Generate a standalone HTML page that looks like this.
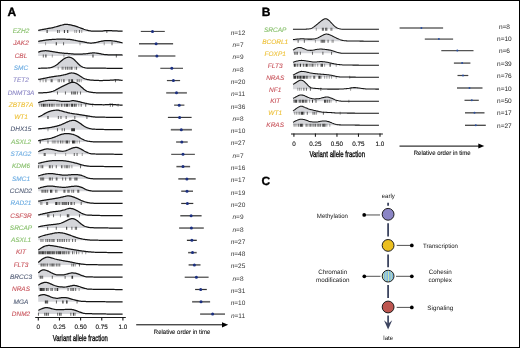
<!DOCTYPE html>
<html><head><meta charset="utf-8"><style>
html,body{margin:0;padding:0;background:#fff;width:520px;height:348px;overflow:hidden}
svg{display:block;will-change:transform}
text{font-family:"Liberation Sans",sans-serif;text-rendering:geometricPrecision}
</style></head><body>
<svg width="520" height="348" viewBox="0 0 520 348">
<rect x="0.5" y="0.5" width="519" height="347" fill="#fff" stroke="#000" stroke-width="1"/>
<path d="M38.20,31.40 L38.20,30.28 L38.97,30.18 L39.75,30.05 L40.52,29.90 L41.30,29.75 L42.07,29.60 L42.85,29.45 L43.62,29.31 L44.39,29.16 L45.17,29.02 L45.94,28.88 L46.72,28.75 L47.49,28.62 L48.27,28.49 L49.04,28.36 L49.81,28.23 L50.59,28.09 L51.36,27.95 L52.14,27.79 L52.91,27.61 L53.69,27.42 L54.46,27.21 L55.23,26.99 L56.01,26.77 L56.78,26.54 L57.56,26.32 L58.33,26.10 L59.11,25.89 L59.88,25.68 L60.66,25.46 L61.43,25.24 L62.20,25.02 L62.98,24.81 L63.75,24.63 L64.53,24.49 L65.30,24.39 L66.08,24.35 L66.85,24.36 L67.62,24.42 L68.40,24.52 L69.17,24.65 L69.95,24.80 L70.72,24.96 L71.50,25.14 L72.27,25.33 L73.04,25.52 L73.82,25.72 L74.59,25.93 L75.37,26.17 L76.14,26.42 L76.92,26.68 L77.69,26.95 L78.46,27.23 L79.24,27.50 L80.01,27.78 L80.79,28.06 L81.56,28.35 L82.34,28.64 L83.11,28.94 L83.88,29.24 L84.66,29.51 L85.43,29.76 L86.21,29.99 L86.98,30.18 L87.76,30.36 L88.53,30.52 L89.30,30.68 L90.08,30.82 L90.85,30.95 L91.63,31.05 L92.40,31.13 L93.18,31.19 L93.95,31.21 L94.72,31.22 L95.50,31.23 L96.27,31.23 L97.05,31.23 L97.82,31.23 L98.60,31.23 L99.37,31.23 L100.14,31.22 L100.92,31.20 L101.69,31.15 L102.47,31.07 L103.24,30.96 L104.02,30.85 L104.79,30.74 L105.57,30.64 L106.34,30.58 L107.11,30.56 L107.89,30.56 L108.66,30.58 L109.44,30.61 L110.21,30.64 L110.99,30.68 L111.76,30.73 L112.53,30.77 L113.31,30.81 L114.08,30.85 L114.86,30.89 L115.63,30.92 L116.41,30.96 L117.18,30.99 L117.95,31.03 L118.73,31.06 L119.50,31.09 L120.28,31.13 L121.05,31.16 L121.83,31.19 L122.60,31.21 L122.60,31.40 Z" fill="#d5d6da" stroke="none"/>
<path d="M74.81,30.00v3M76.54,30.00v3M81.73,30.00v3" stroke="#2a2a2a" stroke-width="1.05" stroke-opacity="0.42" fill="none"/>
<path d="M57.50,30.00v3M59.23,30.00v3M79.48,30.00v3M106.83,30.00v3" stroke="#2a2a2a" stroke-width="1.05" stroke-opacity="0.68" fill="none"/>
<path d="M47.12,30.00v3M64.42,30.00v3M67.71,30.00v3" stroke="#2a2a2a" stroke-width="1.05" stroke-opacity="0.95" fill="none"/>
<path d="M38.20,30.28 L38.97,30.18 L39.75,30.05 L40.52,29.90 L41.30,29.75 L42.07,29.60 L42.85,29.45 L43.62,29.31 L44.39,29.16 L45.17,29.02 L45.94,28.88 L46.72,28.75 L47.49,28.62 L48.27,28.49 L49.04,28.36 L49.81,28.23 L50.59,28.09 L51.36,27.95 L52.14,27.79 L52.91,27.61 L53.69,27.42 L54.46,27.21 L55.23,26.99 L56.01,26.77 L56.78,26.54 L57.56,26.32 L58.33,26.10 L59.11,25.89 L59.88,25.68 L60.66,25.46 L61.43,25.24 L62.20,25.02 L62.98,24.81 L63.75,24.63 L64.53,24.49 L65.30,24.39 L66.08,24.35 L66.85,24.36 L67.62,24.42 L68.40,24.52 L69.17,24.65 L69.95,24.80 L70.72,24.96 L71.50,25.14 L72.27,25.33 L73.04,25.52 L73.82,25.72 L74.59,25.93 L75.37,26.17 L76.14,26.42 L76.92,26.68 L77.69,26.95 L78.46,27.23 L79.24,27.50 L80.01,27.78 L80.79,28.06 L81.56,28.35 L82.34,28.64 L83.11,28.94 L83.88,29.24 L84.66,29.51 L85.43,29.76 L86.21,29.99 L86.98,30.18 L87.76,30.36 L88.53,30.52 L89.30,30.68 L90.08,30.82 L90.85,30.95 L91.63,31.05 L92.40,31.13 L93.18,31.19 L93.95,31.21 L94.72,31.22 L95.50,31.23 L96.27,31.23 L97.05,31.23 L97.82,31.23 L98.60,31.23 L99.37,31.23 L100.14,31.22 L100.92,31.20 L101.69,31.15 L102.47,31.07 L103.24,30.96 L104.02,30.85 L104.79,30.74 L105.57,30.64 L106.34,30.58 L107.11,30.56 L107.89,30.56 L108.66,30.58 L109.44,30.61 L110.21,30.64 L110.99,30.68 L111.76,30.73 L112.53,30.77 L113.31,30.81 L114.08,30.85 L114.86,30.89 L115.63,30.92 L116.41,30.96 L117.18,30.99 L117.95,31.03 L118.73,31.06 L119.50,31.09 L120.28,31.13 L121.05,31.16 L121.83,31.19 L122.60,31.21" fill="none" stroke="#151515" stroke-width="1.25" stroke-linejoin="round"/>
<path d="M38.20,43.69 L38.20,41.27 L38.97,41.18 L39.75,41.05 L40.52,40.91 L41.30,40.77 L42.07,40.64 L42.85,40.51 L43.62,40.39 L44.39,40.28 L45.17,40.17 L45.94,40.08 L46.72,39.98 L47.49,39.89 L48.27,39.80 L49.04,39.72 L49.81,39.65 L50.59,39.58 L51.36,39.52 L52.14,39.46 L52.91,39.42 L53.69,39.37 L54.46,39.33 L55.23,39.29 L56.01,39.25 L56.78,39.21 L57.56,39.18 L58.33,39.15 L59.11,39.13 L59.88,39.12 L60.66,39.11 L61.43,39.11 L62.20,39.12 L62.98,39.13 L63.75,39.15 L64.53,39.18 L65.30,39.21 L66.08,39.25 L66.85,39.29 L67.62,39.33 L68.40,39.38 L69.17,39.43 L69.95,39.49 L70.72,39.57 L71.50,39.68 L72.27,39.80 L73.04,39.94 L73.82,40.09 L74.59,40.25 L75.37,40.42 L76.14,40.58 L76.92,40.74 L77.69,40.89 L78.46,41.03 L79.24,41.17 L80.01,41.30 L80.79,41.43 L81.56,41.56 L82.34,41.69 L83.11,41.82 L83.88,41.96 L84.66,42.12 L85.43,42.29 L86.21,42.46 L86.98,42.63 L87.76,42.78 L88.53,42.90 L89.30,42.99 L90.08,43.04 L90.85,43.05 L91.63,43.02 L92.40,42.96 L93.18,42.88 L93.95,42.79 L94.72,42.68 L95.50,42.56 L96.27,42.42 L97.05,42.25 L97.82,42.06 L98.60,41.86 L99.37,41.67 L100.14,41.50 L100.92,41.34 L101.69,41.20 L102.47,41.07 L103.24,40.94 L104.02,40.82 L104.79,40.72 L105.57,40.63 L106.34,40.56 L107.11,40.52 L107.89,40.51 L108.66,40.53 L109.44,40.57 L110.21,40.63 L110.99,40.71 L111.76,40.80 L112.53,40.90 L113.31,41.00 L114.08,41.11 L114.86,41.22 L115.63,41.34 L116.41,41.47 L117.18,41.62 L117.95,41.77 L118.73,41.94 L119.50,42.12 L120.28,42.30 L121.05,42.49 L121.83,42.67 L122.60,42.80 L122.60,43.69 Z" fill="#d5d6da" stroke="none"/>
<path d="M45.56,42.29v3M80.00,42.29v3M104.23,42.29v3" stroke="#2a2a2a" stroke-width="1.05" stroke-opacity="0.42" fill="none"/>
<path d="M63.56,42.29v3M112.02,42.29v3" stroke="#2a2a2a" stroke-width="1.05" stroke-opacity="0.68" fill="none"/>
<path d="M56.29,42.29v3" stroke="#2a2a2a" stroke-width="1.05" stroke-opacity="0.95" fill="none"/>
<path d="M38.20,41.27 L38.97,41.18 L39.75,41.05 L40.52,40.91 L41.30,40.77 L42.07,40.64 L42.85,40.51 L43.62,40.39 L44.39,40.28 L45.17,40.17 L45.94,40.08 L46.72,39.98 L47.49,39.89 L48.27,39.80 L49.04,39.72 L49.81,39.65 L50.59,39.58 L51.36,39.52 L52.14,39.46 L52.91,39.42 L53.69,39.37 L54.46,39.33 L55.23,39.29 L56.01,39.25 L56.78,39.21 L57.56,39.18 L58.33,39.15 L59.11,39.13 L59.88,39.12 L60.66,39.11 L61.43,39.11 L62.20,39.12 L62.98,39.13 L63.75,39.15 L64.53,39.18 L65.30,39.21 L66.08,39.25 L66.85,39.29 L67.62,39.33 L68.40,39.38 L69.17,39.43 L69.95,39.49 L70.72,39.57 L71.50,39.68 L72.27,39.80 L73.04,39.94 L73.82,40.09 L74.59,40.25 L75.37,40.42 L76.14,40.58 L76.92,40.74 L77.69,40.89 L78.46,41.03 L79.24,41.17 L80.01,41.30 L80.79,41.43 L81.56,41.56 L82.34,41.69 L83.11,41.82 L83.88,41.96 L84.66,42.12 L85.43,42.29 L86.21,42.46 L86.98,42.63 L87.76,42.78 L88.53,42.90 L89.30,42.99 L90.08,43.04 L90.85,43.05 L91.63,43.02 L92.40,42.96 L93.18,42.88 L93.95,42.79 L94.72,42.68 L95.50,42.56 L96.27,42.42 L97.05,42.25 L97.82,42.06 L98.60,41.86 L99.37,41.67 L100.14,41.50 L100.92,41.34 L101.69,41.20 L102.47,41.07 L103.24,40.94 L104.02,40.82 L104.79,40.72 L105.57,40.63 L106.34,40.56 L107.11,40.52 L107.89,40.51 L108.66,40.53 L109.44,40.57 L110.21,40.63 L110.99,40.71 L111.76,40.80 L112.53,40.90 L113.31,41.00 L114.08,41.11 L114.86,41.22 L115.63,41.34 L116.41,41.47 L117.18,41.62 L117.95,41.77 L118.73,41.94 L119.50,42.12 L120.28,42.30 L121.05,42.49 L121.83,42.67 L122.60,42.80" fill="none" stroke="#151515" stroke-width="1.25" stroke-linejoin="round"/>
<path d="M38.20,55.98 L38.20,52.09 L38.97,51.90 L39.75,51.65 L40.52,51.41 L41.30,51.21 L42.07,51.05 L42.85,50.93 L43.62,50.83 L44.39,50.77 L45.17,50.74 L45.94,50.74 L46.72,50.78 L47.49,50.85 L48.27,50.94 L49.04,51.05 L49.81,51.17 L50.59,51.30 L51.36,51.42 L52.14,51.54 L52.91,51.66 L53.69,51.78 L54.46,51.91 L55.23,52.05 L56.01,52.18 L56.78,52.32 L57.56,52.45 L58.33,52.58 L59.11,52.70 L59.88,52.81 L60.66,52.91 L61.43,52.99 L62.20,53.07 L62.98,53.14 L63.75,53.21 L64.53,53.27 L65.30,53.32 L66.08,53.38 L66.85,53.44 L67.62,53.49 L68.40,53.55 L69.17,53.61 L69.95,53.68 L70.72,53.75 L71.50,53.83 L72.27,53.91 L73.04,53.98 L73.82,54.05 L74.59,54.10 L75.37,54.13 L76.14,54.15 L76.92,54.15 L77.69,54.15 L78.46,54.13 L79.24,54.12 L80.01,54.10 L80.79,54.07 L81.56,54.04 L82.34,54.01 L83.11,53.98 L83.88,53.94 L84.66,53.89 L85.43,53.83 L86.21,53.75 L86.98,53.65 L87.76,53.54 L88.53,53.43 L89.30,53.33 L90.08,53.22 L90.85,53.11 L91.63,53.02 L92.40,52.94 L93.18,52.90 L93.95,52.90 L94.72,52.94 L95.50,53.00 L96.27,53.07 L97.05,53.16 L97.82,53.26 L98.60,53.38 L99.37,53.52 L100.14,53.69 L100.92,53.86 L101.69,54.04 L102.47,54.21 L103.24,54.35 L104.02,54.46 L104.79,54.54 L105.57,54.61 L106.34,54.66 L107.11,54.71 L107.89,54.76 L108.66,54.79 L109.44,54.82 L110.21,54.84 L110.99,54.85 L111.76,54.85 L112.53,54.85 L113.31,54.85 L114.08,54.86 L114.86,54.86 L115.63,54.86 L116.41,54.86 L117.18,54.86 L117.95,54.88 L118.73,54.89 L119.50,54.91 L120.28,54.94 L121.05,54.96 L121.83,54.99 L122.60,55.01 L122.60,55.98 Z" fill="#d5d6da" stroke="none"/>
<path d="M52.31,54.58v3M63.90,54.58v3" stroke="#2a2a2a" stroke-width="1.05" stroke-opacity="0.42" fill="none"/>
<path d="M43.31,54.58v3M116.35,54.58v3" stroke="#2a2a2a" stroke-width="1.05" stroke-opacity="0.68" fill="none"/>
<path d="M45.90,54.58v3M92.98,54.58v3" stroke="#2a2a2a" stroke-width="1.05" stroke-opacity="0.95" fill="none"/>
<path d="M38.20,52.09 L38.97,51.90 L39.75,51.65 L40.52,51.41 L41.30,51.21 L42.07,51.05 L42.85,50.93 L43.62,50.83 L44.39,50.77 L45.17,50.74 L45.94,50.74 L46.72,50.78 L47.49,50.85 L48.27,50.94 L49.04,51.05 L49.81,51.17 L50.59,51.30 L51.36,51.42 L52.14,51.54 L52.91,51.66 L53.69,51.78 L54.46,51.91 L55.23,52.05 L56.01,52.18 L56.78,52.32 L57.56,52.45 L58.33,52.58 L59.11,52.70 L59.88,52.81 L60.66,52.91 L61.43,52.99 L62.20,53.07 L62.98,53.14 L63.75,53.21 L64.53,53.27 L65.30,53.32 L66.08,53.38 L66.85,53.44 L67.62,53.49 L68.40,53.55 L69.17,53.61 L69.95,53.68 L70.72,53.75 L71.50,53.83 L72.27,53.91 L73.04,53.98 L73.82,54.05 L74.59,54.10 L75.37,54.13 L76.14,54.15 L76.92,54.15 L77.69,54.15 L78.46,54.13 L79.24,54.12 L80.01,54.10 L80.79,54.07 L81.56,54.04 L82.34,54.01 L83.11,53.98 L83.88,53.94 L84.66,53.89 L85.43,53.83 L86.21,53.75 L86.98,53.65 L87.76,53.54 L88.53,53.43 L89.30,53.33 L90.08,53.22 L90.85,53.11 L91.63,53.02 L92.40,52.94 L93.18,52.90 L93.95,52.90 L94.72,52.94 L95.50,53.00 L96.27,53.07 L97.05,53.16 L97.82,53.26 L98.60,53.38 L99.37,53.52 L100.14,53.69 L100.92,53.86 L101.69,54.04 L102.47,54.21 L103.24,54.35 L104.02,54.46 L104.79,54.54 L105.57,54.61 L106.34,54.66 L107.11,54.71 L107.89,54.76 L108.66,54.79 L109.44,54.82 L110.21,54.84 L110.99,54.85 L111.76,54.85 L112.53,54.85 L113.31,54.85 L114.08,54.86 L114.86,54.86 L115.63,54.86 L116.41,54.86 L117.18,54.86 L117.95,54.88 L118.73,54.89 L119.50,54.91 L120.28,54.94 L121.05,54.96 L121.83,54.99 L122.60,55.01" fill="none" stroke="#151515" stroke-width="1.25" stroke-linejoin="round"/>
<path d="M38.20,68.27 L38.20,68.27 L38.97,68.27 L39.75,68.26 L40.52,68.25 L41.30,68.24 L42.07,68.22 L42.85,68.20 L43.62,68.17 L44.39,68.15 L45.17,68.12 L45.94,68.08 L46.72,68.04 L47.49,68.00 L48.27,67.95 L49.04,67.87 L49.81,67.76 L50.59,67.60 L51.36,67.38 L52.14,67.12 L52.91,66.82 L53.69,66.49 L54.46,66.13 L55.23,65.74 L56.01,65.29 L56.78,64.78 L57.56,64.18 L58.33,63.51 L59.11,62.82 L59.88,62.12 L60.66,61.45 L61.43,60.81 L62.20,60.18 L62.98,59.58 L63.75,59.02 L64.53,58.52 L65.30,58.11 L66.08,57.76 L66.85,57.48 L67.62,57.26 L68.40,57.15 L69.17,57.15 L69.95,57.27 L70.72,57.49 L71.50,57.80 L72.27,58.19 L73.04,58.70 L73.82,59.33 L74.59,60.06 L75.37,60.85 L76.14,61.63 L76.92,62.41 L77.69,63.20 L78.46,63.99 L79.24,64.75 L80.01,65.45 L80.79,66.05 L81.56,66.54 L82.34,66.92 L83.11,67.23 L83.88,67.49 L84.66,67.71 L85.43,67.89 L86.21,68.00 L86.98,68.07 L87.76,68.10 L88.53,68.11 L89.30,68.12 L90.08,68.13 L90.85,68.14 L91.63,68.15 L92.40,68.16 L93.18,68.16 L93.95,68.17 L94.72,68.18 L95.50,68.18 L96.27,68.19 L97.05,68.20 L97.82,68.20 L98.60,68.21 L99.37,68.21 L100.14,68.22 L100.92,68.22 L101.69,68.22 L102.47,68.23 L103.24,68.23 L104.02,68.24 L104.79,68.24 L105.57,68.24 L106.34,68.25 L107.11,68.25 L107.89,68.25 L108.66,68.25 L109.44,68.25 L110.21,68.26 L110.99,68.26 L111.76,68.26 L112.53,68.26 L113.31,68.26 L114.08,68.26 L114.86,68.27 L115.63,68.27 L116.41,68.27 L117.18,68.27 L117.95,68.27 L118.73,68.27 L119.50,68.27 L120.28,68.27 L121.05,68.27 L121.83,68.27 L122.60,68.27 L122.60,68.27 Z" fill="#d5d6da" stroke="none"/>
<path d="M58.19,66.87v3M63.73,66.87v3M74.98,66.87v3" stroke="#2a2a2a" stroke-width="1.05" stroke-opacity="0.42" fill="none"/>
<path d="M62.17,66.87v3M65.63,66.87v3M67.37,66.87v3M69.10,66.87v3M71.00,66.87v3M72.04,66.87v3M76.54,66.87v3" stroke="#2a2a2a" stroke-width="1.05" stroke-opacity="0.68" fill="none"/>
<path d="M38.20,68.27 L38.97,68.27 L39.75,68.26 L40.52,68.25 L41.30,68.24 L42.07,68.22 L42.85,68.20 L43.62,68.17 L44.39,68.15 L45.17,68.12 L45.94,68.08 L46.72,68.04 L47.49,68.00 L48.27,67.95 L49.04,67.87 L49.81,67.76 L50.59,67.60 L51.36,67.38 L52.14,67.12 L52.91,66.82 L53.69,66.49 L54.46,66.13 L55.23,65.74 L56.01,65.29 L56.78,64.78 L57.56,64.18 L58.33,63.51 L59.11,62.82 L59.88,62.12 L60.66,61.45 L61.43,60.81 L62.20,60.18 L62.98,59.58 L63.75,59.02 L64.53,58.52 L65.30,58.11 L66.08,57.76 L66.85,57.48 L67.62,57.26 L68.40,57.15 L69.17,57.15 L69.95,57.27 L70.72,57.49 L71.50,57.80 L72.27,58.19 L73.04,58.70 L73.82,59.33 L74.59,60.06 L75.37,60.85 L76.14,61.63 L76.92,62.41 L77.69,63.20 L78.46,63.99 L79.24,64.75 L80.01,65.45 L80.79,66.05 L81.56,66.54 L82.34,66.92 L83.11,67.23 L83.88,67.49 L84.66,67.71 L85.43,67.89 L86.21,68.00 L86.98,68.07 L87.76,68.10 L88.53,68.11 L89.30,68.12 L90.08,68.13 L90.85,68.14 L91.63,68.15 L92.40,68.16 L93.18,68.16 L93.95,68.17 L94.72,68.18 L95.50,68.18 L96.27,68.19 L97.05,68.20 L97.82,68.20 L98.60,68.21 L99.37,68.21 L100.14,68.22 L100.92,68.22 L101.69,68.22 L102.47,68.23 L103.24,68.23 L104.02,68.24 L104.79,68.24 L105.57,68.24 L106.34,68.25 L107.11,68.25 L107.89,68.25 L108.66,68.25 L109.44,68.25 L110.21,68.26 L110.99,68.26 L111.76,68.26 L112.53,68.26 L113.31,68.26 L114.08,68.26 L114.86,68.27 L115.63,68.27 L116.41,68.27 L117.18,68.27 L117.95,68.27 L118.73,68.27 L119.50,68.27 L120.28,68.27 L121.05,68.27 L121.83,68.27 L122.60,68.27" fill="none" stroke="#151515" stroke-width="1.25" stroke-linejoin="round"/>
<path d="M38.20,80.56 L38.20,79.41 L38.97,79.32 L39.75,79.19 L40.52,79.04 L41.30,78.90 L42.07,78.75 L42.85,78.60 L43.62,78.45 L44.39,78.30 L45.17,78.14 L45.94,77.99 L46.72,77.83 L47.49,77.67 L48.27,77.51 L49.04,77.35 L49.81,77.19 L50.59,77.04 L51.36,76.89 L52.14,76.76 L52.91,76.63 L53.69,76.51 L54.46,76.40 L55.23,76.30 L56.01,76.20 L56.78,76.10 L57.56,76.00 L58.33,75.90 L59.11,75.79 L59.88,75.68 L60.66,75.55 L61.43,75.41 L62.20,75.26 L62.98,75.09 L63.75,74.92 L64.53,74.74 L65.30,74.55 L66.08,74.35 L66.85,74.14 L67.62,73.91 L68.40,73.66 L69.17,73.41 L69.95,73.20 L70.72,73.05 L71.50,72.98 L72.27,73.00 L73.04,73.08 L73.82,73.21 L74.59,73.37 L75.37,73.57 L76.14,73.83 L76.92,74.18 L77.69,74.59 L78.46,75.06 L79.24,75.55 L80.01,76.03 L80.79,76.52 L81.56,77.01 L82.34,77.50 L83.11,77.96 L83.88,78.37 L84.66,78.72 L85.43,78.99 L86.21,79.21 L86.98,79.40 L87.76,79.57 L88.53,79.72 L89.30,79.85 L90.08,79.96 L90.85,80.05 L91.63,80.13 L92.40,80.19 L93.18,80.24 L93.95,80.29 L94.72,80.34 L95.50,80.38 L96.27,80.41 L97.05,80.45 L97.82,80.47 L98.60,80.49 L99.37,80.51 L100.14,80.52 L100.92,80.52 L101.69,80.52 L102.47,80.51 L103.24,80.49 L104.02,80.47 L104.79,80.45 L105.57,80.42 L106.34,80.40 L107.11,80.36 L107.89,80.33 L108.66,80.30 L109.44,80.26 L110.21,80.22 L110.99,80.18 L111.76,80.13 L112.53,80.08 L113.31,80.02 L114.08,79.96 L114.86,79.90 L115.63,79.87 L116.41,79.86 L117.18,79.87 L117.95,79.90 L118.73,79.96 L119.50,80.04 L120.28,80.13 L121.05,80.25 L121.83,80.36 L122.60,80.45 L122.60,80.56 Z" fill="#d5d6da" stroke="none"/>
<path d="M40.19,79.16v3M43.13,79.16v3M58.02,79.16v3M61.48,79.16v3M81.21,79.16v3" stroke="#2a2a2a" stroke-width="1.05" stroke-opacity="0.42" fill="none"/>
<path d="M45.90,79.16v3M51.10,79.16v3M52.13,79.16v3M59.23,79.16v3M77.23,79.16v3M79.13,79.16v3M115.48,79.16v3" stroke="#2a2a2a" stroke-width="1.05" stroke-opacity="0.68" fill="none"/>
<path d="M63.90,79.16v3M69.10,79.16v3M71.35,79.16v3M72.56,79.16v3" stroke="#2a2a2a" stroke-width="1.05" stroke-opacity="0.95" fill="none"/>
<path d="M38.20,79.41 L38.97,79.32 L39.75,79.19 L40.52,79.04 L41.30,78.90 L42.07,78.75 L42.85,78.60 L43.62,78.45 L44.39,78.30 L45.17,78.14 L45.94,77.99 L46.72,77.83 L47.49,77.67 L48.27,77.51 L49.04,77.35 L49.81,77.19 L50.59,77.04 L51.36,76.89 L52.14,76.76 L52.91,76.63 L53.69,76.51 L54.46,76.40 L55.23,76.30 L56.01,76.20 L56.78,76.10 L57.56,76.00 L58.33,75.90 L59.11,75.79 L59.88,75.68 L60.66,75.55 L61.43,75.41 L62.20,75.26 L62.98,75.09 L63.75,74.92 L64.53,74.74 L65.30,74.55 L66.08,74.35 L66.85,74.14 L67.62,73.91 L68.40,73.66 L69.17,73.41 L69.95,73.20 L70.72,73.05 L71.50,72.98 L72.27,73.00 L73.04,73.08 L73.82,73.21 L74.59,73.37 L75.37,73.57 L76.14,73.83 L76.92,74.18 L77.69,74.59 L78.46,75.06 L79.24,75.55 L80.01,76.03 L80.79,76.52 L81.56,77.01 L82.34,77.50 L83.11,77.96 L83.88,78.37 L84.66,78.72 L85.43,78.99 L86.21,79.21 L86.98,79.40 L87.76,79.57 L88.53,79.72 L89.30,79.85 L90.08,79.96 L90.85,80.05 L91.63,80.13 L92.40,80.19 L93.18,80.24 L93.95,80.29 L94.72,80.34 L95.50,80.38 L96.27,80.41 L97.05,80.45 L97.82,80.47 L98.60,80.49 L99.37,80.51 L100.14,80.52 L100.92,80.52 L101.69,80.52 L102.47,80.51 L103.24,80.49 L104.02,80.47 L104.79,80.45 L105.57,80.42 L106.34,80.40 L107.11,80.36 L107.89,80.33 L108.66,80.30 L109.44,80.26 L110.21,80.22 L110.99,80.18 L111.76,80.13 L112.53,80.08 L113.31,80.02 L114.08,79.96 L114.86,79.90 L115.63,79.87 L116.41,79.86 L117.18,79.87 L117.95,79.90 L118.73,79.96 L119.50,80.04 L120.28,80.13 L121.05,80.25 L121.83,80.36 L122.60,80.45" fill="none" stroke="#151515" stroke-width="1.25" stroke-linejoin="round"/>
<path d="M38.20,92.85 L38.20,92.85 L38.97,92.84 L39.75,92.84 L40.52,92.83 L41.30,92.81 L42.07,92.79 L42.85,92.77 L43.62,92.74 L44.39,92.71 L45.17,92.68 L45.94,92.63 L46.72,92.55 L47.49,92.46 L48.27,92.34 L49.04,92.21 L49.81,92.05 L50.59,91.88 L51.36,91.69 L52.14,91.48 L52.91,91.24 L53.69,90.94 L54.46,90.60 L55.23,90.21 L56.01,89.79 L56.78,89.36 L57.56,88.92 L58.33,88.49 L59.11,88.08 L59.88,87.68 L60.66,87.28 L61.43,86.89 L62.20,86.49 L62.98,86.10 L63.75,85.71 L64.53,85.33 L65.30,84.95 L66.08,84.58 L66.85,84.20 L67.62,83.83 L68.40,83.47 L69.17,83.14 L69.95,82.85 L70.72,82.60 L71.50,82.41 L72.27,82.27 L73.04,82.23 L73.82,82.30 L74.59,82.48 L75.37,82.75 L76.14,83.09 L76.92,83.52 L77.69,84.02 L78.46,84.58 L79.24,85.17 L80.01,85.81 L80.79,86.48 L81.56,87.16 L82.34,87.84 L83.11,88.51 L83.88,89.16 L84.66,89.78 L85.43,90.36 L86.21,90.84 L86.98,91.22 L87.76,91.50 L88.53,91.72 L89.30,91.89 L90.08,92.04 L90.85,92.18 L91.63,92.31 L92.40,92.43 L93.18,92.54 L93.95,92.63 L94.72,92.70 L95.50,92.74 L96.27,92.76 L97.05,92.77 L97.82,92.78 L98.60,92.79 L99.37,92.79 L100.14,92.80 L100.92,92.80 L101.69,92.80 L102.47,92.81 L103.24,92.81 L104.02,92.82 L104.79,92.82 L105.57,92.82 L106.34,92.82 L107.11,92.83 L107.89,92.83 L108.66,92.83 L109.44,92.83 L110.21,92.84 L110.99,92.84 L111.76,92.84 L112.53,92.84 L113.31,92.84 L114.08,92.84 L114.86,92.85 L115.63,92.85 L116.41,92.85 L117.18,92.85 L117.95,92.85 L118.73,92.85 L119.50,92.85 L120.28,92.85 L121.05,92.85 L121.83,92.85 L122.60,92.85 L122.60,92.85 Z" fill="#d5d6da" stroke="none"/>
<path d="M57.50,91.45v3M65.46,91.45v3M71.52,91.45v3M73.08,91.45v3M74.29,91.45v3M75.50,91.45v3M77.40,91.45v3M80.52,91.45v3" stroke="#2a2a2a" stroke-width="1.05" stroke-opacity="0.68" fill="none"/>
<path d="M38.20,92.85 L38.97,92.84 L39.75,92.84 L40.52,92.83 L41.30,92.81 L42.07,92.79 L42.85,92.77 L43.62,92.74 L44.39,92.71 L45.17,92.68 L45.94,92.63 L46.72,92.55 L47.49,92.46 L48.27,92.34 L49.04,92.21 L49.81,92.05 L50.59,91.88 L51.36,91.69 L52.14,91.48 L52.91,91.24 L53.69,90.94 L54.46,90.60 L55.23,90.21 L56.01,89.79 L56.78,89.36 L57.56,88.92 L58.33,88.49 L59.11,88.08 L59.88,87.68 L60.66,87.28 L61.43,86.89 L62.20,86.49 L62.98,86.10 L63.75,85.71 L64.53,85.33 L65.30,84.95 L66.08,84.58 L66.85,84.20 L67.62,83.83 L68.40,83.47 L69.17,83.14 L69.95,82.85 L70.72,82.60 L71.50,82.41 L72.27,82.27 L73.04,82.23 L73.82,82.30 L74.59,82.48 L75.37,82.75 L76.14,83.09 L76.92,83.52 L77.69,84.02 L78.46,84.58 L79.24,85.17 L80.01,85.81 L80.79,86.48 L81.56,87.16 L82.34,87.84 L83.11,88.51 L83.88,89.16 L84.66,89.78 L85.43,90.36 L86.21,90.84 L86.98,91.22 L87.76,91.50 L88.53,91.72 L89.30,91.89 L90.08,92.04 L90.85,92.18 L91.63,92.31 L92.40,92.43 L93.18,92.54 L93.95,92.63 L94.72,92.70 L95.50,92.74 L96.27,92.76 L97.05,92.77 L97.82,92.78 L98.60,92.79 L99.37,92.79 L100.14,92.80 L100.92,92.80 L101.69,92.80 L102.47,92.81 L103.24,92.81 L104.02,92.82 L104.79,92.82 L105.57,92.82 L106.34,92.82 L107.11,92.83 L107.89,92.83 L108.66,92.83 L109.44,92.83 L110.21,92.84 L110.99,92.84 L111.76,92.84 L112.53,92.84 L113.31,92.84 L114.08,92.84 L114.86,92.85 L115.63,92.85 L116.41,92.85 L117.18,92.85 L117.95,92.85 L118.73,92.85 L119.50,92.85 L120.28,92.85 L121.05,92.85 L121.83,92.85 L122.60,92.85" fill="none" stroke="#151515" stroke-width="1.25" stroke-linejoin="round"/>
<path d="M38.20,105.14 L38.20,102.54 L38.97,102.37 L39.75,102.15 L40.52,101.92 L41.30,101.69 L42.07,101.49 L42.85,101.31 L43.62,101.14 L44.39,101.00 L45.17,100.86 L45.94,100.73 L46.72,100.61 L47.49,100.50 L48.27,100.41 L49.04,100.34 L49.81,100.30 L50.59,100.28 L51.36,100.28 L52.14,100.29 L52.91,100.32 L53.69,100.35 L54.46,100.39 L55.23,100.44 L56.01,100.50 L56.78,100.56 L57.56,100.64 L58.33,100.75 L59.11,100.88 L59.88,101.04 L60.66,101.19 L61.43,101.32 L62.20,101.40 L62.98,101.45 L63.75,101.47 L64.53,101.47 L65.30,101.47 L66.08,101.47 L66.85,101.46 L67.62,101.45 L68.40,101.39 L69.17,101.29 L69.95,101.15 L70.72,100.99 L71.50,100.83 L72.27,100.72 L73.04,100.67 L73.82,100.68 L74.59,100.76 L75.37,100.87 L76.14,101.02 L76.92,101.18 L77.69,101.35 L78.46,101.52 L79.24,101.69 L80.01,101.88 L80.79,102.08 L81.56,102.28 L82.34,102.49 L83.11,102.70 L83.88,102.89 L84.66,103.07 L85.43,103.25 L86.21,103.42 L86.98,103.59 L87.76,103.75 L88.53,103.90 L89.30,104.05 L90.08,104.17 L90.85,104.28 L91.63,104.36 L92.40,104.42 L93.18,104.46 L93.95,104.50 L94.72,104.54 L95.50,104.57 L96.27,104.60 L97.05,104.63 L97.82,104.65 L98.60,104.68 L99.37,104.70 L100.14,104.71 L100.92,104.73 L101.69,104.74 L102.47,104.75 L103.24,104.75 L104.02,104.75 L104.79,104.74 L105.57,104.71 L106.34,104.67 L107.11,104.63 L107.89,104.57 L108.66,104.52 L109.44,104.48 L110.21,104.45 L110.99,104.43 L111.76,104.44 L112.53,104.47 L113.31,104.52 L114.08,104.58 L114.86,104.66 L115.63,104.73 L116.41,104.80 L117.18,104.86 L117.95,104.92 L118.73,104.96 L119.50,105.00 L120.28,105.03 L121.05,105.06 L121.83,105.08 L122.60,105.09 L122.60,105.14 Z" fill="#d5d6da" stroke="none"/>
<path d="M39.67,103.74v3M56.29,103.74v3M59.75,103.74v3M62.69,103.74v3M78.79,103.74v3M92.63,103.74v3M118.08,103.74v3" stroke="#2a2a2a" stroke-width="1.05" stroke-opacity="0.42" fill="none"/>
<path d="M41.40,103.74v3M47.63,103.74v3M51.10,103.74v3M52.31,103.74v3M54.04,103.74v3M58.02,103.74v3M61.48,103.74v3M64.42,103.74v3M69.10,103.74v3M81.21,103.74v3M85.71,103.74v3M110.29,103.74v3M112.54,103.74v3" stroke="#2a2a2a" stroke-width="1.05" stroke-opacity="0.68" fill="none"/>
<path d="M43.13,103.74v3M44.17,103.74v3M45.90,103.74v3M49.37,103.74v3M66.15,103.74v3M67.37,103.74v3M71.35,103.74v3M72.56,103.74v3M74.29,103.74v3M76.02,103.74v3" stroke="#2a2a2a" stroke-width="1.05" stroke-opacity="0.95" fill="none"/>
<path d="M38.20,102.54 L38.97,102.37 L39.75,102.15 L40.52,101.92 L41.30,101.69 L42.07,101.49 L42.85,101.31 L43.62,101.14 L44.39,101.00 L45.17,100.86 L45.94,100.73 L46.72,100.61 L47.49,100.50 L48.27,100.41 L49.04,100.34 L49.81,100.30 L50.59,100.28 L51.36,100.28 L52.14,100.29 L52.91,100.32 L53.69,100.35 L54.46,100.39 L55.23,100.44 L56.01,100.50 L56.78,100.56 L57.56,100.64 L58.33,100.75 L59.11,100.88 L59.88,101.04 L60.66,101.19 L61.43,101.32 L62.20,101.40 L62.98,101.45 L63.75,101.47 L64.53,101.47 L65.30,101.47 L66.08,101.47 L66.85,101.46 L67.62,101.45 L68.40,101.39 L69.17,101.29 L69.95,101.15 L70.72,100.99 L71.50,100.83 L72.27,100.72 L73.04,100.67 L73.82,100.68 L74.59,100.76 L75.37,100.87 L76.14,101.02 L76.92,101.18 L77.69,101.35 L78.46,101.52 L79.24,101.69 L80.01,101.88 L80.79,102.08 L81.56,102.28 L82.34,102.49 L83.11,102.70 L83.88,102.89 L84.66,103.07 L85.43,103.25 L86.21,103.42 L86.98,103.59 L87.76,103.75 L88.53,103.90 L89.30,104.05 L90.08,104.17 L90.85,104.28 L91.63,104.36 L92.40,104.42 L93.18,104.46 L93.95,104.50 L94.72,104.54 L95.50,104.57 L96.27,104.60 L97.05,104.63 L97.82,104.65 L98.60,104.68 L99.37,104.70 L100.14,104.71 L100.92,104.73 L101.69,104.74 L102.47,104.75 L103.24,104.75 L104.02,104.75 L104.79,104.74 L105.57,104.71 L106.34,104.67 L107.11,104.63 L107.89,104.57 L108.66,104.52 L109.44,104.48 L110.21,104.45 L110.99,104.43 L111.76,104.44 L112.53,104.47 L113.31,104.52 L114.08,104.58 L114.86,104.66 L115.63,104.73 L116.41,104.80 L117.18,104.86 L117.95,104.92 L118.73,104.96 L119.50,105.00 L120.28,105.03 L121.05,105.06 L121.83,105.08 L122.60,105.09" fill="none" stroke="#151515" stroke-width="1.25" stroke-linejoin="round"/>
<path d="M38.20,117.43 L38.20,116.86 L38.97,116.64 L39.75,116.33 L40.52,115.98 L41.30,115.60 L42.07,115.20 L42.85,114.77 L43.62,114.32 L44.39,113.86 L45.17,113.40 L45.94,112.97 L46.72,112.58 L47.49,112.22 L48.27,111.89 L49.04,111.59 L49.81,111.31 L50.59,111.06 L51.36,110.86 L52.14,110.69 L52.91,110.55 L53.69,110.43 L54.46,110.33 L55.23,110.25 L56.01,110.19 L56.78,110.15 L57.56,110.16 L58.33,110.23 L59.11,110.35 L59.88,110.53 L60.66,110.74 L61.43,110.96 L62.20,111.18 L62.98,111.39 L63.75,111.59 L64.53,111.79 L65.30,112.00 L66.08,112.20 L66.85,112.40 L67.62,112.59 L68.40,112.78 L69.17,112.95 L69.95,113.11 L70.72,113.25 L71.50,113.39 L72.27,113.52 L73.04,113.64 L73.82,113.76 L74.59,113.88 L75.37,114.00 L76.14,114.11 L76.92,114.23 L77.69,114.35 L78.46,114.47 L79.24,114.59 L80.01,114.72 L80.79,114.84 L81.56,114.97 L82.34,115.10 L83.11,115.22 L83.88,115.35 L84.66,115.47 L85.43,115.59 L86.21,115.71 L86.98,115.83 L87.76,115.96 L88.53,116.09 L89.30,116.22 L90.08,116.35 L90.85,116.49 L91.63,116.61 L92.40,116.73 L93.18,116.83 L93.95,116.91 L94.72,116.97 L95.50,117.02 L96.27,117.05 L97.05,117.07 L97.82,117.09 L98.60,117.11 L99.37,117.13 L100.14,117.14 L100.92,117.16 L101.69,117.18 L102.47,117.19 L103.24,117.21 L104.02,117.22 L104.79,117.23 L105.57,117.25 L106.34,117.26 L107.11,117.27 L107.89,117.28 L108.66,117.29 L109.44,117.30 L110.21,117.31 L110.99,117.32 L111.76,117.33 L112.53,117.33 L113.31,117.34 L114.08,117.35 L114.86,117.35 L115.63,117.36 L116.41,117.36 L117.18,117.37 L117.95,117.37 L118.73,117.37 L119.50,117.37 L120.28,117.38 L121.05,117.38 L121.83,117.38 L122.60,117.38 L122.60,117.43 Z" fill="#d5d6da" stroke="none"/>
<path d="M58.37,116.03v3M60.96,116.03v3M66.15,116.03v3M74.81,116.03v3M86.92,116.03v3" stroke="#2a2a2a" stroke-width="1.05" stroke-opacity="0.68" fill="none"/>
<path d="M47.98,116.03v3" stroke="#2a2a2a" stroke-width="1.05" stroke-opacity="0.95" fill="none"/>
<path d="M38.20,116.86 L38.97,116.64 L39.75,116.33 L40.52,115.98 L41.30,115.60 L42.07,115.20 L42.85,114.77 L43.62,114.32 L44.39,113.86 L45.17,113.40 L45.94,112.97 L46.72,112.58 L47.49,112.22 L48.27,111.89 L49.04,111.59 L49.81,111.31 L50.59,111.06 L51.36,110.86 L52.14,110.69 L52.91,110.55 L53.69,110.43 L54.46,110.33 L55.23,110.25 L56.01,110.19 L56.78,110.15 L57.56,110.16 L58.33,110.23 L59.11,110.35 L59.88,110.53 L60.66,110.74 L61.43,110.96 L62.20,111.18 L62.98,111.39 L63.75,111.59 L64.53,111.79 L65.30,112.00 L66.08,112.20 L66.85,112.40 L67.62,112.59 L68.40,112.78 L69.17,112.95 L69.95,113.11 L70.72,113.25 L71.50,113.39 L72.27,113.52 L73.04,113.64 L73.82,113.76 L74.59,113.88 L75.37,114.00 L76.14,114.11 L76.92,114.23 L77.69,114.35 L78.46,114.47 L79.24,114.59 L80.01,114.72 L80.79,114.84 L81.56,114.97 L82.34,115.10 L83.11,115.22 L83.88,115.35 L84.66,115.47 L85.43,115.59 L86.21,115.71 L86.98,115.83 L87.76,115.96 L88.53,116.09 L89.30,116.22 L90.08,116.35 L90.85,116.49 L91.63,116.61 L92.40,116.73 L93.18,116.83 L93.95,116.91 L94.72,116.97 L95.50,117.02 L96.27,117.05 L97.05,117.07 L97.82,117.09 L98.60,117.11 L99.37,117.13 L100.14,117.14 L100.92,117.16 L101.69,117.18 L102.47,117.19 L103.24,117.21 L104.02,117.22 L104.79,117.23 L105.57,117.25 L106.34,117.26 L107.11,117.27 L107.89,117.28 L108.66,117.29 L109.44,117.30 L110.21,117.31 L110.99,117.32 L111.76,117.33 L112.53,117.33 L113.31,117.34 L114.08,117.35 L114.86,117.35 L115.63,117.36 L116.41,117.36 L117.18,117.37 L117.95,117.37 L118.73,117.37 L119.50,117.37 L120.28,117.38 L121.05,117.38 L121.83,117.38 L122.60,117.38" fill="none" stroke="#151515" stroke-width="1.25" stroke-linejoin="round"/>
<path d="M38.20,129.72 L38.20,128.81 L38.97,128.77 L39.75,128.71 L40.52,128.65 L41.30,128.58 L42.07,128.50 L42.85,128.42 L43.62,128.34 L44.39,128.26 L45.17,128.17 L45.94,128.07 L46.72,127.98 L47.49,127.87 L48.27,127.77 L49.04,127.65 L49.81,127.53 L50.59,127.41 L51.36,127.27 L52.14,127.13 L52.91,126.98 L53.69,126.82 L54.46,126.65 L55.23,126.47 L56.01,126.28 L56.78,126.08 L57.56,125.86 L58.33,125.64 L59.11,125.40 L59.88,125.14 L60.66,124.86 L61.43,124.56 L62.20,124.24 L62.98,123.91 L63.75,123.58 L64.53,123.24 L65.30,122.89 L66.08,122.53 L66.85,122.17 L67.62,121.82 L68.40,121.50 L69.17,121.22 L69.95,120.97 L70.72,120.76 L71.50,120.56 L72.27,120.41 L73.04,120.31 L73.82,120.29 L74.59,120.39 L75.37,120.61 L76.14,120.94 L76.92,121.33 L77.69,121.76 L78.46,122.23 L79.24,122.75 L80.01,123.29 L80.79,123.84 L81.56,124.38 L82.34,124.91 L83.11,125.44 L83.88,125.95 L84.66,126.44 L85.43,126.89 L86.21,127.28 L86.98,127.60 L87.76,127.88 L88.53,128.13 L89.30,128.36 L90.08,128.56 L90.85,128.74 L91.63,128.90 L92.40,129.02 L93.18,129.11 L93.95,129.17 L94.72,129.21 L95.50,129.25 L96.27,129.28 L97.05,129.30 L97.82,129.33 L98.60,129.35 L99.37,129.38 L100.14,129.40 L100.92,129.42 L101.69,129.45 L102.47,129.47 L103.24,129.49 L104.02,129.50 L104.79,129.52 L105.57,129.54 L106.34,129.55 L107.11,129.57 L107.89,129.58 L108.66,129.60 L109.44,129.61 L110.21,129.62 L110.99,129.63 L111.76,129.64 L112.53,129.65 L113.31,129.66 L114.08,129.66 L114.86,129.67 L115.63,129.68 L116.41,129.68 L117.18,129.69 L117.95,129.69 L118.73,129.69 L119.50,129.70 L120.28,129.70 L121.05,129.70 L121.83,129.70 L122.60,129.70 L122.60,129.72 Z" fill="#d5d6da" stroke="none"/>
<path d="M47.98,128.32v3" stroke="#2a2a2a" stroke-width="1.05" stroke-opacity="0.42" fill="none"/>
<path d="M57.50,128.32v3M62.17,128.32v3M64.42,128.32v3" stroke="#2a2a2a" stroke-width="1.05" stroke-opacity="0.68" fill="none"/>
<path d="M71.69,128.32v3M72.56,128.32v3M73.60,128.32v3M74.46,128.32v3" stroke="#2a2a2a" stroke-width="1.05" stroke-opacity="0.95" fill="none"/>
<path d="M38.20,128.81 L38.97,128.77 L39.75,128.71 L40.52,128.65 L41.30,128.58 L42.07,128.50 L42.85,128.42 L43.62,128.34 L44.39,128.26 L45.17,128.17 L45.94,128.07 L46.72,127.98 L47.49,127.87 L48.27,127.77 L49.04,127.65 L49.81,127.53 L50.59,127.41 L51.36,127.27 L52.14,127.13 L52.91,126.98 L53.69,126.82 L54.46,126.65 L55.23,126.47 L56.01,126.28 L56.78,126.08 L57.56,125.86 L58.33,125.64 L59.11,125.40 L59.88,125.14 L60.66,124.86 L61.43,124.56 L62.20,124.24 L62.98,123.91 L63.75,123.58 L64.53,123.24 L65.30,122.89 L66.08,122.53 L66.85,122.17 L67.62,121.82 L68.40,121.50 L69.17,121.22 L69.95,120.97 L70.72,120.76 L71.50,120.56 L72.27,120.41 L73.04,120.31 L73.82,120.29 L74.59,120.39 L75.37,120.61 L76.14,120.94 L76.92,121.33 L77.69,121.76 L78.46,122.23 L79.24,122.75 L80.01,123.29 L80.79,123.84 L81.56,124.38 L82.34,124.91 L83.11,125.44 L83.88,125.95 L84.66,126.44 L85.43,126.89 L86.21,127.28 L86.98,127.60 L87.76,127.88 L88.53,128.13 L89.30,128.36 L90.08,128.56 L90.85,128.74 L91.63,128.90 L92.40,129.02 L93.18,129.11 L93.95,129.17 L94.72,129.21 L95.50,129.25 L96.27,129.28 L97.05,129.30 L97.82,129.33 L98.60,129.35 L99.37,129.38 L100.14,129.40 L100.92,129.42 L101.69,129.45 L102.47,129.47 L103.24,129.49 L104.02,129.50 L104.79,129.52 L105.57,129.54 L106.34,129.55 L107.11,129.57 L107.89,129.58 L108.66,129.60 L109.44,129.61 L110.21,129.62 L110.99,129.63 L111.76,129.64 L112.53,129.65 L113.31,129.66 L114.08,129.66 L114.86,129.67 L115.63,129.68 L116.41,129.68 L117.18,129.69 L117.95,129.69 L118.73,129.69 L119.50,129.70 L120.28,129.70 L121.05,129.70 L121.83,129.70 L122.60,129.70" fill="none" stroke="#151515" stroke-width="1.25" stroke-linejoin="round"/>
<path d="M38.20,142.01 L38.20,140.53 L38.97,140.43 L39.75,140.30 L40.52,140.16 L41.30,140.01 L42.07,139.86 L42.85,139.72 L43.62,139.58 L44.39,139.45 L45.17,139.32 L45.94,139.19 L46.72,139.07 L47.49,138.94 L48.27,138.81 L49.04,138.67 L49.81,138.51 L50.59,138.33 L51.36,138.13 L52.14,137.90 L52.91,137.65 L53.69,137.39 L54.46,137.11 L55.23,136.82 L56.01,136.52 L56.78,136.21 L57.56,135.88 L58.33,135.55 L59.11,135.23 L59.88,134.93 L60.66,134.67 L61.43,134.43 L62.20,134.22 L62.98,134.02 L63.75,133.84 L64.53,133.70 L65.30,133.60 L66.08,133.56 L66.85,133.55 L67.62,133.59 L68.40,133.65 L69.17,133.73 L69.95,133.83 L70.72,133.95 L71.50,134.08 L72.27,134.25 L73.04,134.46 L73.82,134.70 L74.59,134.98 L75.37,135.29 L76.14,135.62 L76.92,135.99 L77.69,136.40 L78.46,136.87 L79.24,137.36 L80.01,137.85 L80.79,138.32 L81.56,138.76 L82.34,139.16 L83.11,139.53 L83.88,139.88 L84.66,140.21 L85.43,140.50 L86.21,140.74 L86.98,140.94 L87.76,141.10 L88.53,141.24 L89.30,141.37 L90.08,141.49 L90.85,141.59 L91.63,141.67 L92.40,141.74 L93.18,141.78 L93.95,141.81 L94.72,141.83 L95.50,141.84 L96.27,141.85 L97.05,141.86 L97.82,141.87 L98.60,141.88 L99.37,141.89 L100.14,141.89 L100.92,141.90 L101.69,141.91 L102.47,141.92 L103.24,141.92 L104.02,141.93 L104.79,141.93 L105.57,141.94 L106.34,141.95 L107.11,141.95 L107.89,141.95 L108.66,141.96 L109.44,141.96 L110.21,141.97 L110.99,141.97 L111.76,141.97 L112.53,141.98 L113.31,141.98 L114.08,141.98 L114.86,141.98 L115.63,141.98 L116.41,141.99 L117.18,141.99 L117.95,141.99 L118.73,141.99 L119.50,141.99 L120.28,141.99 L121.05,141.99 L121.83,141.99 L122.60,141.99 L122.60,142.01 Z" fill="#d5d6da" stroke="none"/>
<path d="M52.31,140.61v3M55.77,140.61v3M63.90,140.61v3M77.06,140.61v3M79.48,140.61v3" stroke="#2a2a2a" stroke-width="1.05" stroke-opacity="0.42" fill="none"/>
<path d="M47.98,140.61v3M54.04,140.61v3M58.02,140.61v3M60.44,140.61v3M62.17,140.61v3M69.10,140.61v3" stroke="#2a2a2a" stroke-width="1.05" stroke-opacity="0.68" fill="none"/>
<path d="M40.19,140.61v3M66.15,140.61v3M67.37,140.61v3M72.56,140.61v3M73.60,140.61v3M74.81,140.61v3" stroke="#2a2a2a" stroke-width="1.05" stroke-opacity="0.95" fill="none"/>
<path d="M38.20,140.53 L38.97,140.43 L39.75,140.30 L40.52,140.16 L41.30,140.01 L42.07,139.86 L42.85,139.72 L43.62,139.58 L44.39,139.45 L45.17,139.32 L45.94,139.19 L46.72,139.07 L47.49,138.94 L48.27,138.81 L49.04,138.67 L49.81,138.51 L50.59,138.33 L51.36,138.13 L52.14,137.90 L52.91,137.65 L53.69,137.39 L54.46,137.11 L55.23,136.82 L56.01,136.52 L56.78,136.21 L57.56,135.88 L58.33,135.55 L59.11,135.23 L59.88,134.93 L60.66,134.67 L61.43,134.43 L62.20,134.22 L62.98,134.02 L63.75,133.84 L64.53,133.70 L65.30,133.60 L66.08,133.56 L66.85,133.55 L67.62,133.59 L68.40,133.65 L69.17,133.73 L69.95,133.83 L70.72,133.95 L71.50,134.08 L72.27,134.25 L73.04,134.46 L73.82,134.70 L74.59,134.98 L75.37,135.29 L76.14,135.62 L76.92,135.99 L77.69,136.40 L78.46,136.87 L79.24,137.36 L80.01,137.85 L80.79,138.32 L81.56,138.76 L82.34,139.16 L83.11,139.53 L83.88,139.88 L84.66,140.21 L85.43,140.50 L86.21,140.74 L86.98,140.94 L87.76,141.10 L88.53,141.24 L89.30,141.37 L90.08,141.49 L90.85,141.59 L91.63,141.67 L92.40,141.74 L93.18,141.78 L93.95,141.81 L94.72,141.83 L95.50,141.84 L96.27,141.85 L97.05,141.86 L97.82,141.87 L98.60,141.88 L99.37,141.89 L100.14,141.89 L100.92,141.90 L101.69,141.91 L102.47,141.92 L103.24,141.92 L104.02,141.93 L104.79,141.93 L105.57,141.94 L106.34,141.95 L107.11,141.95 L107.89,141.95 L108.66,141.96 L109.44,141.96 L110.21,141.97 L110.99,141.97 L111.76,141.97 L112.53,141.98 L113.31,141.98 L114.08,141.98 L114.86,141.98 L115.63,141.98 L116.41,141.99 L117.18,141.99 L117.95,141.99 L118.73,141.99 L119.50,141.99 L120.28,141.99 L121.05,141.99 L121.83,141.99 L122.60,141.99" fill="none" stroke="#151515" stroke-width="1.25" stroke-linejoin="round"/>
<path d="M38.20,154.30 L38.20,151.48 L38.97,151.25 L39.75,150.95 L40.52,150.64 L41.30,150.34 L42.07,150.08 L42.85,149.83 L43.62,149.59 L44.39,149.37 L45.17,149.19 L45.94,149.05 L46.72,148.97 L47.49,148.94 L48.27,148.96 L49.04,149.02 L49.81,149.09 L50.59,149.19 L51.36,149.29 L52.14,149.41 L52.91,149.55 L53.69,149.71 L54.46,149.90 L55.23,150.09 L56.01,150.29 L56.78,150.47 L57.56,150.63 L58.33,150.78 L59.11,150.91 L59.88,151.04 L60.66,151.15 L61.43,151.23 L62.20,151.27 L62.98,151.25 L63.75,151.17 L64.53,151.01 L65.30,150.80 L66.08,150.56 L66.85,150.29 L67.62,150.02 L68.40,149.73 L69.17,149.41 L69.95,149.08 L70.72,148.74 L71.50,148.42 L72.27,148.14 L73.04,147.91 L73.82,147.72 L74.59,147.58 L75.37,147.47 L76.14,147.43 L76.92,147.48 L77.69,147.64 L78.46,147.90 L79.24,148.22 L80.01,148.58 L80.79,148.97 L81.56,149.40 L82.34,149.86 L83.11,150.33 L83.88,150.78 L84.66,151.20 L85.43,151.59 L86.21,151.96 L86.98,152.31 L87.76,152.66 L88.53,152.98 L89.30,153.28 L90.08,153.52 L90.85,153.71 L91.63,153.83 L92.40,153.90 L93.18,153.94 L93.95,153.97 L94.72,153.99 L95.50,154.00 L96.27,154.02 L97.05,154.04 L97.82,154.05 L98.60,154.07 L99.37,154.08 L100.14,154.10 L100.92,154.11 L101.69,154.12 L102.47,154.13 L103.24,154.15 L104.02,154.16 L104.79,154.17 L105.57,154.18 L106.34,154.19 L107.11,154.19 L107.89,154.20 L108.66,154.21 L109.44,154.22 L110.21,154.22 L110.99,154.23 L111.76,154.23 L112.53,154.24 L113.31,154.24 L114.08,154.25 L114.86,154.25 L115.63,154.25 L116.41,154.26 L117.18,154.26 L117.95,154.26 L118.73,154.26 L119.50,154.26 L120.28,154.26 L121.05,154.26 L121.83,154.27 L122.60,154.27 L122.60,154.30 Z" fill="#d5d6da" stroke="none"/>
<path d="M55.25,152.90v3M65.63,152.90v3M82.25,152.90v3" stroke="#2a2a2a" stroke-width="1.05" stroke-opacity="0.42" fill="none"/>
<path d="M44.17,152.90v3M45.21,152.90v3M74.29,152.90v3M77.06,152.90v3" stroke="#2a2a2a" stroke-width="1.05" stroke-opacity="0.68" fill="none"/>
<path d="M38.20,151.48 L38.97,151.25 L39.75,150.95 L40.52,150.64 L41.30,150.34 L42.07,150.08 L42.85,149.83 L43.62,149.59 L44.39,149.37 L45.17,149.19 L45.94,149.05 L46.72,148.97 L47.49,148.94 L48.27,148.96 L49.04,149.02 L49.81,149.09 L50.59,149.19 L51.36,149.29 L52.14,149.41 L52.91,149.55 L53.69,149.71 L54.46,149.90 L55.23,150.09 L56.01,150.29 L56.78,150.47 L57.56,150.63 L58.33,150.78 L59.11,150.91 L59.88,151.04 L60.66,151.15 L61.43,151.23 L62.20,151.27 L62.98,151.25 L63.75,151.17 L64.53,151.01 L65.30,150.80 L66.08,150.56 L66.85,150.29 L67.62,150.02 L68.40,149.73 L69.17,149.41 L69.95,149.08 L70.72,148.74 L71.50,148.42 L72.27,148.14 L73.04,147.91 L73.82,147.72 L74.59,147.58 L75.37,147.47 L76.14,147.43 L76.92,147.48 L77.69,147.64 L78.46,147.90 L79.24,148.22 L80.01,148.58 L80.79,148.97 L81.56,149.40 L82.34,149.86 L83.11,150.33 L83.88,150.78 L84.66,151.20 L85.43,151.59 L86.21,151.96 L86.98,152.31 L87.76,152.66 L88.53,152.98 L89.30,153.28 L90.08,153.52 L90.85,153.71 L91.63,153.83 L92.40,153.90 L93.18,153.94 L93.95,153.97 L94.72,153.99 L95.50,154.00 L96.27,154.02 L97.05,154.04 L97.82,154.05 L98.60,154.07 L99.37,154.08 L100.14,154.10 L100.92,154.11 L101.69,154.12 L102.47,154.13 L103.24,154.15 L104.02,154.16 L104.79,154.17 L105.57,154.18 L106.34,154.19 L107.11,154.19 L107.89,154.20 L108.66,154.21 L109.44,154.22 L110.21,154.22 L110.99,154.23 L111.76,154.23 L112.53,154.24 L113.31,154.24 L114.08,154.25 L114.86,154.25 L115.63,154.25 L116.41,154.26 L117.18,154.26 L117.95,154.26 L118.73,154.26 L119.50,154.26 L120.28,154.26 L121.05,154.26 L121.83,154.27 L122.60,154.27" fill="none" stroke="#151515" stroke-width="1.25" stroke-linejoin="round"/>
<path d="M38.20,166.59 L38.20,163.33 L38.97,163.19 L39.75,163.00 L40.52,162.80 L41.30,162.61 L42.07,162.42 L42.85,162.24 L43.62,162.07 L44.39,161.90 L45.17,161.74 L45.94,161.58 L46.72,161.42 L47.49,161.28 L48.27,161.15 L49.04,161.03 L49.81,160.93 L50.59,160.85 L51.36,160.79 L52.14,160.73 L52.91,160.68 L53.69,160.63 L54.46,160.59 L55.23,160.55 L56.01,160.53 L56.78,160.51 L57.56,160.51 L58.33,160.51 L59.11,160.53 L59.88,160.56 L60.66,160.59 L61.43,160.64 L62.20,160.68 L62.98,160.74 L63.75,160.80 L64.53,160.87 L65.30,160.95 L66.08,161.05 L66.85,161.17 L67.62,161.30 L68.40,161.45 L69.17,161.60 L69.95,161.76 L70.72,161.93 L71.50,162.09 L72.27,162.26 L73.04,162.44 L73.82,162.63 L74.59,162.82 L75.37,163.02 L76.14,163.22 L76.92,163.43 L77.69,163.64 L78.46,163.85 L79.24,164.07 L80.01,164.30 L80.79,164.54 L81.56,164.78 L82.34,165.01 L83.11,165.22 L83.88,165.41 L84.66,165.57 L85.43,165.71 L86.21,165.83 L86.98,165.94 L87.76,166.04 L88.53,166.13 L89.30,166.21 L90.08,166.27 L90.85,166.32 L91.63,166.36 L92.40,166.38 L93.18,166.39 L93.95,166.41 L94.72,166.41 L95.50,166.42 L96.27,166.43 L97.05,166.44 L97.82,166.45 L98.60,166.46 L99.37,166.46 L100.14,166.47 L100.92,166.48 L101.69,166.48 L102.47,166.49 L103.24,166.49 L104.02,166.50 L104.79,166.50 L105.57,166.51 L106.34,166.51 L107.11,166.52 L107.89,166.52 L108.66,166.53 L109.44,166.53 L110.21,166.53 L110.99,166.54 L111.76,166.54 L112.53,166.54 L113.31,166.54 L114.08,166.54 L114.86,166.55 L115.63,166.55 L116.41,166.55 L117.18,166.55 L117.95,166.55 L118.73,166.55 L119.50,166.55 L120.28,166.55 L121.05,166.55 L121.83,166.56 L122.60,166.56 L122.60,166.59 Z" fill="#d5d6da" stroke="none"/>
<path d="M40.19,165.19v3M62.69,165.19v3M69.62,165.19v3M71.87,165.19v3" stroke="#2a2a2a" stroke-width="1.05" stroke-opacity="0.42" fill="none"/>
<path d="M38.46,165.19v3M41.92,165.19v3M42.79,165.19v3M49.37,165.19v3M50.23,165.19v3M52.31,165.19v3M56.29,165.19v3M61.48,165.19v3M64.94,165.19v3M66.67,165.19v3M67.88,165.19v3M80.52,165.19v3" stroke="#2a2a2a" stroke-width="1.05" stroke-opacity="0.68" fill="none"/>
<path d="M38.20,163.33 L38.97,163.19 L39.75,163.00 L40.52,162.80 L41.30,162.61 L42.07,162.42 L42.85,162.24 L43.62,162.07 L44.39,161.90 L45.17,161.74 L45.94,161.58 L46.72,161.42 L47.49,161.28 L48.27,161.15 L49.04,161.03 L49.81,160.93 L50.59,160.85 L51.36,160.79 L52.14,160.73 L52.91,160.68 L53.69,160.63 L54.46,160.59 L55.23,160.55 L56.01,160.53 L56.78,160.51 L57.56,160.51 L58.33,160.51 L59.11,160.53 L59.88,160.56 L60.66,160.59 L61.43,160.64 L62.20,160.68 L62.98,160.74 L63.75,160.80 L64.53,160.87 L65.30,160.95 L66.08,161.05 L66.85,161.17 L67.62,161.30 L68.40,161.45 L69.17,161.60 L69.95,161.76 L70.72,161.93 L71.50,162.09 L72.27,162.26 L73.04,162.44 L73.82,162.63 L74.59,162.82 L75.37,163.02 L76.14,163.22 L76.92,163.43 L77.69,163.64 L78.46,163.85 L79.24,164.07 L80.01,164.30 L80.79,164.54 L81.56,164.78 L82.34,165.01 L83.11,165.22 L83.88,165.41 L84.66,165.57 L85.43,165.71 L86.21,165.83 L86.98,165.94 L87.76,166.04 L88.53,166.13 L89.30,166.21 L90.08,166.27 L90.85,166.32 L91.63,166.36 L92.40,166.38 L93.18,166.39 L93.95,166.41 L94.72,166.41 L95.50,166.42 L96.27,166.43 L97.05,166.44 L97.82,166.45 L98.60,166.46 L99.37,166.46 L100.14,166.47 L100.92,166.48 L101.69,166.48 L102.47,166.49 L103.24,166.49 L104.02,166.50 L104.79,166.50 L105.57,166.51 L106.34,166.51 L107.11,166.52 L107.89,166.52 L108.66,166.53 L109.44,166.53 L110.21,166.53 L110.99,166.54 L111.76,166.54 L112.53,166.54 L113.31,166.54 L114.08,166.54 L114.86,166.55 L115.63,166.55 L116.41,166.55 L117.18,166.55 L117.95,166.55 L118.73,166.55 L119.50,166.55 L120.28,166.55 L121.05,166.55 L121.83,166.56 L122.60,166.56" fill="none" stroke="#151515" stroke-width="1.25" stroke-linejoin="round"/>
<path d="M38.20,178.88 L38.20,175.96 L38.97,175.76 L39.75,175.51 L40.52,175.25 L41.30,175.00 L42.07,174.77 L42.85,174.57 L43.62,174.40 L44.39,174.25 L45.17,174.11 L45.94,173.98 L46.72,173.86 L47.49,173.75 L48.27,173.66 L49.04,173.60 L49.81,173.56 L50.59,173.54 L51.36,173.56 L52.14,173.62 L52.91,173.70 L53.69,173.80 L54.46,173.91 L55.23,174.03 L56.01,174.16 L56.78,174.27 L57.56,174.39 L58.33,174.50 L59.11,174.62 L59.88,174.74 L60.66,174.87 L61.43,174.98 L62.20,175.08 L62.98,175.15 L63.75,175.20 L64.53,175.22 L65.30,175.20 L66.08,175.15 L66.85,175.09 L67.62,175.01 L68.40,174.93 L69.17,174.86 L69.95,174.80 L70.72,174.76 L71.50,174.74 L72.27,174.73 L73.04,174.73 L73.82,174.73 L74.59,174.73 L75.37,174.73 L76.14,174.73 L76.92,174.73 L77.69,174.74 L78.46,174.78 L79.24,174.87 L80.01,175.02 L80.79,175.22 L81.56,175.46 L82.34,175.72 L83.11,176.00 L83.88,176.29 L84.66,176.61 L85.43,176.95 L86.21,177.30 L86.98,177.62 L87.76,177.90 L88.53,178.11 L89.30,178.27 L90.08,178.40 L90.85,178.51 L91.63,178.61 L92.40,178.69 L93.18,178.76 L93.95,178.82 L94.72,178.85 L95.50,178.87 L96.27,178.88 L97.05,178.88 L97.82,178.88 L98.60,178.88 L99.37,178.88 L100.14,178.88 L100.92,178.88 L101.69,178.88 L102.47,178.88 L103.24,178.88 L104.02,178.88 L104.79,178.88 L105.57,178.88 L106.34,178.88 L107.11,178.88 L107.89,178.88 L108.66,178.88 L109.44,178.88 L110.21,178.88 L110.99,178.88 L111.76,178.88 L112.53,178.88 L113.31,178.88 L114.08,178.88 L114.86,178.88 L115.63,178.88 L116.41,178.88 L117.18,178.88 L117.95,178.88 L118.73,178.88 L119.50,178.88 L120.28,178.88 L121.05,178.88 L121.83,178.88 L122.60,178.88 L122.60,178.88 Z" fill="#d5d6da" stroke="none"/>
<path d="M40.71,177.48v3M41.92,177.48v3M42.44,177.48v3M43.65,177.48v3M49.37,177.48v3M50.58,177.48v3M52.31,177.48v3M56.29,177.48v3M56.98,177.48v3M62.69,177.48v3M65.63,177.48v3M69.62,177.48v3M70.83,177.48v3M74.81,177.48v3M76.02,177.48v3M77.06,177.48v3" stroke="#2a2a2a" stroke-width="1.05" stroke-opacity="0.68" fill="none"/>
<path d="M38.20,175.96 L38.97,175.76 L39.75,175.51 L40.52,175.25 L41.30,175.00 L42.07,174.77 L42.85,174.57 L43.62,174.40 L44.39,174.25 L45.17,174.11 L45.94,173.98 L46.72,173.86 L47.49,173.75 L48.27,173.66 L49.04,173.60 L49.81,173.56 L50.59,173.54 L51.36,173.56 L52.14,173.62 L52.91,173.70 L53.69,173.80 L54.46,173.91 L55.23,174.03 L56.01,174.16 L56.78,174.27 L57.56,174.39 L58.33,174.50 L59.11,174.62 L59.88,174.74 L60.66,174.87 L61.43,174.98 L62.20,175.08 L62.98,175.15 L63.75,175.20 L64.53,175.22 L65.30,175.20 L66.08,175.15 L66.85,175.09 L67.62,175.01 L68.40,174.93 L69.17,174.86 L69.95,174.80 L70.72,174.76 L71.50,174.74 L72.27,174.73 L73.04,174.73 L73.82,174.73 L74.59,174.73 L75.37,174.73 L76.14,174.73 L76.92,174.73 L77.69,174.74 L78.46,174.78 L79.24,174.87 L80.01,175.02 L80.79,175.22 L81.56,175.46 L82.34,175.72 L83.11,176.00 L83.88,176.29 L84.66,176.61 L85.43,176.95 L86.21,177.30 L86.98,177.62 L87.76,177.90 L88.53,178.11 L89.30,178.27 L90.08,178.40 L90.85,178.51 L91.63,178.61 L92.40,178.69 L93.18,178.76 L93.95,178.82 L94.72,178.85 L95.50,178.87 L96.27,178.88 L97.05,178.88 L97.82,178.88 L98.60,178.88 L99.37,178.88 L100.14,178.88 L100.92,178.88 L101.69,178.88 L102.47,178.88 L103.24,178.88 L104.02,178.88 L104.79,178.88 L105.57,178.88 L106.34,178.88 L107.11,178.88 L107.89,178.88 L108.66,178.88 L109.44,178.88 L110.21,178.88 L110.99,178.88 L111.76,178.88 L112.53,178.88 L113.31,178.88 L114.08,178.88 L114.86,178.88 L115.63,178.88 L116.41,178.88 L117.18,178.88 L117.95,178.88 L118.73,178.88 L119.50,178.88 L120.28,178.88 L121.05,178.88 L121.83,178.88 L122.60,178.88" fill="none" stroke="#151515" stroke-width="1.25" stroke-linejoin="round"/>
<path d="M38.20,191.17 L38.20,188.42 L38.97,188.23 L39.75,187.98 L40.52,187.71 L41.30,187.46 L42.07,187.24 L42.85,187.04 L43.62,186.87 L44.39,186.71 L45.17,186.57 L45.94,186.44 L46.72,186.32 L47.49,186.22 L48.27,186.13 L49.04,186.06 L49.81,186.02 L50.59,186.01 L51.36,186.03 L52.14,186.09 L52.91,186.18 L53.69,186.28 L54.46,186.40 L55.23,186.52 L56.01,186.64 L56.78,186.75 L57.56,186.84 L58.33,186.92 L59.11,187.00 L59.88,187.08 L60.66,187.15 L61.43,187.22 L62.20,187.27 L62.98,187.31 L63.75,187.33 L64.53,187.33 L65.30,187.30 L66.08,187.24 L66.85,187.15 L67.62,187.04 L68.40,186.92 L69.17,186.79 L69.95,186.68 L70.72,186.58 L71.50,186.49 L72.27,186.42 L73.04,186.35 L73.82,186.29 L74.59,186.23 L75.37,186.20 L76.14,186.19 L76.92,186.21 L77.69,186.29 L78.46,186.43 L79.24,186.61 L80.01,186.83 L80.79,187.07 L81.56,187.34 L82.34,187.66 L83.11,188.03 L83.88,188.44 L84.66,188.87 L85.43,189.28 L86.21,189.64 L86.98,189.93 L87.76,190.16 L88.53,190.36 L89.30,190.55 L90.08,190.71 L90.85,190.86 L91.63,190.98 L92.40,191.07 L93.18,191.13 L93.95,191.16 L94.72,191.17 L95.50,191.17 L96.27,191.17 L97.05,191.17 L97.82,191.17 L98.60,191.17 L99.37,191.17 L100.14,191.17 L100.92,191.17 L101.69,191.17 L102.47,191.17 L103.24,191.17 L104.02,191.17 L104.79,191.17 L105.57,191.17 L106.34,191.17 L107.11,191.17 L107.89,191.17 L108.66,191.17 L109.44,191.17 L110.21,191.17 L110.99,191.17 L111.76,191.17 L112.53,191.17 L113.31,191.17 L114.08,191.17 L114.86,191.17 L115.63,191.17 L116.41,191.17 L117.18,191.17 L117.95,191.17 L118.73,191.17 L119.50,191.17 L120.28,191.17 L121.05,191.17 L121.83,191.17 L122.60,191.17 L122.60,191.17 Z" fill="#d5d6da" stroke="none"/>
<path d="M56.98,189.77v3" stroke="#2a2a2a" stroke-width="1.05" stroke-opacity="0.42" fill="none"/>
<path d="M41.92,189.77v3M43.13,189.77v3M44.87,189.77v3M45.90,189.77v3M47.63,189.77v3M55.77,189.77v3M63.90,189.77v3M64.94,189.77v3M67.88,189.77v3M69.10,189.77v3M71.87,189.77v3M73.60,189.77v3M77.75,189.77v3M78.79,189.77v3" stroke="#2a2a2a" stroke-width="1.05" stroke-opacity="0.68" fill="none"/>
<path d="M50.58,189.77v3M51.79,189.77v3" stroke="#2a2a2a" stroke-width="1.05" stroke-opacity="0.95" fill="none"/>
<path d="M38.20,188.42 L38.97,188.23 L39.75,187.98 L40.52,187.71 L41.30,187.46 L42.07,187.24 L42.85,187.04 L43.62,186.87 L44.39,186.71 L45.17,186.57 L45.94,186.44 L46.72,186.32 L47.49,186.22 L48.27,186.13 L49.04,186.06 L49.81,186.02 L50.59,186.01 L51.36,186.03 L52.14,186.09 L52.91,186.18 L53.69,186.28 L54.46,186.40 L55.23,186.52 L56.01,186.64 L56.78,186.75 L57.56,186.84 L58.33,186.92 L59.11,187.00 L59.88,187.08 L60.66,187.15 L61.43,187.22 L62.20,187.27 L62.98,187.31 L63.75,187.33 L64.53,187.33 L65.30,187.30 L66.08,187.24 L66.85,187.15 L67.62,187.04 L68.40,186.92 L69.17,186.79 L69.95,186.68 L70.72,186.58 L71.50,186.49 L72.27,186.42 L73.04,186.35 L73.82,186.29 L74.59,186.23 L75.37,186.20 L76.14,186.19 L76.92,186.21 L77.69,186.29 L78.46,186.43 L79.24,186.61 L80.01,186.83 L80.79,187.07 L81.56,187.34 L82.34,187.66 L83.11,188.03 L83.88,188.44 L84.66,188.87 L85.43,189.28 L86.21,189.64 L86.98,189.93 L87.76,190.16 L88.53,190.36 L89.30,190.55 L90.08,190.71 L90.85,190.86 L91.63,190.98 L92.40,191.07 L93.18,191.13 L93.95,191.16 L94.72,191.17 L95.50,191.17 L96.27,191.17 L97.05,191.17 L97.82,191.17 L98.60,191.17 L99.37,191.17 L100.14,191.17 L100.92,191.17 L101.69,191.17 L102.47,191.17 L103.24,191.17 L104.02,191.17 L104.79,191.17 L105.57,191.17 L106.34,191.17 L107.11,191.17 L107.89,191.17 L108.66,191.17 L109.44,191.17 L110.21,191.17 L110.99,191.17 L111.76,191.17 L112.53,191.17 L113.31,191.17 L114.08,191.17 L114.86,191.17 L115.63,191.17 L116.41,191.17 L117.18,191.17 L117.95,191.17 L118.73,191.17 L119.50,191.17 L120.28,191.17 L121.05,191.17 L121.83,191.17 L122.60,191.17" fill="none" stroke="#151515" stroke-width="1.25" stroke-linejoin="round"/>
<path d="M38.20,203.46 L38.20,201.12 L38.97,201.03 L39.75,200.92 L40.52,200.79 L41.30,200.65 L42.07,200.52 L42.85,200.39 L43.62,200.27 L44.39,200.14 L45.17,200.02 L45.94,199.90 L46.72,199.78 L47.49,199.66 L48.27,199.55 L49.04,199.44 L49.81,199.32 L50.59,199.21 L51.36,199.09 L52.14,198.97 L52.91,198.84 L53.69,198.72 L54.46,198.59 L55.23,198.46 L56.01,198.33 L56.78,198.19 L57.56,198.05 L58.33,197.90 L59.11,197.75 L59.88,197.58 L60.66,197.41 L61.43,197.23 L62.20,197.04 L62.98,196.86 L63.75,196.67 L64.53,196.49 L65.30,196.30 L66.08,196.13 L66.85,195.99 L67.62,195.91 L68.40,195.90 L69.17,195.95 L69.95,196.06 L70.72,196.20 L71.50,196.37 L72.27,196.57 L73.04,196.80 L73.82,197.08 L74.59,197.39 L75.37,197.73 L76.14,198.07 L76.92,198.43 L77.69,198.79 L78.46,199.16 L79.24,199.53 L80.01,199.90 L80.79,200.26 L81.56,200.59 L82.34,200.90 L83.11,201.21 L83.88,201.49 L84.66,201.76 L85.43,202.01 L86.21,202.22 L86.98,202.39 L87.76,202.55 L88.53,202.69 L89.30,202.81 L90.08,202.93 L90.85,203.03 L91.63,203.12 L92.40,203.19 L93.18,203.23 L93.95,203.26 L94.72,203.28 L95.50,203.29 L96.27,203.30 L97.05,203.31 L97.82,203.32 L98.60,203.33 L99.37,203.34 L100.14,203.34 L100.92,203.35 L101.69,203.36 L102.47,203.37 L103.24,203.37 L104.02,203.38 L104.79,203.38 L105.57,203.39 L106.34,203.40 L107.11,203.40 L107.89,203.40 L108.66,203.41 L109.44,203.41 L110.21,203.42 L110.99,203.42 L111.76,203.42 L112.53,203.43 L113.31,203.43 L114.08,203.43 L114.86,203.43 L115.63,203.43 L116.41,203.44 L117.18,203.44 L117.95,203.44 L118.73,203.44 L119.50,203.44 L120.28,203.44 L121.05,203.44 L121.83,203.44 L122.60,203.44 L122.60,203.46 Z" fill="#d5d6da" stroke="none"/>
<path d="M40.71,202.06v3M41.92,202.06v3" stroke="#2a2a2a" stroke-width="1.05" stroke-opacity="0.42" fill="none"/>
<path d="M46.60,202.06v3M47.63,202.06v3M58.02,202.06v3M59.75,202.06v3M62.17,202.06v3M63.21,202.06v3M64.42,202.06v3M65.63,202.06v3M66.67,202.06v3M70.83,202.06v3M71.87,202.06v3M74.29,202.06v3M81.21,202.06v3" stroke="#2a2a2a" stroke-width="1.05" stroke-opacity="0.68" fill="none"/>
<path d="M55.77,202.06v3M56.63,202.06v3M68.40,202.06v3" stroke="#2a2a2a" stroke-width="1.05" stroke-opacity="0.95" fill="none"/>
<path d="M38.20,201.12 L38.97,201.03 L39.75,200.92 L40.52,200.79 L41.30,200.65 L42.07,200.52 L42.85,200.39 L43.62,200.27 L44.39,200.14 L45.17,200.02 L45.94,199.90 L46.72,199.78 L47.49,199.66 L48.27,199.55 L49.04,199.44 L49.81,199.32 L50.59,199.21 L51.36,199.09 L52.14,198.97 L52.91,198.84 L53.69,198.72 L54.46,198.59 L55.23,198.46 L56.01,198.33 L56.78,198.19 L57.56,198.05 L58.33,197.90 L59.11,197.75 L59.88,197.58 L60.66,197.41 L61.43,197.23 L62.20,197.04 L62.98,196.86 L63.75,196.67 L64.53,196.49 L65.30,196.30 L66.08,196.13 L66.85,195.99 L67.62,195.91 L68.40,195.90 L69.17,195.95 L69.95,196.06 L70.72,196.20 L71.50,196.37 L72.27,196.57 L73.04,196.80 L73.82,197.08 L74.59,197.39 L75.37,197.73 L76.14,198.07 L76.92,198.43 L77.69,198.79 L78.46,199.16 L79.24,199.53 L80.01,199.90 L80.79,200.26 L81.56,200.59 L82.34,200.90 L83.11,201.21 L83.88,201.49 L84.66,201.76 L85.43,202.01 L86.21,202.22 L86.98,202.39 L87.76,202.55 L88.53,202.69 L89.30,202.81 L90.08,202.93 L90.85,203.03 L91.63,203.12 L92.40,203.19 L93.18,203.23 L93.95,203.26 L94.72,203.28 L95.50,203.29 L96.27,203.30 L97.05,203.31 L97.82,203.32 L98.60,203.33 L99.37,203.34 L100.14,203.34 L100.92,203.35 L101.69,203.36 L102.47,203.37 L103.24,203.37 L104.02,203.38 L104.79,203.38 L105.57,203.39 L106.34,203.40 L107.11,203.40 L107.89,203.40 L108.66,203.41 L109.44,203.41 L110.21,203.42 L110.99,203.42 L111.76,203.42 L112.53,203.43 L113.31,203.43 L114.08,203.43 L114.86,203.43 L115.63,203.43 L116.41,203.44 L117.18,203.44 L117.95,203.44 L118.73,203.44 L119.50,203.44 L120.28,203.44 L121.05,203.44 L121.83,203.44 L122.60,203.44" fill="none" stroke="#151515" stroke-width="1.25" stroke-linejoin="round"/>
<path d="M38.20,215.75 L38.20,214.94 L38.97,214.81 L39.75,214.64 L40.52,214.45 L41.30,214.26 L42.07,214.07 L42.85,213.89 L43.62,213.71 L44.39,213.53 L45.17,213.36 L45.94,213.19 L46.72,213.02 L47.49,212.85 L48.27,212.69 L49.04,212.53 L49.81,212.37 L50.59,212.23 L51.36,212.09 L52.14,211.96 L52.91,211.85 L53.69,211.74 L54.46,211.65 L55.23,211.56 L56.01,211.47 L56.78,211.39 L57.56,211.29 L58.33,211.18 L59.11,211.06 L59.88,210.93 L60.66,210.77 L61.43,210.60 L62.20,210.42 L62.98,210.22 L63.75,210.01 L64.53,209.79 L65.30,209.54 L66.08,209.26 L66.85,208.98 L67.62,208.73 L68.40,208.52 L69.17,208.40 L69.95,208.37 L70.72,208.42 L71.50,208.53 L72.27,208.69 L73.04,208.90 L73.82,209.17 L74.59,209.48 L75.37,209.82 L76.14,210.19 L76.92,210.59 L77.69,211.01 L78.46,211.46 L79.24,211.93 L80.01,212.38 L80.79,212.81 L81.56,213.20 L82.34,213.56 L83.11,213.90 L83.88,214.21 L84.66,214.50 L85.43,214.73 L86.21,214.90 L86.98,215.00 L87.76,215.07 L88.53,215.11 L89.30,215.15 L90.08,215.18 L90.85,215.21 L91.63,215.24 L92.40,215.27 L93.18,215.30 L93.95,215.32 L94.72,215.35 L95.50,215.37 L96.27,215.40 L97.05,215.42 L97.82,215.44 L98.60,215.46 L99.37,215.48 L100.14,215.50 L100.92,215.52 L101.69,215.54 L102.47,215.55 L103.24,215.57 L104.02,215.58 L104.79,215.60 L105.57,215.61 L106.34,215.62 L107.11,215.63 L107.89,215.64 L108.66,215.65 L109.44,215.66 L110.21,215.67 L110.99,215.68 L111.76,215.69 L112.53,215.69 L113.31,215.70 L114.08,215.71 L114.86,215.71 L115.63,215.71 L116.41,215.72 L117.18,215.72 L117.95,215.72 L118.73,215.73 L119.50,215.73 L120.28,215.73 L121.05,215.73 L121.83,215.73 L122.60,215.73 L122.60,215.75 Z" fill="#d5d6da" stroke="none"/>
<path d="M60.44,214.35v3" stroke="#2a2a2a" stroke-width="1.05" stroke-opacity="0.42" fill="none"/>
<path d="M47.63,214.35v3M48.85,214.35v3M53.52,214.35v3M79.48,214.35v3" stroke="#2a2a2a" stroke-width="1.05" stroke-opacity="0.68" fill="none"/>
<path d="M67.37,214.35v3M68.75,214.35v3" stroke="#2a2a2a" stroke-width="1.05" stroke-opacity="0.95" fill="none"/>
<path d="M38.20,214.94 L38.97,214.81 L39.75,214.64 L40.52,214.45 L41.30,214.26 L42.07,214.07 L42.85,213.89 L43.62,213.71 L44.39,213.53 L45.17,213.36 L45.94,213.19 L46.72,213.02 L47.49,212.85 L48.27,212.69 L49.04,212.53 L49.81,212.37 L50.59,212.23 L51.36,212.09 L52.14,211.96 L52.91,211.85 L53.69,211.74 L54.46,211.65 L55.23,211.56 L56.01,211.47 L56.78,211.39 L57.56,211.29 L58.33,211.18 L59.11,211.06 L59.88,210.93 L60.66,210.77 L61.43,210.60 L62.20,210.42 L62.98,210.22 L63.75,210.01 L64.53,209.79 L65.30,209.54 L66.08,209.26 L66.85,208.98 L67.62,208.73 L68.40,208.52 L69.17,208.40 L69.95,208.37 L70.72,208.42 L71.50,208.53 L72.27,208.69 L73.04,208.90 L73.82,209.17 L74.59,209.48 L75.37,209.82 L76.14,210.19 L76.92,210.59 L77.69,211.01 L78.46,211.46 L79.24,211.93 L80.01,212.38 L80.79,212.81 L81.56,213.20 L82.34,213.56 L83.11,213.90 L83.88,214.21 L84.66,214.50 L85.43,214.73 L86.21,214.90 L86.98,215.00 L87.76,215.07 L88.53,215.11 L89.30,215.15 L90.08,215.18 L90.85,215.21 L91.63,215.24 L92.40,215.27 L93.18,215.30 L93.95,215.32 L94.72,215.35 L95.50,215.37 L96.27,215.40 L97.05,215.42 L97.82,215.44 L98.60,215.46 L99.37,215.48 L100.14,215.50 L100.92,215.52 L101.69,215.54 L102.47,215.55 L103.24,215.57 L104.02,215.58 L104.79,215.60 L105.57,215.61 L106.34,215.62 L107.11,215.63 L107.89,215.64 L108.66,215.65 L109.44,215.66 L110.21,215.67 L110.99,215.68 L111.76,215.69 L112.53,215.69 L113.31,215.70 L114.08,215.71 L114.86,215.71 L115.63,215.71 L116.41,215.72 L117.18,215.72 L117.95,215.72 L118.73,215.73 L119.50,215.73 L120.28,215.73 L121.05,215.73 L121.83,215.73 L122.60,215.73" fill="none" stroke="#151515" stroke-width="1.25" stroke-linejoin="round"/>
<path d="M38.20,228.04 L38.20,226.76 L38.97,226.65 L39.75,226.50 L40.52,226.34 L41.30,226.19 L42.07,226.04 L42.85,225.89 L43.62,225.75 L44.39,225.62 L45.17,225.50 L45.94,225.39 L46.72,225.28 L47.49,225.17 L48.27,225.08 L49.04,224.98 L49.81,224.89 L50.59,224.80 L51.36,224.71 L52.14,224.62 L52.91,224.53 L53.69,224.44 L54.46,224.36 L55.23,224.28 L56.01,224.19 L56.78,224.10 L57.56,223.99 L58.33,223.87 L59.11,223.72 L59.88,223.52 L60.66,223.28 L61.43,222.99 L62.20,222.66 L62.98,222.32 L63.75,221.96 L64.53,221.60 L65.30,221.22 L66.08,220.84 L66.85,220.45 L67.62,220.09 L68.40,219.74 L69.17,219.42 L69.95,219.13 L70.72,218.88 L71.50,218.71 L72.27,218.66 L73.04,218.72 L73.82,218.90 L74.59,219.16 L75.37,219.50 L76.14,219.93 L76.92,220.45 L77.69,221.06 L78.46,221.72 L79.24,222.38 L80.01,223.02 L80.79,223.64 L81.56,224.24 L82.34,224.83 L83.11,225.37 L83.88,225.84 L84.66,226.22 L85.43,226.52 L86.21,226.76 L86.98,226.96 L87.76,227.13 L88.53,227.29 L89.30,227.42 L90.08,227.53 L90.85,227.61 L91.63,227.67 L92.40,227.71 L93.18,227.74 L93.95,227.76 L94.72,227.77 L95.50,227.79 L96.27,227.81 L97.05,227.83 L97.82,227.84 L98.60,227.86 L99.37,227.87 L100.14,227.88 L100.92,227.90 L101.69,227.91 L102.47,227.92 L103.24,227.93 L104.02,227.94 L104.79,227.95 L105.57,227.96 L106.34,227.97 L107.11,227.98 L107.89,227.99 L108.66,228.00 L109.44,228.00 L110.21,228.01 L110.99,228.02 L111.76,228.02 L112.53,228.03 L113.31,228.03 L114.08,228.04 L114.86,228.04 L115.63,228.04 L116.41,228.05 L117.18,228.05 L117.95,228.05 L118.73,228.05 L119.50,228.05 L120.28,228.06 L121.05,228.06 L121.83,228.06 L122.60,228.06 L122.60,228.04 Z" fill="#d5d6da" stroke="none"/>
<path d="M47.63,226.64v3M56.29,226.64v3M71.87,226.64v3M75.33,226.64v3M76.54,226.64v3" stroke="#2a2a2a" stroke-width="1.05" stroke-opacity="0.68" fill="none"/>
<path d="M66.67,226.64v3" stroke="#2a2a2a" stroke-width="1.05" stroke-opacity="0.95" fill="none"/>
<path d="M38.20,226.76 L38.97,226.65 L39.75,226.50 L40.52,226.34 L41.30,226.19 L42.07,226.04 L42.85,225.89 L43.62,225.75 L44.39,225.62 L45.17,225.50 L45.94,225.39 L46.72,225.28 L47.49,225.17 L48.27,225.08 L49.04,224.98 L49.81,224.89 L50.59,224.80 L51.36,224.71 L52.14,224.62 L52.91,224.53 L53.69,224.44 L54.46,224.36 L55.23,224.28 L56.01,224.19 L56.78,224.10 L57.56,223.99 L58.33,223.87 L59.11,223.72 L59.88,223.52 L60.66,223.28 L61.43,222.99 L62.20,222.66 L62.98,222.32 L63.75,221.96 L64.53,221.60 L65.30,221.22 L66.08,220.84 L66.85,220.45 L67.62,220.09 L68.40,219.74 L69.17,219.42 L69.95,219.13 L70.72,218.88 L71.50,218.71 L72.27,218.66 L73.04,218.72 L73.82,218.90 L74.59,219.16 L75.37,219.50 L76.14,219.93 L76.92,220.45 L77.69,221.06 L78.46,221.72 L79.24,222.38 L80.01,223.02 L80.79,223.64 L81.56,224.24 L82.34,224.83 L83.11,225.37 L83.88,225.84 L84.66,226.22 L85.43,226.52 L86.21,226.76 L86.98,226.96 L87.76,227.13 L88.53,227.29 L89.30,227.42 L90.08,227.53 L90.85,227.61 L91.63,227.67 L92.40,227.71 L93.18,227.74 L93.95,227.76 L94.72,227.77 L95.50,227.79 L96.27,227.81 L97.05,227.83 L97.82,227.84 L98.60,227.86 L99.37,227.87 L100.14,227.88 L100.92,227.90 L101.69,227.91 L102.47,227.92 L103.24,227.93 L104.02,227.94 L104.79,227.95 L105.57,227.96 L106.34,227.97 L107.11,227.98 L107.89,227.99 L108.66,228.00 L109.44,228.00 L110.21,228.01 L110.99,228.02 L111.76,228.02 L112.53,228.03 L113.31,228.03 L114.08,228.04 L114.86,228.04 L115.63,228.04 L116.41,228.05 L117.18,228.05 L117.95,228.05 L118.73,228.05 L119.50,228.05 L120.28,228.06 L121.05,228.06 L121.83,228.06 L122.60,228.06" fill="none" stroke="#151515" stroke-width="1.25" stroke-linejoin="round"/>
<path d="M38.20,240.33 L38.20,237.25 L38.97,237.05 L39.75,236.80 L40.52,236.52 L41.30,236.25 L42.07,235.99 L42.85,235.75 L43.62,235.52 L44.39,235.31 L45.17,235.11 L45.94,234.93 L46.72,234.75 L47.49,234.58 L48.27,234.41 L49.04,234.25 L49.81,234.09 L50.59,233.93 L51.36,233.77 L52.14,233.60 L52.91,233.42 L53.69,233.26 L54.46,233.10 L55.23,232.96 L56.01,232.86 L56.78,232.79 L57.56,232.75 L58.33,232.74 L59.11,232.73 L59.88,232.74 L60.66,232.76 L61.43,232.81 L62.20,232.92 L62.98,233.07 L63.75,233.25 L64.53,233.46 L65.30,233.67 L66.08,233.89 L66.85,234.13 L67.62,234.39 L68.40,234.65 L69.17,234.92 L69.95,235.19 L70.72,235.46 L71.50,235.73 L72.27,236.01 L73.04,236.29 L73.82,236.58 L74.59,236.87 L75.37,237.16 L76.14,237.43 L76.92,237.68 L77.69,237.92 L78.46,238.13 L79.24,238.33 L80.01,238.51 L80.79,238.69 L81.56,238.85 L82.34,239.00 L83.11,239.15 L83.88,239.28 L84.66,239.40 L85.43,239.51 L86.21,239.62 L86.98,239.72 L87.76,239.82 L88.53,239.91 L89.30,239.99 L90.08,240.06 L90.85,240.11 L91.63,240.15 L92.40,240.17 L93.18,240.19 L93.95,240.20 L94.72,240.21 L95.50,240.22 L96.27,240.22 L97.05,240.23 L97.82,240.24 L98.60,240.25 L99.37,240.25 L100.14,240.26 L100.92,240.27 L101.69,240.27 L102.47,240.28 L103.24,240.29 L104.02,240.29 L104.79,240.30 L105.57,240.30 L106.34,240.31 L107.11,240.31 L107.89,240.31 L108.66,240.32 L109.44,240.32 L110.21,240.32 L110.99,240.33 L111.76,240.33 L112.53,240.33 L113.31,240.33 L114.08,240.34 L114.86,240.34 L115.63,240.34 L116.41,240.34 L117.18,240.34 L117.95,240.34 L118.73,240.35 L119.50,240.35 L120.28,240.35 L121.05,240.35 L121.83,240.35 L122.60,240.35 L122.60,240.33 Z" fill="#d5d6da" stroke="none"/>
<path d="M40.71,238.93v3M41.92,238.93v3M43.13,238.93v3" stroke="#2a2a2a" stroke-width="1.05" stroke-opacity="0.42" fill="none"/>
<path d="M45.90,238.93v3M47.63,238.93v3M49.37,238.93v3M51.10,238.93v3M52.83,238.93v3M54.04,238.93v3M57.50,238.93v3M59.23,238.93v3M60.96,238.93v3M62.69,238.93v3M64.42,238.93v3M66.67,238.93v3M69.10,238.93v3M72.56,238.93v3M75.33,238.93v3" stroke="#2a2a2a" stroke-width="1.05" stroke-opacity="0.68" fill="none"/>
<path d="M38.20,237.25 L38.97,237.05 L39.75,236.80 L40.52,236.52 L41.30,236.25 L42.07,235.99 L42.85,235.75 L43.62,235.52 L44.39,235.31 L45.17,235.11 L45.94,234.93 L46.72,234.75 L47.49,234.58 L48.27,234.41 L49.04,234.25 L49.81,234.09 L50.59,233.93 L51.36,233.77 L52.14,233.60 L52.91,233.42 L53.69,233.26 L54.46,233.10 L55.23,232.96 L56.01,232.86 L56.78,232.79 L57.56,232.75 L58.33,232.74 L59.11,232.73 L59.88,232.74 L60.66,232.76 L61.43,232.81 L62.20,232.92 L62.98,233.07 L63.75,233.25 L64.53,233.46 L65.30,233.67 L66.08,233.89 L66.85,234.13 L67.62,234.39 L68.40,234.65 L69.17,234.92 L69.95,235.19 L70.72,235.46 L71.50,235.73 L72.27,236.01 L73.04,236.29 L73.82,236.58 L74.59,236.87 L75.37,237.16 L76.14,237.43 L76.92,237.68 L77.69,237.92 L78.46,238.13 L79.24,238.33 L80.01,238.51 L80.79,238.69 L81.56,238.85 L82.34,239.00 L83.11,239.15 L83.88,239.28 L84.66,239.40 L85.43,239.51 L86.21,239.62 L86.98,239.72 L87.76,239.82 L88.53,239.91 L89.30,239.99 L90.08,240.06 L90.85,240.11 L91.63,240.15 L92.40,240.17 L93.18,240.19 L93.95,240.20 L94.72,240.21 L95.50,240.22 L96.27,240.22 L97.05,240.23 L97.82,240.24 L98.60,240.25 L99.37,240.25 L100.14,240.26 L100.92,240.27 L101.69,240.27 L102.47,240.28 L103.24,240.29 L104.02,240.29 L104.79,240.30 L105.57,240.30 L106.34,240.31 L107.11,240.31 L107.89,240.31 L108.66,240.32 L109.44,240.32 L110.21,240.32 L110.99,240.33 L111.76,240.33 L112.53,240.33 L113.31,240.33 L114.08,240.34 L114.86,240.34 L115.63,240.34 L116.41,240.34 L117.18,240.34 L117.95,240.34 L118.73,240.35 L119.50,240.35 L120.28,240.35 L121.05,240.35 L121.83,240.35 L122.60,240.35" fill="none" stroke="#151515" stroke-width="1.25" stroke-linejoin="round"/>
<path d="M38.20,252.62 L38.20,249.91 L38.97,249.53 L39.75,249.04 L40.52,248.52 L41.30,248.02 L42.07,247.54 L42.85,247.09 L43.62,246.67 L44.39,246.31 L45.17,246.02 L45.94,245.80 L46.72,245.63 L47.49,245.51 L48.27,245.44 L49.04,245.42 L49.81,245.44 L50.59,245.51 L51.36,245.60 L52.14,245.69 L52.91,245.80 L53.69,245.91 L54.46,246.04 L55.23,246.17 L56.01,246.31 L56.78,246.45 L57.56,246.60 L58.33,246.76 L59.11,246.91 L59.88,247.06 L60.66,247.21 L61.43,247.36 L62.20,247.52 L62.98,247.67 L63.75,247.83 L64.53,247.99 L65.30,248.15 L66.08,248.31 L66.85,248.47 L67.62,248.62 L68.40,248.77 L69.17,248.92 L69.95,249.06 L70.72,249.19 L71.50,249.33 L72.27,249.45 L73.04,249.58 L73.82,249.70 L74.59,249.83 L75.37,249.95 L76.14,250.07 L76.92,250.18 L77.69,250.30 L78.46,250.42 L79.24,250.53 L80.01,250.65 L80.79,250.77 L81.56,250.89 L82.34,251.00 L83.11,251.12 L83.88,251.22 L84.66,251.33 L85.43,251.43 L86.21,251.52 L86.98,251.60 L87.76,251.68 L88.53,251.76 L89.30,251.84 L90.08,251.91 L90.85,251.98 L91.63,252.05 L92.40,252.11 L93.18,252.16 L93.95,252.21 L94.72,252.25 L95.50,252.28 L96.27,252.31 L97.05,252.33 L97.82,252.35 L98.60,252.37 L99.37,252.39 L100.14,252.40 L100.92,252.41 L101.69,252.43 L102.47,252.44 L103.24,252.45 L104.02,252.46 L104.79,252.47 L105.57,252.48 L106.34,252.49 L107.11,252.50 L107.89,252.51 L108.66,252.52 L109.44,252.53 L110.21,252.54 L110.99,252.55 L111.76,252.56 L112.53,252.57 L113.31,252.57 L114.08,252.58 L114.86,252.59 L115.63,252.60 L116.41,252.60 L117.18,252.61 L117.95,252.62 L118.73,252.62 L119.50,252.62 L120.28,252.63 L121.05,252.63 L121.83,252.63 L122.60,252.64 L122.60,252.62 Z" fill="#d5d6da" stroke="none"/>
<path d="M69.62,251.22v3M74.29,251.22v3M78.79,251.22v3M82.25,251.22v3M85.71,251.22v3" stroke="#2a2a2a" stroke-width="1.05" stroke-opacity="0.42" fill="none"/>
<path d="M41.40,251.22v3M44.87,251.22v3M51.10,251.22v3M53.52,251.22v3M54.56,251.22v3M64.94,251.22v3M66.67,251.22v3M68.40,251.22v3M72.56,251.22v3M76.54,251.22v3" stroke="#2a2a2a" stroke-width="1.05" stroke-opacity="0.68" fill="none"/>
<path d="M38.98,251.22v3M40.19,251.22v3M42.44,251.22v3M43.65,251.22v3M45.90,251.22v3M47.63,251.22v3M48.85,251.22v3M50.06,251.22v3M52.31,251.22v3M56.29,251.22v3M58.02,251.22v3M59.23,251.22v3M60.44,251.22v3M62.17,251.22v3M63.90,251.22v3" stroke="#2a2a2a" stroke-width="1.05" stroke-opacity="0.95" fill="none"/>
<path d="M38.20,249.91 L38.97,249.53 L39.75,249.04 L40.52,248.52 L41.30,248.02 L42.07,247.54 L42.85,247.09 L43.62,246.67 L44.39,246.31 L45.17,246.02 L45.94,245.80 L46.72,245.63 L47.49,245.51 L48.27,245.44 L49.04,245.42 L49.81,245.44 L50.59,245.51 L51.36,245.60 L52.14,245.69 L52.91,245.80 L53.69,245.91 L54.46,246.04 L55.23,246.17 L56.01,246.31 L56.78,246.45 L57.56,246.60 L58.33,246.76 L59.11,246.91 L59.88,247.06 L60.66,247.21 L61.43,247.36 L62.20,247.52 L62.98,247.67 L63.75,247.83 L64.53,247.99 L65.30,248.15 L66.08,248.31 L66.85,248.47 L67.62,248.62 L68.40,248.77 L69.17,248.92 L69.95,249.06 L70.72,249.19 L71.50,249.33 L72.27,249.45 L73.04,249.58 L73.82,249.70 L74.59,249.83 L75.37,249.95 L76.14,250.07 L76.92,250.18 L77.69,250.30 L78.46,250.42 L79.24,250.53 L80.01,250.65 L80.79,250.77 L81.56,250.89 L82.34,251.00 L83.11,251.12 L83.88,251.22 L84.66,251.33 L85.43,251.43 L86.21,251.52 L86.98,251.60 L87.76,251.68 L88.53,251.76 L89.30,251.84 L90.08,251.91 L90.85,251.98 L91.63,252.05 L92.40,252.11 L93.18,252.16 L93.95,252.21 L94.72,252.25 L95.50,252.28 L96.27,252.31 L97.05,252.33 L97.82,252.35 L98.60,252.37 L99.37,252.39 L100.14,252.40 L100.92,252.41 L101.69,252.43 L102.47,252.44 L103.24,252.45 L104.02,252.46 L104.79,252.47 L105.57,252.48 L106.34,252.49 L107.11,252.50 L107.89,252.51 L108.66,252.52 L109.44,252.53 L110.21,252.54 L110.99,252.55 L111.76,252.56 L112.53,252.57 L113.31,252.57 L114.08,252.58 L114.86,252.59 L115.63,252.60 L116.41,252.60 L117.18,252.61 L117.95,252.62 L118.73,252.62 L119.50,252.62 L120.28,252.63 L121.05,252.63 L121.83,252.63 L122.60,252.64" fill="none" stroke="#151515" stroke-width="1.25" stroke-linejoin="round"/>
<path d="M38.20,264.91 L38.20,262.40 L38.97,261.87 L39.75,261.19 L40.52,260.50 L41.30,259.88 L42.07,259.32 L42.85,258.83 L43.62,258.38 L44.39,257.97 L45.17,257.64 L45.94,257.39 L46.72,257.24 L47.49,257.20 L48.27,257.24 L49.04,257.34 L49.81,257.48 L50.59,257.64 L51.36,257.82 L52.14,258.02 L52.91,258.26 L53.69,258.52 L54.46,258.78 L55.23,259.02 L56.01,259.24 L56.78,259.43 L57.56,259.60 L58.33,259.76 L59.11,259.92 L59.88,260.07 L60.66,260.21 L61.43,260.35 L62.20,260.49 L62.98,260.63 L63.75,260.77 L64.53,260.91 L65.30,261.04 L66.08,261.18 L66.85,261.31 L67.62,261.44 L68.40,261.58 L69.17,261.72 L69.95,261.86 L70.72,262.02 L71.50,262.17 L72.27,262.34 L73.04,262.50 L73.82,262.67 L74.59,262.83 L75.37,262.99 L76.14,263.15 L76.92,263.29 L77.69,263.43 L78.46,263.55 L79.24,263.67 L80.01,263.79 L80.79,263.91 L81.56,264.03 L82.34,264.14 L83.11,264.24 L83.88,264.33 L84.66,264.41 L85.43,264.48 L86.21,264.52 L86.98,264.56 L87.76,264.58 L88.53,264.60 L89.30,264.61 L90.08,264.63 L90.85,264.64 L91.63,264.66 L92.40,264.67 L93.18,264.68 L93.95,264.70 L94.72,264.71 L95.50,264.72 L96.27,264.73 L97.05,264.74 L97.82,264.75 L98.60,264.77 L99.37,264.78 L100.14,264.78 L100.92,264.79 L101.69,264.80 L102.47,264.81 L103.24,264.82 L104.02,264.83 L104.79,264.83 L105.57,264.84 L106.34,264.85 L107.11,264.85 L107.89,264.86 L108.66,264.86 L109.44,264.87 L110.21,264.87 L110.99,264.88 L111.76,264.88 L112.53,264.89 L113.31,264.89 L114.08,264.89 L114.86,264.90 L115.63,264.90 L116.41,264.90 L117.18,264.90 L117.95,264.91 L118.73,264.91 L119.50,264.91 L120.28,264.91 L121.05,264.91 L121.83,264.91 L122.60,264.91 L122.60,264.91 Z" fill="#d5d6da" stroke="none"/>
<path d="M40.71,263.51v3M75.33,263.51v3" stroke="#2a2a2a" stroke-width="1.05" stroke-opacity="0.42" fill="none"/>
<path d="M43.65,263.51v3M44.17,263.51v3M45.90,263.51v3M47.63,263.51v3M50.06,263.51v3M51.79,263.51v3M52.83,263.51v3M54.04,263.51v3M56.29,263.51v3M58.02,263.51v3M59.75,263.51v3M71.87,263.51v3M73.60,263.51v3M79.48,263.51v3" stroke="#2a2a2a" stroke-width="1.05" stroke-opacity="0.68" fill="none"/>
<path d="M41.92,263.51v3" stroke="#2a2a2a" stroke-width="1.05" stroke-opacity="0.95" fill="none"/>
<path d="M38.20,262.40 L38.97,261.87 L39.75,261.19 L40.52,260.50 L41.30,259.88 L42.07,259.32 L42.85,258.83 L43.62,258.38 L44.39,257.97 L45.17,257.64 L45.94,257.39 L46.72,257.24 L47.49,257.20 L48.27,257.24 L49.04,257.34 L49.81,257.48 L50.59,257.64 L51.36,257.82 L52.14,258.02 L52.91,258.26 L53.69,258.52 L54.46,258.78 L55.23,259.02 L56.01,259.24 L56.78,259.43 L57.56,259.60 L58.33,259.76 L59.11,259.92 L59.88,260.07 L60.66,260.21 L61.43,260.35 L62.20,260.49 L62.98,260.63 L63.75,260.77 L64.53,260.91 L65.30,261.04 L66.08,261.18 L66.85,261.31 L67.62,261.44 L68.40,261.58 L69.17,261.72 L69.95,261.86 L70.72,262.02 L71.50,262.17 L72.27,262.34 L73.04,262.50 L73.82,262.67 L74.59,262.83 L75.37,262.99 L76.14,263.15 L76.92,263.29 L77.69,263.43 L78.46,263.55 L79.24,263.67 L80.01,263.79 L80.79,263.91 L81.56,264.03 L82.34,264.14 L83.11,264.24 L83.88,264.33 L84.66,264.41 L85.43,264.48 L86.21,264.52 L86.98,264.56 L87.76,264.58 L88.53,264.60 L89.30,264.61 L90.08,264.63 L90.85,264.64 L91.63,264.66 L92.40,264.67 L93.18,264.68 L93.95,264.70 L94.72,264.71 L95.50,264.72 L96.27,264.73 L97.05,264.74 L97.82,264.75 L98.60,264.77 L99.37,264.78 L100.14,264.78 L100.92,264.79 L101.69,264.80 L102.47,264.81 L103.24,264.82 L104.02,264.83 L104.79,264.83 L105.57,264.84 L106.34,264.85 L107.11,264.85 L107.89,264.86 L108.66,264.86 L109.44,264.87 L110.21,264.87 L110.99,264.88 L111.76,264.88 L112.53,264.89 L113.31,264.89 L114.08,264.89 L114.86,264.90 L115.63,264.90 L116.41,264.90 L117.18,264.90 L117.95,264.91 L118.73,264.91 L119.50,264.91 L120.28,264.91 L121.05,264.91 L121.83,264.91 L122.60,264.91" fill="none" stroke="#151515" stroke-width="1.25" stroke-linejoin="round"/>
<path d="M38.20,277.20 L38.20,272.73 L38.97,272.15 L39.75,271.50 L40.52,270.92 L41.30,270.49 L42.07,270.17 L42.85,269.97 L43.62,269.89 L44.39,269.93 L45.17,270.06 L45.94,270.27 L46.72,270.53 L47.49,270.82 L48.27,271.16 L49.04,271.54 L49.81,271.95 L50.59,272.37 L51.36,272.77 L52.14,273.14 L52.91,273.49 L53.69,273.83 L54.46,274.15 L55.23,274.44 L56.01,274.67 L56.78,274.83 L57.56,274.92 L58.33,274.96 L59.11,274.97 L59.88,274.97 L60.66,274.97 L61.43,274.96 L62.20,274.95 L62.98,274.91 L63.75,274.82 L64.53,274.67 L65.30,274.48 L66.08,274.26 L66.85,274.04 L67.62,273.83 L68.40,273.63 L69.17,273.44 L69.95,273.25 L70.72,273.10 L71.50,272.99 L72.27,272.94 L73.04,272.95 L73.82,273.01 L74.59,273.10 L75.37,273.22 L76.14,273.37 L76.92,273.55 L77.69,273.79 L78.46,274.08 L79.24,274.42 L80.01,274.76 L80.79,275.10 L81.56,275.40 L82.34,275.69 L83.11,275.95 L83.88,276.21 L84.66,276.44 L85.43,276.62 L86.21,276.76 L86.98,276.84 L87.76,276.88 L88.53,276.91 L89.30,276.93 L90.08,276.94 L90.85,276.96 L91.63,276.97 L92.40,276.99 L93.18,277.00 L93.95,277.02 L94.72,277.03 L95.50,277.04 L96.27,277.05 L97.05,277.07 L97.82,277.08 L98.60,277.09 L99.37,277.10 L100.14,277.11 L100.92,277.11 L101.69,277.12 L102.47,277.13 L103.24,277.14 L104.02,277.15 L104.79,277.15 L105.57,277.16 L106.34,277.17 L107.11,277.17 L107.89,277.18 L108.66,277.18 L109.44,277.19 L110.21,277.19 L110.99,277.19 L111.76,277.20 L112.53,277.20 L113.31,277.20 L114.08,277.21 L114.86,277.21 L115.63,277.21 L116.41,277.21 L117.18,277.21 L117.95,277.21 L118.73,277.21 L119.50,277.22 L120.28,277.22 L121.05,277.22 L121.83,277.22 L122.60,277.22 L122.60,277.20 Z" fill="#d5d6da" stroke="none"/>
<path d="M40.19,275.80v3M41.23,275.80v3M42.62,275.80v3M52.31,275.80v3M65.12,275.80v3" stroke="#2a2a2a" stroke-width="1.05" stroke-opacity="0.68" fill="none"/>
<path d="M72.04,275.80v3M72.56,275.80v3" stroke="#2a2a2a" stroke-width="1.05" stroke-opacity="0.95" fill="none"/>
<path d="M38.20,272.73 L38.97,272.15 L39.75,271.50 L40.52,270.92 L41.30,270.49 L42.07,270.17 L42.85,269.97 L43.62,269.89 L44.39,269.93 L45.17,270.06 L45.94,270.27 L46.72,270.53 L47.49,270.82 L48.27,271.16 L49.04,271.54 L49.81,271.95 L50.59,272.37 L51.36,272.77 L52.14,273.14 L52.91,273.49 L53.69,273.83 L54.46,274.15 L55.23,274.44 L56.01,274.67 L56.78,274.83 L57.56,274.92 L58.33,274.96 L59.11,274.97 L59.88,274.97 L60.66,274.97 L61.43,274.96 L62.20,274.95 L62.98,274.91 L63.75,274.82 L64.53,274.67 L65.30,274.48 L66.08,274.26 L66.85,274.04 L67.62,273.83 L68.40,273.63 L69.17,273.44 L69.95,273.25 L70.72,273.10 L71.50,272.99 L72.27,272.94 L73.04,272.95 L73.82,273.01 L74.59,273.10 L75.37,273.22 L76.14,273.37 L76.92,273.55 L77.69,273.79 L78.46,274.08 L79.24,274.42 L80.01,274.76 L80.79,275.10 L81.56,275.40 L82.34,275.69 L83.11,275.95 L83.88,276.21 L84.66,276.44 L85.43,276.62 L86.21,276.76 L86.98,276.84 L87.76,276.88 L88.53,276.91 L89.30,276.93 L90.08,276.94 L90.85,276.96 L91.63,276.97 L92.40,276.99 L93.18,277.00 L93.95,277.02 L94.72,277.03 L95.50,277.04 L96.27,277.05 L97.05,277.07 L97.82,277.08 L98.60,277.09 L99.37,277.10 L100.14,277.11 L100.92,277.11 L101.69,277.12 L102.47,277.13 L103.24,277.14 L104.02,277.15 L104.79,277.15 L105.57,277.16 L106.34,277.17 L107.11,277.17 L107.89,277.18 L108.66,277.18 L109.44,277.19 L110.21,277.19 L110.99,277.19 L111.76,277.20 L112.53,277.20 L113.31,277.20 L114.08,277.21 L114.86,277.21 L115.63,277.21 L116.41,277.21 L117.18,277.21 L117.95,277.21 L118.73,277.21 L119.50,277.22 L120.28,277.22 L121.05,277.22 L121.83,277.22 L122.60,277.22" fill="none" stroke="#151515" stroke-width="1.25" stroke-linejoin="round"/>
<path d="M38.20,289.49 L38.20,285.06 L38.97,284.70 L39.75,284.26 L40.52,283.81 L41.30,283.42 L42.07,283.09 L42.85,282.81 L43.62,282.58 L44.39,282.42 L45.17,282.34 L45.94,282.37 L46.72,282.49 L47.49,282.68 L48.27,282.92 L49.04,283.20 L49.81,283.50 L50.59,283.83 L51.36,284.18 L52.14,284.54 L52.91,284.88 L53.69,285.20 L54.46,285.48 L55.23,285.74 L56.01,285.99 L56.78,286.21 L57.56,286.41 L58.33,286.57 L59.11,286.70 L59.88,286.79 L60.66,286.87 L61.43,286.94 L62.20,286.99 L62.98,287.03 L63.75,287.06 L64.53,287.05 L65.30,287.00 L66.08,286.91 L66.85,286.78 L67.62,286.63 L68.40,286.47 L69.17,286.31 L69.95,286.14 L70.72,285.96 L71.50,285.77 L72.27,285.61 L73.04,285.48 L73.82,285.43 L74.59,285.45 L75.37,285.54 L76.14,285.69 L76.92,285.87 L77.69,286.07 L78.46,286.29 L79.24,286.52 L80.01,286.77 L80.79,287.04 L81.56,287.32 L82.34,287.58 L83.11,287.83 L83.88,288.07 L84.66,288.30 L85.43,288.52 L86.21,288.73 L86.98,288.91 L87.76,289.04 L88.53,289.12 L89.30,289.17 L90.08,289.19 L90.85,289.21 L91.63,289.23 L92.40,289.25 L93.18,289.26 L93.95,289.28 L94.72,289.29 L95.50,289.31 L96.27,289.32 L97.05,289.33 L97.82,289.35 L98.60,289.36 L99.37,289.37 L100.14,289.38 L100.92,289.39 L101.69,289.40 L102.47,289.41 L103.24,289.42 L104.02,289.43 L104.79,289.43 L105.57,289.44 L106.34,289.45 L107.11,289.45 L107.89,289.46 L108.66,289.46 L109.44,289.47 L110.21,289.47 L110.99,289.48 L111.76,289.48 L112.53,289.49 L113.31,289.49 L114.08,289.49 L114.86,289.50 L115.63,289.50 L116.41,289.50 L117.18,289.50 L117.95,289.50 L118.73,289.50 L119.50,289.51 L120.28,289.51 L121.05,289.51 L121.83,289.51 L122.60,289.51 L122.60,289.49 Z" fill="#d5d6da" stroke="none"/>
<path d="M79.13,288.09v3" stroke="#2a2a2a" stroke-width="1.05" stroke-opacity="0.42" fill="none"/>
<path d="M44.69,288.09v3M48.15,288.09v3M50.92,288.09v3M52.31,288.09v3M55.08,288.09v3M68.06,288.09v3M70.83,288.09v3M72.21,288.09v3M73.60,288.09v3M75.67,288.09v3" stroke="#2a2a2a" stroke-width="1.05" stroke-opacity="0.68" fill="none"/>
<path d="M40.19,288.09v3M41.23,288.09v3M42.10,288.09v3M43.31,288.09v3M46.77,288.09v3M57.15,288.09v3M57.67,288.09v3" stroke="#2a2a2a" stroke-width="1.05" stroke-opacity="0.95" fill="none"/>
<path d="M38.20,285.06 L38.97,284.70 L39.75,284.26 L40.52,283.81 L41.30,283.42 L42.07,283.09 L42.85,282.81 L43.62,282.58 L44.39,282.42 L45.17,282.34 L45.94,282.37 L46.72,282.49 L47.49,282.68 L48.27,282.92 L49.04,283.20 L49.81,283.50 L50.59,283.83 L51.36,284.18 L52.14,284.54 L52.91,284.88 L53.69,285.20 L54.46,285.48 L55.23,285.74 L56.01,285.99 L56.78,286.21 L57.56,286.41 L58.33,286.57 L59.11,286.70 L59.88,286.79 L60.66,286.87 L61.43,286.94 L62.20,286.99 L62.98,287.03 L63.75,287.06 L64.53,287.05 L65.30,287.00 L66.08,286.91 L66.85,286.78 L67.62,286.63 L68.40,286.47 L69.17,286.31 L69.95,286.14 L70.72,285.96 L71.50,285.77 L72.27,285.61 L73.04,285.48 L73.82,285.43 L74.59,285.45 L75.37,285.54 L76.14,285.69 L76.92,285.87 L77.69,286.07 L78.46,286.29 L79.24,286.52 L80.01,286.77 L80.79,287.04 L81.56,287.32 L82.34,287.58 L83.11,287.83 L83.88,288.07 L84.66,288.30 L85.43,288.52 L86.21,288.73 L86.98,288.91 L87.76,289.04 L88.53,289.12 L89.30,289.17 L90.08,289.19 L90.85,289.21 L91.63,289.23 L92.40,289.25 L93.18,289.26 L93.95,289.28 L94.72,289.29 L95.50,289.31 L96.27,289.32 L97.05,289.33 L97.82,289.35 L98.60,289.36 L99.37,289.37 L100.14,289.38 L100.92,289.39 L101.69,289.40 L102.47,289.41 L103.24,289.42 L104.02,289.43 L104.79,289.43 L105.57,289.44 L106.34,289.45 L107.11,289.45 L107.89,289.46 L108.66,289.46 L109.44,289.47 L110.21,289.47 L110.99,289.48 L111.76,289.48 L112.53,289.49 L113.31,289.49 L114.08,289.49 L114.86,289.50 L115.63,289.50 L116.41,289.50 L117.18,289.50 L117.95,289.50 L118.73,289.50 L119.50,289.51 L120.28,289.51 L121.05,289.51 L121.83,289.51 L122.60,289.51" fill="none" stroke="#151515" stroke-width="1.25" stroke-linejoin="round"/>
<path d="M38.20,301.78 L38.20,296.03 L38.97,295.76 L39.75,295.45 L40.52,295.17 L41.30,294.94 L42.07,294.76 L42.85,294.65 L43.62,294.62 L44.39,294.68 L45.17,294.82 L45.94,295.03 L46.72,295.28 L47.49,295.55 L48.27,295.85 L49.04,296.18 L49.81,296.51 L50.59,296.84 L51.36,297.14 L52.14,297.39 L52.91,297.60 L53.69,297.78 L54.46,297.95 L55.23,298.09 L56.01,298.20 L56.78,298.26 L57.56,298.27 L58.33,298.22 L59.11,298.10 L59.88,297.95 L60.66,297.79 L61.43,297.65 L62.20,297.55 L62.98,297.51 L63.75,297.53 L64.53,297.57 L65.30,297.65 L66.08,297.74 L66.85,297.85 L67.62,297.98 L68.40,298.14 L69.17,298.34 L69.95,298.57 L70.72,298.82 L71.50,299.06 L72.27,299.29 L73.04,299.52 L73.82,299.74 L74.59,299.94 L75.37,300.14 L76.14,300.32 L76.92,300.48 L77.69,300.64 L78.46,300.79 L79.24,300.94 L80.01,301.07 L80.79,301.19 L81.56,301.29 L82.34,301.37 L83.11,301.42 L83.88,301.45 L84.66,301.47 L85.43,301.49 L86.21,301.51 L86.98,301.52 L87.76,301.53 L88.53,301.55 L89.30,301.56 L90.08,301.57 L90.85,301.59 L91.63,301.60 L92.40,301.61 L93.18,301.62 L93.95,301.63 L94.72,301.64 L95.50,301.65 L96.27,301.66 L97.05,301.67 L97.82,301.68 L98.60,301.69 L99.37,301.69 L100.14,301.70 L100.92,301.71 L101.69,301.72 L102.47,301.72 L103.24,301.73 L104.02,301.73 L104.79,301.74 L105.57,301.75 L106.34,301.75 L107.11,301.76 L107.89,301.76 L108.66,301.76 L109.44,301.77 L110.21,301.77 L110.99,301.77 L111.76,301.78 L112.53,301.78 L113.31,301.78 L114.08,301.79 L114.86,301.79 L115.63,301.79 L116.41,301.79 L117.18,301.79 L117.95,301.79 L118.73,301.79 L119.50,301.80 L120.28,301.80 L121.05,301.80 L121.83,301.80 L122.60,301.80 L122.60,301.78 Z" fill="#d5d6da" stroke="none"/>
<path d="M47.63,300.38v3M56.46,300.38v3M62.52,300.38v3M63.21,300.38v3M66.50,300.38v3M77.06,300.38v3" stroke="#2a2a2a" stroke-width="1.05" stroke-opacity="0.68" fill="none"/>
<path d="M45.38,300.38v3M46.77,300.38v3M67.02,300.38v3" stroke="#2a2a2a" stroke-width="1.05" stroke-opacity="0.95" fill="none"/>
<path d="M38.20,296.03 L38.97,295.76 L39.75,295.45 L40.52,295.17 L41.30,294.94 L42.07,294.76 L42.85,294.65 L43.62,294.62 L44.39,294.68 L45.17,294.82 L45.94,295.03 L46.72,295.28 L47.49,295.55 L48.27,295.85 L49.04,296.18 L49.81,296.51 L50.59,296.84 L51.36,297.14 L52.14,297.39 L52.91,297.60 L53.69,297.78 L54.46,297.95 L55.23,298.09 L56.01,298.20 L56.78,298.26 L57.56,298.27 L58.33,298.22 L59.11,298.10 L59.88,297.95 L60.66,297.79 L61.43,297.65 L62.20,297.55 L62.98,297.51 L63.75,297.53 L64.53,297.57 L65.30,297.65 L66.08,297.74 L66.85,297.85 L67.62,297.98 L68.40,298.14 L69.17,298.34 L69.95,298.57 L70.72,298.82 L71.50,299.06 L72.27,299.29 L73.04,299.52 L73.82,299.74 L74.59,299.94 L75.37,300.14 L76.14,300.32 L76.92,300.48 L77.69,300.64 L78.46,300.79 L79.24,300.94 L80.01,301.07 L80.79,301.19 L81.56,301.29 L82.34,301.37 L83.11,301.42 L83.88,301.45 L84.66,301.47 L85.43,301.49 L86.21,301.51 L86.98,301.52 L87.76,301.53 L88.53,301.55 L89.30,301.56 L90.08,301.57 L90.85,301.59 L91.63,301.60 L92.40,301.61 L93.18,301.62 L93.95,301.63 L94.72,301.64 L95.50,301.65 L96.27,301.66 L97.05,301.67 L97.82,301.68 L98.60,301.69 L99.37,301.69 L100.14,301.70 L100.92,301.71 L101.69,301.72 L102.47,301.72 L103.24,301.73 L104.02,301.73 L104.79,301.74 L105.57,301.75 L106.34,301.75 L107.11,301.76 L107.89,301.76 L108.66,301.76 L109.44,301.77 L110.21,301.77 L110.99,301.77 L111.76,301.78 L112.53,301.78 L113.31,301.78 L114.08,301.79 L114.86,301.79 L115.63,301.79 L116.41,301.79 L117.18,301.79 L117.95,301.79 L118.73,301.79 L119.50,301.80 L120.28,301.80 L121.05,301.80 L121.83,301.80 L122.60,301.80" fill="none" stroke="#151515" stroke-width="1.25" stroke-linejoin="round"/>
<path d="M38.20,314.07 L38.20,310.23 L38.97,309.97 L39.75,309.64 L40.52,309.29 L41.30,308.96 L42.07,308.66 L42.85,308.37 L43.62,308.10 L44.39,307.86 L45.17,307.69 L45.94,307.59 L46.72,307.59 L47.49,307.66 L48.27,307.80 L49.04,307.98 L49.81,308.17 L50.59,308.37 L51.36,308.57 L52.14,308.79 L52.91,309.01 L53.69,309.21 L54.46,309.38 L55.23,309.49 L56.01,309.54 L56.78,309.56 L57.56,309.57 L58.33,309.57 L59.11,309.57 L59.88,309.57 L60.66,309.57 L61.43,309.57 L62.20,309.57 L62.98,309.56 L63.75,309.53 L64.53,309.50 L65.30,309.45 L66.08,309.40 L66.85,309.35 L67.62,309.30 L68.40,309.27 L69.17,309.25 L69.95,309.27 L70.72,309.32 L71.50,309.41 L72.27,309.54 L73.04,309.69 L73.82,309.87 L74.59,310.06 L75.37,310.29 L76.14,310.56 L76.92,310.87 L77.69,311.21 L78.46,311.54 L79.24,311.86 L80.01,312.15 L80.79,312.43 L81.56,312.69 L82.34,312.94 L83.11,313.16 L83.88,313.33 L84.66,313.46 L85.43,313.53 L86.21,313.58 L86.98,313.61 L87.76,313.63 L88.53,313.66 L89.30,313.68 L90.08,313.70 L90.85,313.72 L91.63,313.74 L92.40,313.76 L93.18,313.78 L93.95,313.80 L94.72,313.81 L95.50,313.83 L96.27,313.85 L97.05,313.86 L97.82,313.88 L98.60,313.89 L99.37,313.90 L100.14,313.92 L100.92,313.93 L101.69,313.94 L102.47,313.95 L103.24,313.96 L104.02,313.97 L104.79,313.98 L105.57,313.99 L106.34,314.00 L107.11,314.00 L107.89,314.01 L108.66,314.02 L109.44,314.02 L110.21,314.03 L110.99,314.04 L111.76,314.04 L112.53,314.04 L113.31,314.05 L114.08,314.05 L114.86,314.06 L115.63,314.06 L116.41,314.06 L117.18,314.06 L117.95,314.06 L118.73,314.07 L119.50,314.07 L120.28,314.07 L121.05,314.07 L121.83,314.07 L122.60,314.07 L122.60,314.07 Z" fill="#d5d6da" stroke="none"/>
<path d="M38.46,312.67v3M44.69,312.67v3M57.67,312.67v3M61.13,312.67v3M70.83,312.67v3M74.98,312.67v3" stroke="#2a2a2a" stroke-width="1.05" stroke-opacity="0.68" fill="none"/>
<path d="M46.25,312.67v3M48.15,312.67v3M59.75,312.67v3M73.42,312.67v3" stroke="#2a2a2a" stroke-width="1.05" stroke-opacity="0.95" fill="none"/>
<path d="M38.20,310.23 L38.97,309.97 L39.75,309.64 L40.52,309.29 L41.30,308.96 L42.07,308.66 L42.85,308.37 L43.62,308.10 L44.39,307.86 L45.17,307.69 L45.94,307.59 L46.72,307.59 L47.49,307.66 L48.27,307.80 L49.04,307.98 L49.81,308.17 L50.59,308.37 L51.36,308.57 L52.14,308.79 L52.91,309.01 L53.69,309.21 L54.46,309.38 L55.23,309.49 L56.01,309.54 L56.78,309.56 L57.56,309.57 L58.33,309.57 L59.11,309.57 L59.88,309.57 L60.66,309.57 L61.43,309.57 L62.20,309.57 L62.98,309.56 L63.75,309.53 L64.53,309.50 L65.30,309.45 L66.08,309.40 L66.85,309.35 L67.62,309.30 L68.40,309.27 L69.17,309.25 L69.95,309.27 L70.72,309.32 L71.50,309.41 L72.27,309.54 L73.04,309.69 L73.82,309.87 L74.59,310.06 L75.37,310.29 L76.14,310.56 L76.92,310.87 L77.69,311.21 L78.46,311.54 L79.24,311.86 L80.01,312.15 L80.79,312.43 L81.56,312.69 L82.34,312.94 L83.11,313.16 L83.88,313.33 L84.66,313.46 L85.43,313.53 L86.21,313.58 L86.98,313.61 L87.76,313.63 L88.53,313.66 L89.30,313.68 L90.08,313.70 L90.85,313.72 L91.63,313.74 L92.40,313.76 L93.18,313.78 L93.95,313.80 L94.72,313.81 L95.50,313.83 L96.27,313.85 L97.05,313.86 L97.82,313.88 L98.60,313.89 L99.37,313.90 L100.14,313.92 L100.92,313.93 L101.69,313.94 L102.47,313.95 L103.24,313.96 L104.02,313.97 L104.79,313.98 L105.57,313.99 L106.34,314.00 L107.11,314.00 L107.89,314.01 L108.66,314.02 L109.44,314.02 L110.21,314.03 L110.99,314.04 L111.76,314.04 L112.53,314.04 L113.31,314.05 L114.08,314.05 L114.86,314.06 L115.63,314.06 L116.41,314.06 L117.18,314.06 L117.95,314.06 L118.73,314.07 L119.50,314.07 L120.28,314.07 L121.05,314.07 L121.83,314.07 L122.60,314.07" fill="none" stroke="#151515" stroke-width="1.25" stroke-linejoin="round"/>
<path d="M292.95,29.20 L292.95,29.20 L293.74,29.20 L294.53,29.20 L295.32,29.20 L296.11,29.20 L296.89,29.20 L297.68,29.20 L298.47,29.20 L299.26,29.20 L300.05,29.20 L300.84,29.20 L301.63,29.20 L302.42,29.20 L303.21,29.20 L304.00,29.19 L304.78,29.18 L305.57,29.16 L306.36,29.12 L307.15,29.07 L307.94,29.00 L308.73,28.93 L309.52,28.83 L310.31,28.69 L311.10,28.48 L311.89,28.14 L312.67,27.69 L313.46,27.15 L314.25,26.58 L315.04,25.99 L315.83,25.38 L316.62,24.74 L317.41,24.09 L318.20,23.43 L318.99,22.78 L319.78,22.11 L320.56,21.45 L321.35,20.81 L322.14,20.22 L322.93,19.69 L323.72,19.23 L324.51,18.88 L325.30,18.71 L326.09,18.77 L326.88,19.05 L327.67,19.49 L328.45,20.05 L329.24,20.72 L330.03,21.49 L330.82,22.32 L331.61,23.16 L332.40,23.99 L333.19,24.79 L333.98,25.57 L334.77,26.31 L335.56,26.97 L336.34,27.51 L337.13,27.93 L337.92,28.26 L338.71,28.55 L339.50,28.79 L340.29,28.97 L341.08,29.09 L341.87,29.16 L342.66,29.19 L343.45,29.20 L344.23,29.20 L345.02,29.20 L345.81,29.20 L346.60,29.20 L347.39,29.20 L348.18,29.20 L348.97,29.20 L349.76,29.20 L350.55,29.20 L351.34,29.20 L352.12,29.20 L352.91,29.20 L353.70,29.20 L354.49,29.20 L355.28,29.20 L356.07,29.20 L356.86,29.20 L357.65,29.20 L358.44,29.20 L359.23,29.20 L360.01,29.20 L360.80,29.20 L361.59,29.20 L362.38,29.20 L363.17,29.20 L363.96,29.20 L364.75,29.20 L365.54,29.20 L366.33,29.20 L367.12,29.20 L367.90,29.20 L368.69,29.20 L369.48,29.20 L370.27,29.20 L371.06,29.20 L371.85,29.20 L372.64,29.20 L373.43,29.20 L374.22,29.20 L375.01,29.20 L375.79,29.20 L376.58,29.20 L377.37,29.20 L378.16,29.20 L378.95,29.20 L378.95,29.20 Z" fill="#d5d6da" stroke="none"/>
<path d="M316.31,27.80v3M332.06,27.80v3" stroke="#2a2a2a" stroke-width="1.05" stroke-opacity="0.42" fill="none"/>
<path d="M322.37,27.80v3M323.40,27.80v3M326.87,27.80v3M331.02,27.80v3" stroke="#2a2a2a" stroke-width="1.05" stroke-opacity="0.68" fill="none"/>
<path d="M325.83,27.80v3" stroke="#2a2a2a" stroke-width="1.05" stroke-opacity="0.95" fill="none"/>
<path d="M292.95,29.20 L293.74,29.20 L294.53,29.20 L295.32,29.20 L296.11,29.20 L296.89,29.20 L297.68,29.20 L298.47,29.20 L299.26,29.20 L300.05,29.20 L300.84,29.20 L301.63,29.20 L302.42,29.20 L303.21,29.20 L304.00,29.19 L304.78,29.18 L305.57,29.16 L306.36,29.12 L307.15,29.07 L307.94,29.00 L308.73,28.93 L309.52,28.83 L310.31,28.69 L311.10,28.48 L311.89,28.14 L312.67,27.69 L313.46,27.15 L314.25,26.58 L315.04,25.99 L315.83,25.38 L316.62,24.74 L317.41,24.09 L318.20,23.43 L318.99,22.78 L319.78,22.11 L320.56,21.45 L321.35,20.81 L322.14,20.22 L322.93,19.69 L323.72,19.23 L324.51,18.88 L325.30,18.71 L326.09,18.77 L326.88,19.05 L327.67,19.49 L328.45,20.05 L329.24,20.72 L330.03,21.49 L330.82,22.32 L331.61,23.16 L332.40,23.99 L333.19,24.79 L333.98,25.57 L334.77,26.31 L335.56,26.97 L336.34,27.51 L337.13,27.93 L337.92,28.26 L338.71,28.55 L339.50,28.79 L340.29,28.97 L341.08,29.09 L341.87,29.16 L342.66,29.19 L343.45,29.20 L344.23,29.20 L345.02,29.20 L345.81,29.20 L346.60,29.20 L347.39,29.20 L348.18,29.20 L348.97,29.20 L349.76,29.20 L350.55,29.20 L351.34,29.20 L352.12,29.20 L352.91,29.20 L353.70,29.20 L354.49,29.20 L355.28,29.20 L356.07,29.20 L356.86,29.20 L357.65,29.20 L358.44,29.20 L359.23,29.20 L360.01,29.20 L360.80,29.20 L361.59,29.20 L362.38,29.20 L363.17,29.20 L363.96,29.20 L364.75,29.20 L365.54,29.20 L366.33,29.20 L367.12,29.20 L367.90,29.20 L368.69,29.20 L369.48,29.20 L370.27,29.20 L371.06,29.20 L371.85,29.20 L372.64,29.20 L373.43,29.20 L374.22,29.20 L375.01,29.20 L375.79,29.20 L376.58,29.20 L377.37,29.20 L378.16,29.20 L378.95,29.20" fill="none" stroke="#151515" stroke-width="1.05" stroke-linejoin="round"/>
<path d="M292.95,41.20 L292.95,39.58 L293.74,39.51 L294.53,39.41 L295.32,39.31 L296.11,39.21 L296.89,39.13 L297.68,39.06 L298.47,38.98 L299.26,38.92 L300.05,38.86 L300.84,38.82 L301.63,38.80 L302.42,38.81 L303.21,38.84 L304.00,38.89 L304.78,38.96 L305.57,39.02 L306.36,39.07 L307.15,39.10 L307.94,39.12 L308.73,39.12 L309.52,39.12 L310.31,39.12 L311.10,39.12 L311.89,39.11 L312.67,39.08 L313.46,39.01 L314.25,38.89 L315.04,38.71 L315.83,38.50 L316.62,38.25 L317.41,37.98 L318.20,37.66 L318.99,37.30 L319.78,36.88 L320.56,36.45 L321.35,36.02 L322.14,35.61 L322.93,35.20 L323.72,34.81 L324.51,34.47 L325.30,34.21 L326.09,34.07 L326.88,34.06 L327.67,34.18 L328.45,34.37 L329.24,34.62 L330.03,34.91 L330.82,35.24 L331.61,35.61 L332.40,36.02 L333.19,36.44 L333.98,36.86 L334.77,37.26 L335.56,37.65 L336.34,38.03 L337.13,38.40 L337.92,38.75 L338.71,39.08 L339.50,39.38 L340.29,39.66 L341.08,39.91 L341.87,40.15 L342.66,40.37 L343.45,40.56 L344.23,40.70 L345.02,40.79 L345.81,40.85 L346.60,40.88 L347.39,40.90 L348.18,40.92 L348.97,40.94 L349.76,40.95 L350.55,40.97 L351.34,40.98 L352.12,41.00 L352.91,41.01 L353.70,41.03 L354.49,41.04 L355.28,41.05 L356.07,41.06 L356.86,41.07 L357.65,41.08 L358.44,41.09 L359.23,41.10 L360.01,41.11 L360.80,41.12 L361.59,41.13 L362.38,41.14 L363.17,41.14 L363.96,41.15 L364.75,41.15 L365.54,41.16 L366.33,41.16 L367.12,41.17 L367.90,41.17 L368.69,41.18 L369.48,41.18 L370.27,41.18 L371.06,41.19 L371.85,41.19 L372.64,41.19 L373.43,41.19 L374.22,41.20 L375.01,41.20 L375.79,41.20 L376.58,41.20 L377.37,41.20 L378.16,41.20 L378.95,41.20 L378.95,41.20 Z" fill="#d5d6da" stroke="none"/>
<path d="M315.44,39.80v3M332.06,39.80v3M333.27,39.80v3" stroke="#2a2a2a" stroke-width="1.05" stroke-opacity="0.42" fill="none"/>
<path d="M298.13,39.80v3M304.37,39.80v3M321.15,39.80v3M322.37,39.80v3M323.40,39.80v3M324.62,39.80v3M328.08,39.80v3" stroke="#2a2a2a" stroke-width="1.05" stroke-opacity="0.68" fill="none"/>
<path d="M292.95,39.58 L293.74,39.51 L294.53,39.41 L295.32,39.31 L296.11,39.21 L296.89,39.13 L297.68,39.06 L298.47,38.98 L299.26,38.92 L300.05,38.86 L300.84,38.82 L301.63,38.80 L302.42,38.81 L303.21,38.84 L304.00,38.89 L304.78,38.96 L305.57,39.02 L306.36,39.07 L307.15,39.10 L307.94,39.12 L308.73,39.12 L309.52,39.12 L310.31,39.12 L311.10,39.12 L311.89,39.11 L312.67,39.08 L313.46,39.01 L314.25,38.89 L315.04,38.71 L315.83,38.50 L316.62,38.25 L317.41,37.98 L318.20,37.66 L318.99,37.30 L319.78,36.88 L320.56,36.45 L321.35,36.02 L322.14,35.61 L322.93,35.20 L323.72,34.81 L324.51,34.47 L325.30,34.21 L326.09,34.07 L326.88,34.06 L327.67,34.18 L328.45,34.37 L329.24,34.62 L330.03,34.91 L330.82,35.24 L331.61,35.61 L332.40,36.02 L333.19,36.44 L333.98,36.86 L334.77,37.26 L335.56,37.65 L336.34,38.03 L337.13,38.40 L337.92,38.75 L338.71,39.08 L339.50,39.38 L340.29,39.66 L341.08,39.91 L341.87,40.15 L342.66,40.37 L343.45,40.56 L344.23,40.70 L345.02,40.79 L345.81,40.85 L346.60,40.88 L347.39,40.90 L348.18,40.92 L348.97,40.94 L349.76,40.95 L350.55,40.97 L351.34,40.98 L352.12,41.00 L352.91,41.01 L353.70,41.03 L354.49,41.04 L355.28,41.05 L356.07,41.06 L356.86,41.07 L357.65,41.08 L358.44,41.09 L359.23,41.10 L360.01,41.11 L360.80,41.12 L361.59,41.13 L362.38,41.14 L363.17,41.14 L363.96,41.15 L364.75,41.15 L365.54,41.16 L366.33,41.16 L367.12,41.17 L367.90,41.17 L368.69,41.18 L369.48,41.18 L370.27,41.18 L371.06,41.19 L371.85,41.19 L372.64,41.19 L373.43,41.19 L374.22,41.20 L375.01,41.20 L375.79,41.20 L376.58,41.20 L377.37,41.20 L378.16,41.20 L378.95,41.20" fill="none" stroke="#151515" stroke-width="1.05" stroke-linejoin="round"/>
<path d="M292.95,53.20 L292.95,50.12 L293.74,49.73 L294.53,49.26 L295.32,48.79 L296.11,48.38 L296.89,48.03 L297.68,47.75 L298.47,47.54 L299.26,47.44 L300.05,47.47 L300.84,47.62 L301.63,47.86 L302.42,48.15 L303.21,48.46 L304.00,48.79 L304.78,49.14 L305.57,49.48 L306.36,49.77 L307.15,49.99 L307.94,50.15 L308.73,50.27 L309.52,50.34 L310.31,50.38 L311.10,50.37 L311.89,50.31 L312.67,50.20 L313.46,50.06 L314.25,49.90 L315.04,49.74 L315.83,49.60 L316.62,49.47 L317.41,49.35 L318.20,49.24 L318.99,49.15 L319.78,49.09 L320.56,49.08 L321.35,49.09 L322.14,49.13 L322.93,49.19 L323.72,49.27 L324.51,49.35 L325.30,49.44 L326.09,49.54 L326.88,49.64 L327.67,49.74 L328.45,49.86 L329.24,49.99 L330.03,50.13 L330.82,50.29 L331.61,50.48 L332.40,50.70 L333.19,50.95 L333.98,51.22 L334.77,51.51 L335.56,51.78 L336.34,52.03 L337.13,52.26 L337.92,52.47 L338.71,52.67 L339.50,52.86 L340.29,53.00 L341.08,53.11 L341.87,53.17 L342.66,53.19 L343.45,53.20 L344.23,53.20 L345.02,53.20 L345.81,53.20 L346.60,53.20 L347.39,53.20 L348.18,53.20 L348.97,53.20 L349.76,53.20 L350.55,53.20 L351.34,53.20 L352.12,53.20 L352.91,53.20 L353.70,53.20 L354.49,53.20 L355.28,53.20 L356.07,53.20 L356.86,53.20 L357.65,53.20 L358.44,53.20 L359.23,53.20 L360.01,53.20 L360.80,53.20 L361.59,53.20 L362.38,53.20 L363.17,53.20 L363.96,53.20 L364.75,53.20 L365.54,53.20 L366.33,53.20 L367.12,53.20 L367.90,53.20 L368.69,53.20 L369.48,53.20 L370.27,53.20 L371.06,53.20 L371.85,53.20 L372.64,53.20 L373.43,53.20 L374.22,53.20 L375.01,53.20 L375.79,53.20 L376.58,53.20 L377.37,53.20 L378.16,53.20 L378.95,53.20 L378.95,53.20 Z" fill="#d5d6da" stroke="none"/>
<path d="M294.67,51.80v3M296.06,51.80v3M297.44,51.80v3M300.38,51.80v3M312.50,51.80v3M322.88,51.80v3M331.54,51.80v3" stroke="#2a2a2a" stroke-width="1.05" stroke-opacity="0.68" fill="none"/>
<path d="M292.95,50.12 L293.74,49.73 L294.53,49.26 L295.32,48.79 L296.11,48.38 L296.89,48.03 L297.68,47.75 L298.47,47.54 L299.26,47.44 L300.05,47.47 L300.84,47.62 L301.63,47.86 L302.42,48.15 L303.21,48.46 L304.00,48.79 L304.78,49.14 L305.57,49.48 L306.36,49.77 L307.15,49.99 L307.94,50.15 L308.73,50.27 L309.52,50.34 L310.31,50.38 L311.10,50.37 L311.89,50.31 L312.67,50.20 L313.46,50.06 L314.25,49.90 L315.04,49.74 L315.83,49.60 L316.62,49.47 L317.41,49.35 L318.20,49.24 L318.99,49.15 L319.78,49.09 L320.56,49.08 L321.35,49.09 L322.14,49.13 L322.93,49.19 L323.72,49.27 L324.51,49.35 L325.30,49.44 L326.09,49.54 L326.88,49.64 L327.67,49.74 L328.45,49.86 L329.24,49.99 L330.03,50.13 L330.82,50.29 L331.61,50.48 L332.40,50.70 L333.19,50.95 L333.98,51.22 L334.77,51.51 L335.56,51.78 L336.34,52.03 L337.13,52.26 L337.92,52.47 L338.71,52.67 L339.50,52.86 L340.29,53.00 L341.08,53.11 L341.87,53.17 L342.66,53.19 L343.45,53.20 L344.23,53.20 L345.02,53.20 L345.81,53.20 L346.60,53.20 L347.39,53.20 L348.18,53.20 L348.97,53.20 L349.76,53.20 L350.55,53.20 L351.34,53.20 L352.12,53.20 L352.91,53.20 L353.70,53.20 L354.49,53.20 L355.28,53.20 L356.07,53.20 L356.86,53.20 L357.65,53.20 L358.44,53.20 L359.23,53.20 L360.01,53.20 L360.80,53.20 L361.59,53.20 L362.38,53.20 L363.17,53.20 L363.96,53.20 L364.75,53.20 L365.54,53.20 L366.33,53.20 L367.12,53.20 L367.90,53.20 L368.69,53.20 L369.48,53.20 L370.27,53.20 L371.06,53.20 L371.85,53.20 L372.64,53.20 L373.43,53.20 L374.22,53.20 L375.01,53.20 L375.79,53.20 L376.58,53.20 L377.37,53.20 L378.16,53.20 L378.95,53.20" fill="none" stroke="#151515" stroke-width="1.05" stroke-linejoin="round"/>
<path d="M292.95,65.20 L292.95,62.27 L293.74,62.06 L294.53,61.79 L295.32,61.53 L296.11,61.28 L296.89,61.07 L297.68,60.89 L298.47,60.72 L299.26,60.58 L300.05,60.47 L300.84,60.41 L301.63,60.39 L302.42,60.42 L303.21,60.49 L304.00,60.58 L304.78,60.68 L305.57,60.79 L306.36,60.91 L307.15,61.03 L307.94,61.15 L308.73,61.29 L309.52,61.43 L310.31,61.58 L311.10,61.73 L311.89,61.85 L312.67,61.96 L313.46,62.02 L314.25,62.05 L315.04,62.04 L315.83,62.00 L316.62,61.93 L317.41,61.85 L318.20,61.77 L318.99,61.70 L319.78,61.64 L320.56,61.60 L321.35,61.59 L322.14,61.62 L322.93,61.67 L323.72,61.74 L324.51,61.84 L325.30,61.94 L326.09,62.06 L326.88,62.20 L327.67,62.35 L328.45,62.54 L329.24,62.73 L330.03,62.93 L330.82,63.12 L331.61,63.30 L332.40,63.47 L333.19,63.63 L333.98,63.78 L334.77,63.94 L335.56,64.08 L336.34,64.21 L337.13,64.33 L337.92,64.43 L338.71,64.53 L339.50,64.61 L340.29,64.69 L341.08,64.77 L341.87,64.84 L342.66,64.90 L343.45,64.95 L344.23,64.99 L345.02,65.01 L345.81,65.03 L346.60,65.04 L347.39,65.05 L348.18,65.06 L348.97,65.07 L349.76,65.07 L350.55,65.08 L351.34,65.09 L352.12,65.10 L352.91,65.10 L353.70,65.11 L354.49,65.12 L355.28,65.12 L356.07,65.13 L356.86,65.13 L357.65,65.14 L358.44,65.14 L359.23,65.15 L360.01,65.15 L360.80,65.16 L361.59,65.16 L362.38,65.16 L363.17,65.17 L363.96,65.17 L364.75,65.17 L365.54,65.18 L366.33,65.18 L367.12,65.18 L367.90,65.19 L368.69,65.19 L369.48,65.19 L370.27,65.19 L371.06,65.19 L371.85,65.19 L372.64,65.20 L373.43,65.20 L374.22,65.20 L375.01,65.20 L375.79,65.20 L376.58,65.20 L377.37,65.20 L378.16,65.20 L378.95,65.20 L378.95,65.20 Z" fill="#d5d6da" stroke="none"/>
<path d="M296.92,63.80v3M299.87,63.80v3M304.02,63.80v3M309.04,63.80v3M310.25,63.80v3M315.10,63.80v3M317.69,63.80v3M324.62,63.80v3M329.81,63.80v3M336.21,63.80v3" stroke="#2a2a2a" stroke-width="1.05" stroke-opacity="0.42" fill="none"/>
<path d="M297.79,63.80v3M303.33,63.80v3M311.98,63.80v3M313.02,63.80v3M330.33,63.80v3" stroke="#2a2a2a" stroke-width="1.05" stroke-opacity="0.68" fill="none"/>
<path d="M294.33,63.80v3M295.19,63.80v3M300.56,63.80v3M306.10,63.80v3M307.13,63.80v3M321.15,63.80v3M322.37,63.80v3" stroke="#2a2a2a" stroke-width="1.05" stroke-opacity="0.95" fill="none"/>
<path d="M292.95,62.27 L293.74,62.06 L294.53,61.79 L295.32,61.53 L296.11,61.28 L296.89,61.07 L297.68,60.89 L298.47,60.72 L299.26,60.58 L300.05,60.47 L300.84,60.41 L301.63,60.39 L302.42,60.42 L303.21,60.49 L304.00,60.58 L304.78,60.68 L305.57,60.79 L306.36,60.91 L307.15,61.03 L307.94,61.15 L308.73,61.29 L309.52,61.43 L310.31,61.58 L311.10,61.73 L311.89,61.85 L312.67,61.96 L313.46,62.02 L314.25,62.05 L315.04,62.04 L315.83,62.00 L316.62,61.93 L317.41,61.85 L318.20,61.77 L318.99,61.70 L319.78,61.64 L320.56,61.60 L321.35,61.59 L322.14,61.62 L322.93,61.67 L323.72,61.74 L324.51,61.84 L325.30,61.94 L326.09,62.06 L326.88,62.20 L327.67,62.35 L328.45,62.54 L329.24,62.73 L330.03,62.93 L330.82,63.12 L331.61,63.30 L332.40,63.47 L333.19,63.63 L333.98,63.78 L334.77,63.94 L335.56,64.08 L336.34,64.21 L337.13,64.33 L337.92,64.43 L338.71,64.53 L339.50,64.61 L340.29,64.69 L341.08,64.77 L341.87,64.84 L342.66,64.90 L343.45,64.95 L344.23,64.99 L345.02,65.01 L345.81,65.03 L346.60,65.04 L347.39,65.05 L348.18,65.06 L348.97,65.07 L349.76,65.07 L350.55,65.08 L351.34,65.09 L352.12,65.10 L352.91,65.10 L353.70,65.11 L354.49,65.12 L355.28,65.12 L356.07,65.13 L356.86,65.13 L357.65,65.14 L358.44,65.14 L359.23,65.15 L360.01,65.15 L360.80,65.16 L361.59,65.16 L362.38,65.16 L363.17,65.17 L363.96,65.17 L364.75,65.17 L365.54,65.18 L366.33,65.18 L367.12,65.18 L367.90,65.19 L368.69,65.19 L369.48,65.19 L370.27,65.19 L371.06,65.19 L371.85,65.19 L372.64,65.20 L373.43,65.20 L374.22,65.20 L375.01,65.20 L375.79,65.20 L376.58,65.20 L377.37,65.20 L378.16,65.20 L378.95,65.20" fill="none" stroke="#151515" stroke-width="1.05" stroke-linejoin="round"/>
<path d="M292.95,77.20 L292.95,75.05 L293.74,74.73 L294.53,74.33 L295.32,73.89 L296.11,73.47 L296.89,73.06 L297.68,72.66 L298.47,72.26 L299.26,71.91 L300.05,71.63 L300.84,71.45 L301.63,71.39 L302.42,71.41 L303.21,71.48 L304.00,71.59 L304.78,71.71 L305.57,71.85 L306.36,72.01 L307.15,72.18 L307.94,72.38 L308.73,72.58 L309.52,72.77 L310.31,72.94 L311.10,73.08 L311.89,73.21 L312.67,73.33 L313.46,73.44 L314.25,73.54 L315.04,73.63 L315.83,73.72 L316.62,73.80 L317.41,73.88 L318.20,73.95 L318.99,74.02 L319.78,74.08 L320.56,74.13 L321.35,74.18 L322.14,74.24 L322.93,74.30 L323.72,74.36 L324.51,74.43 L325.30,74.50 L326.09,74.58 L326.88,74.67 L327.67,74.76 L328.45,74.85 L329.24,74.96 L330.03,75.07 L330.82,75.19 L331.61,75.33 L332.40,75.49 L333.19,75.68 L333.98,75.88 L334.77,76.08 L335.56,76.26 L336.34,76.42 L337.13,76.55 L337.92,76.67 L338.71,76.77 L339.50,76.86 L340.29,76.93 L341.08,76.98 L341.87,77.01 L342.66,77.03 L343.45,77.04 L344.23,77.05 L345.02,77.06 L345.81,77.07 L346.60,77.08 L347.39,77.08 L348.18,77.09 L348.97,77.10 L349.76,77.10 L350.55,77.11 L351.34,77.12 L352.12,77.12 L352.91,77.13 L353.70,77.13 L354.49,77.14 L355.28,77.14 L356.07,77.15 L356.86,77.15 L357.65,77.15 L358.44,77.16 L359.23,77.16 L360.01,77.17 L360.80,77.17 L361.59,77.17 L362.38,77.17 L363.17,77.18 L363.96,77.18 L364.75,77.18 L365.54,77.18 L366.33,77.19 L367.12,77.19 L367.90,77.19 L368.69,77.19 L369.48,77.19 L370.27,77.19 L371.06,77.19 L371.85,77.20 L372.64,77.20 L373.43,77.20 L374.22,77.20 L375.01,77.20 L375.79,77.20 L376.58,77.20 L377.37,77.20 L378.16,77.20 L378.95,77.20 L378.95,77.20 Z" fill="#d5d6da" stroke="none"/>
<path d="M309.04,75.80v3M310.77,75.80v3M321.15,75.80v3M324.62,75.80v3M326.87,75.80v3M329.29,75.80v3M331.54,75.80v3M336.21,75.80v3M349.71,75.80v3" stroke="#2a2a2a" stroke-width="1.05" stroke-opacity="0.42" fill="none"/>
<path d="M298.65,75.80v3M302.12,75.80v3M307.31,75.80v3M313.71,75.80v3M314.75,75.80v3" stroke="#2a2a2a" stroke-width="1.05" stroke-opacity="0.68" fill="none"/>
<path d="M293.98,75.80v3M294.85,75.80v3M295.71,75.80v3M297.44,75.80v3M299.87,75.80v3M300.90,75.80v3M303.33,75.80v3M304.37,75.80v3M306.10,75.80v3M318.90,75.80v3M319.94,75.80v3" stroke="#2a2a2a" stroke-width="1.05" stroke-opacity="0.95" fill="none"/>
<path d="M292.95,75.05 L293.74,74.73 L294.53,74.33 L295.32,73.89 L296.11,73.47 L296.89,73.06 L297.68,72.66 L298.47,72.26 L299.26,71.91 L300.05,71.63 L300.84,71.45 L301.63,71.39 L302.42,71.41 L303.21,71.48 L304.00,71.59 L304.78,71.71 L305.57,71.85 L306.36,72.01 L307.15,72.18 L307.94,72.38 L308.73,72.58 L309.52,72.77 L310.31,72.94 L311.10,73.08 L311.89,73.21 L312.67,73.33 L313.46,73.44 L314.25,73.54 L315.04,73.63 L315.83,73.72 L316.62,73.80 L317.41,73.88 L318.20,73.95 L318.99,74.02 L319.78,74.08 L320.56,74.13 L321.35,74.18 L322.14,74.24 L322.93,74.30 L323.72,74.36 L324.51,74.43 L325.30,74.50 L326.09,74.58 L326.88,74.67 L327.67,74.76 L328.45,74.85 L329.24,74.96 L330.03,75.07 L330.82,75.19 L331.61,75.33 L332.40,75.49 L333.19,75.68 L333.98,75.88 L334.77,76.08 L335.56,76.26 L336.34,76.42 L337.13,76.55 L337.92,76.67 L338.71,76.77 L339.50,76.86 L340.29,76.93 L341.08,76.98 L341.87,77.01 L342.66,77.03 L343.45,77.04 L344.23,77.05 L345.02,77.06 L345.81,77.07 L346.60,77.08 L347.39,77.08 L348.18,77.09 L348.97,77.10 L349.76,77.10 L350.55,77.11 L351.34,77.12 L352.12,77.12 L352.91,77.13 L353.70,77.13 L354.49,77.14 L355.28,77.14 L356.07,77.15 L356.86,77.15 L357.65,77.15 L358.44,77.16 L359.23,77.16 L360.01,77.17 L360.80,77.17 L361.59,77.17 L362.38,77.17 L363.17,77.18 L363.96,77.18 L364.75,77.18 L365.54,77.18 L366.33,77.19 L367.12,77.19 L367.90,77.19 L368.69,77.19 L369.48,77.19 L370.27,77.19 L371.06,77.19 L371.85,77.20 L372.64,77.20 L373.43,77.20 L374.22,77.20 L375.01,77.20 L375.79,77.20 L376.58,77.20 L377.37,77.20 L378.16,77.20 L378.95,77.20" fill="none" stroke="#151515" stroke-width="1.05" stroke-linejoin="round"/>
<path d="M292.95,89.20 L292.95,84.35 L293.74,84.00 L294.53,83.54 L295.32,83.02 L296.11,82.49 L296.89,81.95 L297.68,81.43 L298.47,80.97 L299.26,80.58 L300.05,80.29 L300.84,80.14 L301.63,80.18 L302.42,80.41 L303.21,80.82 L304.00,81.36 L304.78,82.02 L305.57,82.79 L306.36,83.61 L307.15,84.45 L307.94,85.28 L308.73,86.08 L309.52,86.79 L310.31,87.34 L311.10,87.70 L311.89,87.93 L312.67,88.08 L313.46,88.20 L314.25,88.30 L315.04,88.38 L315.83,88.45 L316.62,88.51 L317.41,88.57 L318.20,88.63 L318.99,88.69 L319.78,88.75 L320.56,88.80 L321.35,88.85 L322.14,88.90 L322.93,88.95 L323.72,88.99 L324.51,89.03 L325.30,89.06 L326.09,89.08 L326.88,89.10 L327.67,89.11 L328.45,89.11 L329.24,89.11 L330.03,89.11 L330.82,89.11 L331.61,89.11 L332.40,89.11 L333.19,89.11 L333.98,89.11 L334.77,89.11 L335.56,89.11 L336.34,89.11 L337.13,89.11 L337.92,89.11 L338.71,89.11 L339.50,89.09 L340.29,89.07 L341.08,89.04 L341.87,89.00 L342.66,88.95 L343.45,88.90 L344.23,88.84 L345.02,88.77 L345.81,88.71 L346.60,88.63 L347.39,88.55 L348.18,88.44 L348.97,88.31 L349.76,88.16 L350.55,88.01 L351.34,87.87 L352.12,87.74 L352.91,87.65 L353.70,87.60 L354.49,87.60 L355.28,87.63 L356.07,87.70 L356.86,87.78 L357.65,87.88 L358.44,87.98 L359.23,88.08 L360.01,88.18 L360.80,88.29 L361.59,88.41 L362.38,88.53 L363.17,88.64 L363.96,88.75 L364.75,88.83 L365.54,88.89 L366.33,88.93 L367.12,88.96 L367.90,88.98 L368.69,89.00 L369.48,89.02 L370.27,89.03 L371.06,89.05 L371.85,89.06 L372.64,89.07 L373.43,89.08 L374.22,89.09 L375.01,89.10 L375.79,89.10 L376.58,89.11 L377.37,89.11 L378.16,89.11 L378.95,89.11 L378.95,89.20 Z" fill="#d5d6da" stroke="none"/>
<path d="M297.79,87.80v3M299.52,87.80v3M301.25,87.80v3M350.58,87.80v3" stroke="#2a2a2a" stroke-width="1.05" stroke-opacity="0.42" fill="none"/>
<path d="M303.85,87.80v3M306.44,87.80v3M310.42,87.80v3M320.81,87.80v3" stroke="#2a2a2a" stroke-width="1.05" stroke-opacity="0.68" fill="none"/>
<path d="M292.95,84.35 L293.74,84.00 L294.53,83.54 L295.32,83.02 L296.11,82.49 L296.89,81.95 L297.68,81.43 L298.47,80.97 L299.26,80.58 L300.05,80.29 L300.84,80.14 L301.63,80.18 L302.42,80.41 L303.21,80.82 L304.00,81.36 L304.78,82.02 L305.57,82.79 L306.36,83.61 L307.15,84.45 L307.94,85.28 L308.73,86.08 L309.52,86.79 L310.31,87.34 L311.10,87.70 L311.89,87.93 L312.67,88.08 L313.46,88.20 L314.25,88.30 L315.04,88.38 L315.83,88.45 L316.62,88.51 L317.41,88.57 L318.20,88.63 L318.99,88.69 L319.78,88.75 L320.56,88.80 L321.35,88.85 L322.14,88.90 L322.93,88.95 L323.72,88.99 L324.51,89.03 L325.30,89.06 L326.09,89.08 L326.88,89.10 L327.67,89.11 L328.45,89.11 L329.24,89.11 L330.03,89.11 L330.82,89.11 L331.61,89.11 L332.40,89.11 L333.19,89.11 L333.98,89.11 L334.77,89.11 L335.56,89.11 L336.34,89.11 L337.13,89.11 L337.92,89.11 L338.71,89.11 L339.50,89.09 L340.29,89.07 L341.08,89.04 L341.87,89.00 L342.66,88.95 L343.45,88.90 L344.23,88.84 L345.02,88.77 L345.81,88.71 L346.60,88.63 L347.39,88.55 L348.18,88.44 L348.97,88.31 L349.76,88.16 L350.55,88.01 L351.34,87.87 L352.12,87.74 L352.91,87.65 L353.70,87.60 L354.49,87.60 L355.28,87.63 L356.07,87.70 L356.86,87.78 L357.65,87.88 L358.44,87.98 L359.23,88.08 L360.01,88.18 L360.80,88.29 L361.59,88.41 L362.38,88.53 L363.17,88.64 L363.96,88.75 L364.75,88.83 L365.54,88.89 L366.33,88.93 L367.12,88.96 L367.90,88.98 L368.69,89.00 L369.48,89.02 L370.27,89.03 L371.06,89.05 L371.85,89.06 L372.64,89.07 L373.43,89.08 L374.22,89.09 L375.01,89.10 L375.79,89.10 L376.58,89.11 L377.37,89.11 L378.16,89.11 L378.95,89.11" fill="none" stroke="#151515" stroke-width="1.05" stroke-linejoin="round"/>
<path d="M292.95,101.20 L292.95,98.36 L293.74,98.05 L294.53,97.65 L295.32,97.21 L296.11,96.78 L296.89,96.35 L297.68,95.92 L298.47,95.52 L299.26,95.18 L300.05,94.98 L300.84,94.92 L301.63,94.98 L302.42,95.13 L303.21,95.33 L304.00,95.57 L304.78,95.86 L305.57,96.19 L306.36,96.56 L307.15,96.93 L307.94,97.28 L308.73,97.60 L309.52,97.88 L310.31,98.13 L311.10,98.37 L311.89,98.57 L312.67,98.74 L313.46,98.85 L314.25,98.91 L315.04,98.92 L315.83,98.89 L316.62,98.85 L317.41,98.79 L318.20,98.72 L318.99,98.63 L319.78,98.50 L320.56,98.32 L321.35,98.10 L322.14,97.86 L322.93,97.63 L323.72,97.43 L324.51,97.25 L325.30,97.11 L326.09,97.00 L326.88,96.96 L327.67,97.00 L328.45,97.14 L329.24,97.37 L330.03,97.66 L330.82,97.97 L331.61,98.29 L332.40,98.61 L333.19,98.95 L333.98,99.29 L334.77,99.63 L335.56,99.93 L336.34,100.19 L337.13,100.41 L337.92,100.61 L338.71,100.78 L339.50,100.93 L340.29,101.05 L341.08,101.13 L341.87,101.18 L342.66,101.19 L343.45,101.20 L344.23,101.20 L345.02,101.20 L345.81,101.20 L346.60,101.20 L347.39,101.20 L348.18,101.20 L348.97,101.20 L349.76,101.20 L350.55,101.20 L351.34,101.20 L352.12,101.20 L352.91,101.20 L353.70,101.20 L354.49,101.20 L355.28,101.20 L356.07,101.20 L356.86,101.20 L357.65,101.20 L358.44,101.20 L359.23,101.20 L360.01,101.20 L360.80,101.20 L361.59,101.20 L362.38,101.20 L363.17,101.20 L363.96,101.20 L364.75,101.20 L365.54,101.20 L366.33,101.20 L367.12,101.20 L367.90,101.20 L368.69,101.20 L369.48,101.20 L370.27,101.20 L371.06,101.20 L371.85,101.20 L372.64,101.20 L373.43,101.20 L374.22,101.20 L375.01,101.20 L375.79,101.20 L376.58,101.20 L377.37,101.20 L378.16,101.20 L378.95,101.20 L378.95,101.20 Z" fill="#d5d6da" stroke="none"/>
<path d="M298.13,99.80v3M309.56,99.80v3M315.44,99.80v3M316.48,99.80v3M331.02,99.80v3M336.21,99.80v3M348.85,99.80v3" stroke="#2a2a2a" stroke-width="1.05" stroke-opacity="0.42" fill="none"/>
<path d="M293.98,99.80v3M300.90,99.80v3M305.58,99.80v3M306.79,99.80v3M327.56,99.80v3M329.29,99.80v3" stroke="#2a2a2a" stroke-width="1.05" stroke-opacity="0.68" fill="none"/>
<path d="M295.19,99.80v3M296.40,99.80v3M299.87,99.80v3M302.63,99.80v3M303.85,99.80v3M312.50,99.80v3M324.62,99.80v3M325.83,99.80v3" stroke="#2a2a2a" stroke-width="1.05" stroke-opacity="0.95" fill="none"/>
<path d="M292.95,98.36 L293.74,98.05 L294.53,97.65 L295.32,97.21 L296.11,96.78 L296.89,96.35 L297.68,95.92 L298.47,95.52 L299.26,95.18 L300.05,94.98 L300.84,94.92 L301.63,94.98 L302.42,95.13 L303.21,95.33 L304.00,95.57 L304.78,95.86 L305.57,96.19 L306.36,96.56 L307.15,96.93 L307.94,97.28 L308.73,97.60 L309.52,97.88 L310.31,98.13 L311.10,98.37 L311.89,98.57 L312.67,98.74 L313.46,98.85 L314.25,98.91 L315.04,98.92 L315.83,98.89 L316.62,98.85 L317.41,98.79 L318.20,98.72 L318.99,98.63 L319.78,98.50 L320.56,98.32 L321.35,98.10 L322.14,97.86 L322.93,97.63 L323.72,97.43 L324.51,97.25 L325.30,97.11 L326.09,97.00 L326.88,96.96 L327.67,97.00 L328.45,97.14 L329.24,97.37 L330.03,97.66 L330.82,97.97 L331.61,98.29 L332.40,98.61 L333.19,98.95 L333.98,99.29 L334.77,99.63 L335.56,99.93 L336.34,100.19 L337.13,100.41 L337.92,100.61 L338.71,100.78 L339.50,100.93 L340.29,101.05 L341.08,101.13 L341.87,101.18 L342.66,101.19 L343.45,101.20 L344.23,101.20 L345.02,101.20 L345.81,101.20 L346.60,101.20 L347.39,101.20 L348.18,101.20 L348.97,101.20 L349.76,101.20 L350.55,101.20 L351.34,101.20 L352.12,101.20 L352.91,101.20 L353.70,101.20 L354.49,101.20 L355.28,101.20 L356.07,101.20 L356.86,101.20 L357.65,101.20 L358.44,101.20 L359.23,101.20 L360.01,101.20 L360.80,101.20 L361.59,101.20 L362.38,101.20 L363.17,101.20 L363.96,101.20 L364.75,101.20 L365.54,101.20 L366.33,101.20 L367.12,101.20 L367.90,101.20 L368.69,101.20 L369.48,101.20 L370.27,101.20 L371.06,101.20 L371.85,101.20 L372.64,101.20 L373.43,101.20 L374.22,101.20 L375.01,101.20 L375.79,101.20 L376.58,101.20 L377.37,101.20 L378.16,101.20 L378.95,101.20" fill="none" stroke="#151515" stroke-width="1.05" stroke-linejoin="round"/>
<path d="M292.95,113.20 L292.95,110.80 L293.74,110.39 L294.53,109.84 L295.32,109.26 L296.11,108.68 L296.89,108.12 L297.68,107.59 L298.47,107.11 L299.26,106.69 L300.05,106.36 L300.84,106.16 L301.63,106.17 L302.42,106.36 L303.21,106.66 L304.00,107.01 L304.78,107.36 L305.57,107.69 L306.36,108.02 L307.15,108.34 L307.94,108.65 L308.73,108.92 L309.52,109.18 L310.31,109.41 L311.10,109.63 L311.89,109.83 L312.67,110.02 L313.46,110.21 L314.25,110.39 L315.04,110.57 L315.83,110.75 L316.62,110.93 L317.41,111.12 L318.20,111.30 L318.99,111.48 L319.78,111.66 L320.56,111.81 L321.35,111.95 L322.14,112.06 L322.93,112.15 L323.72,112.21 L324.51,112.26 L325.30,112.31 L326.09,112.34 L326.88,112.38 L327.67,112.41 L328.45,112.45 L329.24,112.48 L330.03,112.53 L330.82,112.57 L331.61,112.63 L332.40,112.68 L333.19,112.74 L333.98,112.80 L334.77,112.86 L335.56,112.91 L336.34,112.95 L337.13,112.99 L337.92,113.01 L338.71,113.03 L339.50,113.04 L340.29,113.04 L341.08,113.05 L341.87,113.06 L342.66,113.07 L343.45,113.07 L344.23,113.08 L345.02,113.08 L345.81,113.09 L346.60,113.10 L347.39,113.10 L348.18,113.11 L348.97,113.11 L349.76,113.12 L350.55,113.12 L351.34,113.13 L352.12,113.13 L352.91,113.14 L353.70,113.14 L354.49,113.14 L355.28,113.15 L356.07,113.15 L356.86,113.16 L357.65,113.16 L358.44,113.16 L359.23,113.17 L360.01,113.17 L360.80,113.17 L361.59,113.17 L362.38,113.18 L363.17,113.18 L363.96,113.18 L364.75,113.18 L365.54,113.18 L366.33,113.19 L367.12,113.19 L367.90,113.19 L368.69,113.19 L369.48,113.19 L370.27,113.19 L371.06,113.19 L371.85,113.20 L372.64,113.20 L373.43,113.20 L374.22,113.20 L375.01,113.20 L375.79,113.20 L376.58,113.20 L377.37,113.20 L378.16,113.20 L378.95,113.20 L378.95,113.20 Z" fill="#d5d6da" stroke="none"/>
<path d="M294.67,111.80v3M296.40,111.80v3M298.13,111.80v3M316.48,111.80v3M340.19,111.80v3" stroke="#2a2a2a" stroke-width="1.05" stroke-opacity="0.42" fill="none"/>
<path d="M299.87,111.80v3M303.85,111.80v3M307.31,111.80v3M313.02,111.80v3M314.75,111.80v3M323.40,111.80v3" stroke="#2a2a2a" stroke-width="1.05" stroke-opacity="0.68" fill="none"/>
<path d="M301.60,111.80v3M302.63,111.80v3" stroke="#2a2a2a" stroke-width="1.05" stroke-opacity="0.95" fill="none"/>
<path d="M292.95,110.80 L293.74,110.39 L294.53,109.84 L295.32,109.26 L296.11,108.68 L296.89,108.12 L297.68,107.59 L298.47,107.11 L299.26,106.69 L300.05,106.36 L300.84,106.16 L301.63,106.17 L302.42,106.36 L303.21,106.66 L304.00,107.01 L304.78,107.36 L305.57,107.69 L306.36,108.02 L307.15,108.34 L307.94,108.65 L308.73,108.92 L309.52,109.18 L310.31,109.41 L311.10,109.63 L311.89,109.83 L312.67,110.02 L313.46,110.21 L314.25,110.39 L315.04,110.57 L315.83,110.75 L316.62,110.93 L317.41,111.12 L318.20,111.30 L318.99,111.48 L319.78,111.66 L320.56,111.81 L321.35,111.95 L322.14,112.06 L322.93,112.15 L323.72,112.21 L324.51,112.26 L325.30,112.31 L326.09,112.34 L326.88,112.38 L327.67,112.41 L328.45,112.45 L329.24,112.48 L330.03,112.53 L330.82,112.57 L331.61,112.63 L332.40,112.68 L333.19,112.74 L333.98,112.80 L334.77,112.86 L335.56,112.91 L336.34,112.95 L337.13,112.99 L337.92,113.01 L338.71,113.03 L339.50,113.04 L340.29,113.04 L341.08,113.05 L341.87,113.06 L342.66,113.07 L343.45,113.07 L344.23,113.08 L345.02,113.08 L345.81,113.09 L346.60,113.10 L347.39,113.10 L348.18,113.11 L348.97,113.11 L349.76,113.12 L350.55,113.12 L351.34,113.13 L352.12,113.13 L352.91,113.14 L353.70,113.14 L354.49,113.14 L355.28,113.15 L356.07,113.15 L356.86,113.16 L357.65,113.16 L358.44,113.16 L359.23,113.17 L360.01,113.17 L360.80,113.17 L361.59,113.17 L362.38,113.18 L363.17,113.18 L363.96,113.18 L364.75,113.18 L365.54,113.18 L366.33,113.19 L367.12,113.19 L367.90,113.19 L368.69,113.19 L369.48,113.19 L370.27,113.19 L371.06,113.19 L371.85,113.20 L372.64,113.20 L373.43,113.20 L374.22,113.20 L375.01,113.20 L375.79,113.20 L376.58,113.20 L377.37,113.20 L378.16,113.20 L378.95,113.20" fill="none" stroke="#151515" stroke-width="1.05" stroke-linejoin="round"/>
<path d="M292.95,125.20 L292.95,122.19 L293.74,121.89 L294.53,121.50 L295.32,121.09 L296.11,120.72 L296.89,120.38 L297.68,120.07 L298.47,119.79 L299.26,119.54 L300.05,119.35 L300.84,119.24 L301.63,119.23 L302.42,119.29 L303.21,119.43 L304.00,119.60 L304.78,119.81 L305.57,120.03 L306.36,120.28 L307.15,120.56 L307.94,120.86 L308.73,121.15 L309.52,121.41 L310.31,121.61 L311.10,121.75 L311.89,121.84 L312.67,121.92 L313.46,121.98 L314.25,122.03 L315.04,122.05 L315.83,122.05 L316.62,122.01 L317.41,121.92 L318.20,121.79 L318.99,121.63 L319.78,121.48 L320.56,121.33 L321.35,121.20 L322.14,121.10 L322.93,121.01 L323.72,120.94 L324.51,120.93 L325.30,120.96 L326.09,121.06 L326.88,121.21 L327.67,121.40 L328.45,121.62 L329.24,121.86 L330.03,122.15 L330.82,122.46 L331.61,122.79 L332.40,123.12 L333.19,123.42 L333.98,123.71 L334.77,123.98 L335.56,124.23 L336.34,124.46 L337.13,124.64 L337.92,124.76 L338.71,124.83 L339.50,124.87 L340.29,124.89 L341.08,124.91 L341.87,124.92 L342.66,124.94 L343.45,124.95 L344.23,124.97 L345.02,124.98 L345.81,124.99 L346.60,125.00 L347.39,125.02 L348.18,125.03 L348.97,125.04 L349.76,125.05 L350.55,125.06 L351.34,125.07 L352.12,125.08 L352.91,125.08 L353.70,125.09 L354.49,125.10 L355.28,125.11 L356.07,125.12 L356.86,125.12 L357.65,125.13 L358.44,125.14 L359.23,125.14 L360.01,125.15 L360.80,125.15 L361.59,125.16 L362.38,125.16 L363.17,125.16 L363.96,125.17 L364.75,125.17 L365.54,125.18 L366.33,125.18 L367.12,125.18 L367.90,125.18 L368.69,125.19 L369.48,125.19 L370.27,125.19 L371.06,125.19 L371.85,125.19 L372.64,125.20 L373.43,125.20 L374.22,125.20 L375.01,125.20 L375.79,125.20 L376.58,125.20 L377.37,125.20 L378.16,125.20 L378.95,125.20 L378.95,125.20 Z" fill="#d5d6da" stroke="none"/>
<path d="M293.98,123.80v3M295.19,123.80v3M296.92,123.80v3M307.31,123.80v3M309.04,123.80v3M311.29,123.80v3M314.23,123.80v3M317.17,123.80v3M319.42,123.80v3M326.87,123.80v3M329.81,123.80v3" stroke="#2a2a2a" stroke-width="1.05" stroke-opacity="0.42" fill="none"/>
<path d="M298.65,123.80v3M302.63,123.80v3M306.10,123.80v3M310.25,123.80v3M313.02,123.80v3M315.44,123.80v3M318.21,123.80v3M320.63,123.80v3M325.13,123.80v3" stroke="#2a2a2a" stroke-width="1.05" stroke-opacity="0.68" fill="none"/>
<path d="M300.38,123.80v3M301.60,123.80v3M322.88,123.80v3M324.10,123.80v3" stroke="#2a2a2a" stroke-width="1.05" stroke-opacity="0.95" fill="none"/>
<path d="M292.95,122.19 L293.74,121.89 L294.53,121.50 L295.32,121.09 L296.11,120.72 L296.89,120.38 L297.68,120.07 L298.47,119.79 L299.26,119.54 L300.05,119.35 L300.84,119.24 L301.63,119.23 L302.42,119.29 L303.21,119.43 L304.00,119.60 L304.78,119.81 L305.57,120.03 L306.36,120.28 L307.15,120.56 L307.94,120.86 L308.73,121.15 L309.52,121.41 L310.31,121.61 L311.10,121.75 L311.89,121.84 L312.67,121.92 L313.46,121.98 L314.25,122.03 L315.04,122.05 L315.83,122.05 L316.62,122.01 L317.41,121.92 L318.20,121.79 L318.99,121.63 L319.78,121.48 L320.56,121.33 L321.35,121.20 L322.14,121.10 L322.93,121.01 L323.72,120.94 L324.51,120.93 L325.30,120.96 L326.09,121.06 L326.88,121.21 L327.67,121.40 L328.45,121.62 L329.24,121.86 L330.03,122.15 L330.82,122.46 L331.61,122.79 L332.40,123.12 L333.19,123.42 L333.98,123.71 L334.77,123.98 L335.56,124.23 L336.34,124.46 L337.13,124.64 L337.92,124.76 L338.71,124.83 L339.50,124.87 L340.29,124.89 L341.08,124.91 L341.87,124.92 L342.66,124.94 L343.45,124.95 L344.23,124.97 L345.02,124.98 L345.81,124.99 L346.60,125.00 L347.39,125.02 L348.18,125.03 L348.97,125.04 L349.76,125.05 L350.55,125.06 L351.34,125.07 L352.12,125.08 L352.91,125.08 L353.70,125.09 L354.49,125.10 L355.28,125.11 L356.07,125.12 L356.86,125.12 L357.65,125.13 L358.44,125.14 L359.23,125.14 L360.01,125.15 L360.80,125.15 L361.59,125.16 L362.38,125.16 L363.17,125.16 L363.96,125.17 L364.75,125.17 L365.54,125.18 L366.33,125.18 L367.12,125.18 L367.90,125.18 L368.69,125.19 L369.48,125.19 L370.27,125.19 L371.06,125.19 L371.85,125.19 L372.64,125.20 L373.43,125.20 L374.22,125.20 L375.01,125.20 L375.79,125.20 L376.58,125.20 L377.37,125.20 L378.16,125.20 L378.95,125.20" fill="none" stroke="#151515" stroke-width="1.05" stroke-linejoin="round"/>
<text x="11.80" y="15.80" font-size="12" fill="#000" text-anchor="middle" font-weight="bold" stroke="#000" stroke-width="0.35">A</text>
<text x="266.20" y="15.50" font-size="12" fill="#000" text-anchor="middle" font-weight="bold" stroke="#000" stroke-width="0.35">B</text>
<text x="265.90" y="184.60" font-size="12" fill="#000" text-anchor="middle" font-weight="bold" stroke="#000" stroke-width="0.35">C</text>
<text x="21.00" y="33.00" font-size="6.5" fill="#88c06c" text-anchor="middle" font-style="italic" stroke="#88c06c" stroke-width="0.1">EZH2</text>
<text x="21.00" y="45.30" font-size="6.5" fill="#c9565e" text-anchor="middle" font-style="italic" stroke="#c9565e" stroke-width="0.1">JAK2</text>
<text x="21.00" y="57.60" font-size="6.5" fill="#c9565e" text-anchor="middle" font-style="italic" stroke="#c9565e" stroke-width="0.1">CBL</text>
<text x="21.00" y="69.90" font-size="6.5" fill="#6cace2" text-anchor="middle" font-style="italic" stroke="#6cace2" stroke-width="0.1">SMC</text>
<text x="21.00" y="82.20" font-size="6.5" fill="#8d88c6" text-anchor="middle" font-style="italic" stroke="#8d88c6" stroke-width="0.1">TET2</text>
<text x="21.00" y="94.50" font-size="6.5" fill="#8d88c6" text-anchor="middle" font-style="italic" stroke="#8d88c6" stroke-width="0.1">DNMT3A</text>
<text x="21.00" y="106.80" font-size="6.5" fill="#edbf33" text-anchor="middle" font-style="italic" stroke="#edbf33" stroke-width="0.1">ZBTB7A</text>
<text x="21.00" y="119.10" font-size="6.5" fill="#edbf33" text-anchor="middle" font-style="italic" stroke="#edbf33" stroke-width="0.1">WT1</text>
<text x="21.00" y="131.40" font-size="6.5" fill="#525d76" text-anchor="middle" font-style="italic" stroke="#525d76" stroke-width="0.1">DHX15</text>
<text x="21.00" y="143.70" font-size="6.5" fill="#88c06c" text-anchor="middle" font-style="italic" stroke="#88c06c" stroke-width="0.1">ASXL2</text>
<text x="21.00" y="156.00" font-size="6.5" fill="#6cace2" text-anchor="middle" font-style="italic" stroke="#6cace2" stroke-width="0.1">STAG2</text>
<text x="21.00" y="168.30" font-size="6.5" fill="#88c06c" text-anchor="middle" font-style="italic" stroke="#88c06c" stroke-width="0.1">KDM6</text>
<text x="21.00" y="180.60" font-size="6.5" fill="#6cace2" text-anchor="middle" font-style="italic" stroke="#6cace2" stroke-width="0.1">SMC1</text>
<text x="21.00" y="192.90" font-size="6.5" fill="#525d76" text-anchor="middle" font-style="italic" stroke="#525d76" stroke-width="0.1">CCND2</text>
<text x="21.00" y="205.20" font-size="6.5" fill="#6cace2" text-anchor="middle" font-style="italic" stroke="#6cace2" stroke-width="0.1">RAD21</text>
<text x="21.00" y="217.50" font-size="6.5" fill="#c9565e" text-anchor="middle" font-style="italic" stroke="#c9565e" stroke-width="0.1">CSF3R</text>
<text x="21.00" y="229.80" font-size="6.5" fill="#88c06c" text-anchor="middle" font-style="italic" stroke="#88c06c" stroke-width="0.1">SRCAP</text>
<text x="21.00" y="242.10" font-size="6.5" fill="#88c06c" text-anchor="middle" font-style="italic" stroke="#88c06c" stroke-width="0.1">ASXL1</text>
<text x="21.00" y="254.40" font-size="6.5" fill="#c9565e" text-anchor="middle" font-style="italic" stroke="#c9565e" stroke-width="0.1">KIT</text>
<text x="21.00" y="266.70" font-size="6.5" fill="#c9565e" text-anchor="middle" font-style="italic" stroke="#c9565e" stroke-width="0.1">FLT3</text>
<text x="21.00" y="279.00" font-size="6.5" fill="#525d76" text-anchor="middle" font-style="italic" stroke="#525d76" stroke-width="0.1">BRCC3</text>
<text x="21.00" y="291.30" font-size="6.5" fill="#c9565e" text-anchor="middle" font-style="italic" stroke="#c9565e" stroke-width="0.1">NRAS</text>
<text x="21.00" y="303.60" font-size="6.5" fill="#525d76" text-anchor="middle" font-style="italic" stroke="#525d76" stroke-width="0.1">MGA</text>
<text x="21.00" y="315.90" font-size="6.5" fill="#c9565e" text-anchor="middle" font-style="italic" stroke="#c9565e" stroke-width="0.1">DNM2</text>
<text x="238.00" y="34.70" font-size="6.5" fill="#333" text-anchor="middle"><tspan font-style="italic">n</tspan>=12</text>
<text x="238.00" y="47.00" font-size="6.5" fill="#333" text-anchor="middle"><tspan font-style="italic">n</tspan>=7</text>
<text x="238.00" y="59.30" font-size="6.5" fill="#333" text-anchor="middle"><tspan font-style="italic">n</tspan>=9</text>
<text x="238.00" y="71.60" font-size="6.5" fill="#333" text-anchor="middle"><tspan font-style="italic">n</tspan>=8</text>
<text x="238.00" y="83.90" font-size="6.5" fill="#333" text-anchor="middle"><tspan font-style="italic">n</tspan>=20</text>
<text x="238.00" y="96.20" font-size="6.5" fill="#333" text-anchor="middle"><tspan font-style="italic">n</tspan>=11</text>
<text x="238.00" y="108.50" font-size="6.5" fill="#333" text-anchor="middle"><tspan font-style="italic">n</tspan>=36</text>
<text x="238.00" y="120.80" font-size="6.5" fill="#333" text-anchor="middle"><tspan font-style="italic">n</tspan>=8</text>
<text x="238.00" y="133.10" font-size="6.5" fill="#333" text-anchor="middle"><tspan font-style="italic">n</tspan>=10</text>
<text x="238.00" y="145.40" font-size="6.5" fill="#333" text-anchor="middle"><tspan font-style="italic">n</tspan>=27</text>
<text x="238.00" y="157.70" font-size="6.5" fill="#333" text-anchor="middle"><tspan font-style="italic">n</tspan>=7</text>
<text x="238.00" y="170.00" font-size="6.5" fill="#333" text-anchor="middle"><tspan font-style="italic">n</tspan>=16</text>
<text x="238.00" y="182.30" font-size="6.5" fill="#333" text-anchor="middle"><tspan font-style="italic">n</tspan>=17</text>
<text x="238.00" y="194.60" font-size="6.5" fill="#333" text-anchor="middle"><tspan font-style="italic">n</tspan>=19</text>
<text x="238.00" y="206.90" font-size="6.5" fill="#333" text-anchor="middle"><tspan font-style="italic">n</tspan>=20</text>
<text x="238.00" y="219.20" font-size="6.5" fill="#333" text-anchor="middle"><tspan font-style="italic">n</tspan>=9</text>
<text x="238.00" y="231.50" font-size="6.5" fill="#333" text-anchor="middle"><tspan font-style="italic">n</tspan>=8</text>
<text x="238.00" y="243.80" font-size="6.5" fill="#333" text-anchor="middle"><tspan font-style="italic">n</tspan>=27</text>
<text x="238.00" y="256.10" font-size="6.5" fill="#333" text-anchor="middle"><tspan font-style="italic">n</tspan>=48</text>
<text x="238.00" y="268.40" font-size="6.5" fill="#333" text-anchor="middle"><tspan font-style="italic">n</tspan>=25</text>
<text x="238.00" y="280.70" font-size="6.5" fill="#333" text-anchor="middle"><tspan font-style="italic">n</tspan>=8</text>
<text x="238.00" y="293.00" font-size="6.5" fill="#333" text-anchor="middle"><tspan font-style="italic">n</tspan>=31</text>
<text x="238.00" y="305.30" font-size="6.5" fill="#333" text-anchor="middle"><tspan font-style="italic">n</tspan>=10</text>
<text x="238.00" y="317.60" font-size="6.5" fill="#333" text-anchor="middle"><tspan font-style="italic">n</tspan>=11</text>
<line x1="140.8" y1="31.40" x2="164.8" y2="31.40" stroke="#333" stroke-width="1.0"/>
<circle cx="152.5" cy="31.40" r="1.5" fill="#1b2f80"/>
<line x1="139.0" y1="43.69" x2="173.1" y2="43.69" stroke="#555" stroke-width="1.4"/>
<circle cx="156.1" cy="43.69" r="1.5" fill="#1b2f80"/>
<line x1="138.2" y1="55.98" x2="175.4" y2="55.98" stroke="#666" stroke-width="1.7"/>
<circle cx="156.9" cy="55.98" r="1.5" fill="#1b2f80"/>
<line x1="160.3" y1="68.27" x2="183.0" y2="68.27" stroke="#333" stroke-width="1.0"/>
<circle cx="171.8" cy="68.27" r="1.5" fill="#1b2f80"/>
<line x1="166.9" y1="80.56" x2="180.1" y2="80.56" stroke="#444" stroke-width="1.2"/>
<circle cx="173.4" cy="80.56" r="1.5" fill="#1b2f80"/>
<line x1="166.2" y1="92.85" x2="186.9" y2="92.85" stroke="#777" stroke-width="1.8"/>
<circle cx="176.5" cy="92.85" r="1.5" fill="#1b2f80"/>
<line x1="174.1" y1="105.14" x2="184.4" y2="105.14" stroke="#444" stroke-width="1.2"/>
<circle cx="179.2" cy="105.14" r="1.5" fill="#1b2f80"/>
<line x1="167.9" y1="117.43" x2="191.6" y2="117.43" stroke="#3a3a3a" stroke-width="1.2"/>
<circle cx="179.6" cy="117.43" r="1.5" fill="#1b2f80"/>
<line x1="170.8" y1="129.72" x2="191.9" y2="129.72" stroke="#666" stroke-width="1.7"/>
<circle cx="181.3" cy="129.72" r="1.5" fill="#1b2f80"/>
<line x1="176.1" y1="142.01" x2="187.7" y2="142.01" stroke="#555" stroke-width="1.4"/>
<circle cx="181.8" cy="142.01" r="1.5" fill="#1b2f80"/>
<line x1="171.2" y1="154.30" x2="194.9" y2="154.30" stroke="#333" stroke-width="1.0"/>
<circle cx="183.0" cy="154.30" r="1.5" fill="#1b2f80"/>
<line x1="176.4" y1="166.59" x2="190.1" y2="166.59" stroke="#555" stroke-width="1.5"/>
<circle cx="183.0" cy="166.59" r="1.5" fill="#1b2f80"/>
<line x1="178.3" y1="178.88" x2="195.7" y2="178.88" stroke="#666" stroke-width="1.7"/>
<circle cx="186.9" cy="178.88" r="1.5" fill="#1b2f80"/>
<line x1="181.2" y1="191.17" x2="193.0" y2="191.17" stroke="#333" stroke-width="1.2"/>
<circle cx="187.0" cy="191.17" r="1.5" fill="#1b2f80"/>
<line x1="181.2" y1="203.46" x2="193.3" y2="203.46" stroke="#333" stroke-width="1.2"/>
<circle cx="187.4" cy="203.46" r="1.5" fill="#1b2f80"/>
<line x1="180.3" y1="215.75" x2="201.6" y2="215.75" stroke="#555" stroke-width="1.5"/>
<circle cx="191.1" cy="215.75" r="1.5" fill="#1b2f80"/>
<line x1="179.1" y1="228.04" x2="203.8" y2="228.04" stroke="#444" stroke-width="1.3"/>
<circle cx="191.4" cy="228.04" r="1.5" fill="#1b2f80"/>
<line x1="186.9" y1="240.33" x2="196.8" y2="240.33" stroke="#333" stroke-width="1.3"/>
<circle cx="191.9" cy="240.33" r="1.5" fill="#1b2f80"/>
<line x1="188.1" y1="252.62" x2="196.7" y2="252.62" stroke="#555" stroke-width="1.5"/>
<circle cx="192.5" cy="252.62" r="1.5" fill="#1b2f80"/>
<line x1="188.6" y1="264.91" x2="200.5" y2="264.91" stroke="#555" stroke-width="1.5"/>
<circle cx="194.4" cy="264.91" r="1.5" fill="#1b2f80"/>
<line x1="184.7" y1="277.20" x2="208.6" y2="277.20" stroke="#333" stroke-width="1.1"/>
<circle cx="196.4" cy="277.20" r="1.5" fill="#1b2f80"/>
<line x1="195.1" y1="289.49" x2="206.8" y2="289.49" stroke="#333" stroke-width="1.2"/>
<circle cx="200.7" cy="289.49" r="1.5" fill="#1b2f80"/>
<line x1="192.1" y1="301.78" x2="210.1" y2="301.78" stroke="#666" stroke-width="1.7"/>
<circle cx="201.0" cy="301.78" r="1.5" fill="#1b2f80"/>
<line x1="200.1" y1="314.07" x2="225.0" y2="314.07" stroke="#333" stroke-width="1.2"/>
<circle cx="212.6" cy="314.07" r="1.5" fill="#1b2f80"/>
<line x1="35.2" y1="317.5" x2="125.8" y2="317.5" stroke="#1a1a1a" stroke-width="1.15"/>
<line x1="38.30" y1="317" x2="38.30" y2="320.4" stroke="#1a1a1a" stroke-width="1.1"/>
<text x="38.30" y="329.20" font-size="6.3" fill="#111" text-anchor="middle" stroke="#111" stroke-width="0.12">0</text>
<line x1="59.45" y1="317" x2="59.45" y2="320.4" stroke="#1a1a1a" stroke-width="1.1"/>
<text x="59.45" y="329.20" font-size="6.3" fill="#111" text-anchor="middle" stroke="#111" stroke-width="0.12">0.25</text>
<line x1="80.60" y1="317" x2="80.60" y2="320.4" stroke="#1a1a1a" stroke-width="1.1"/>
<text x="80.60" y="329.20" font-size="6.3" fill="#111" text-anchor="middle" stroke="#111" stroke-width="0.12">0.50</text>
<line x1="101.75" y1="317" x2="101.75" y2="320.4" stroke="#1a1a1a" stroke-width="1.1"/>
<text x="101.75" y="329.20" font-size="6.3" fill="#111" text-anchor="middle" stroke="#111" stroke-width="0.12">0.75</text>
<line x1="122.90" y1="317" x2="122.90" y2="320.4" stroke="#1a1a1a" stroke-width="1.1"/>
<text x="122.90" y="329.20" font-size="6.3" fill="#111" text-anchor="middle" stroke="#111" stroke-width="0.12">1.0</text>
<text x="80.30" y="341.20" font-size="8.6" fill="#111" text-anchor="middle" textLength="55.0" lengthAdjust="spacingAndGlyphs" stroke="#111" stroke-width="0.35">Variant allele fraction</text>
<line x1="136.2" y1="324.8" x2="224" y2="324.8" stroke="#000" stroke-width="1"/>
<path d="M228.2,324.8 L222,322.2 L222,327.4 Z" fill="#000"/>
<text x="182.10" y="333.50" font-size="6.3" fill="#111" text-anchor="middle" textLength="56.5" lengthAdjust="spacingAndGlyphs" stroke="#111" stroke-width="0.1">Relative order in time</text>
<text x="275.20" y="31.70" font-size="6.5" fill="#88c06c" text-anchor="middle" font-style="italic" stroke="#88c06c" stroke-width="0.1">SRCAP</text>
<text x="275.20" y="43.66" font-size="6.5" fill="#edbf33" text-anchor="middle" font-style="italic" stroke="#edbf33" stroke-width="0.1">BCORL1</text>
<text x="275.20" y="55.62" font-size="6.5" fill="#edbf33" text-anchor="middle" font-style="italic" stroke="#edbf33" stroke-width="0.1">FOXP1</text>
<text x="275.20" y="67.58" font-size="6.5" fill="#c9565e" text-anchor="middle" font-style="italic" stroke="#c9565e" stroke-width="0.1">FLT3</text>
<text x="275.20" y="79.54" font-size="6.5" fill="#c9565e" text-anchor="middle" font-style="italic" stroke="#c9565e" stroke-width="0.1">NRAS</text>
<text x="275.20" y="91.50" font-size="6.5" fill="#c9565e" text-anchor="middle" font-style="italic" stroke="#c9565e" stroke-width="0.1">NF1</text>
<text x="275.20" y="103.46" font-size="6.5" fill="#c9565e" text-anchor="middle" font-style="italic" stroke="#c9565e" stroke-width="0.1">KIT</text>
<text x="275.20" y="115.42" font-size="6.5" fill="#edbf33" text-anchor="middle" font-style="italic" stroke="#edbf33" stroke-width="0.1">WT1</text>
<text x="275.20" y="127.38" font-size="6.5" fill="#c9565e" text-anchor="middle" font-style="italic" stroke="#c9565e" stroke-width="0.1">KRAS</text>
<text x="504.40" y="28.90" font-size="6.5" fill="#222" text-anchor="middle">n=8</text>
<text x="504.40" y="41.40" font-size="6.5" fill="#222" text-anchor="middle">n=10</text>
<text x="504.40" y="53.40" font-size="6.5" fill="#222" text-anchor="middle">n=6</text>
<text x="504.40" y="65.90" font-size="6.5" fill="#222" text-anchor="middle">n=39</text>
<text x="504.40" y="78.30" font-size="6.5" fill="#222" text-anchor="middle">n=76</text>
<text x="504.40" y="90.60" font-size="6.5" fill="#222" text-anchor="middle">n=10</text>
<text x="504.40" y="103.00" font-size="6.5" fill="#222" text-anchor="middle">n=50</text>
<text x="504.40" y="115.40" font-size="6.5" fill="#222" text-anchor="middle">n=17</text>
<text x="504.40" y="127.90" font-size="6.5" fill="#222" text-anchor="middle">n=27</text>
<line x1="399.6" y1="28.00" x2="443.1" y2="28.00" stroke="#666" stroke-width="1.6"/>
<circle cx="421.4" cy="28.00" r="1.0" fill="#2a4fa0"/>
<line x1="424.8" y1="39.10" x2="453.1" y2="39.10" stroke="#555" stroke-width="1.3"/>
<circle cx="438.9" cy="39.10" r="1.0" fill="#2a4fa0"/>
<line x1="441.3" y1="50.60" x2="473.5" y2="50.60" stroke="#555" stroke-width="1.4"/>
<circle cx="457.3" cy="50.60" r="1.0" fill="#2a4fa0"/>
<line x1="453.9" y1="63.10" x2="470.4" y2="63.10" stroke="#555" stroke-width="1.4"/>
<circle cx="462.1" cy="63.10" r="1.0" fill="#2a4fa0"/>
<line x1="457.5" y1="75.50" x2="468.3" y2="75.50" stroke="#444" stroke-width="1.2"/>
<circle cx="463.0" cy="75.50" r="1.0" fill="#2a4fa0"/>
<line x1="457.0" y1="88.00" x2="482.5" y2="88.00" stroke="#666" stroke-width="1.6"/>
<circle cx="469.5" cy="88.00" r="1.0" fill="#2a4fa0"/>
<line x1="464.5" y1="100.30" x2="478.8" y2="100.30" stroke="#444" stroke-width="1.2"/>
<circle cx="471.8" cy="100.30" r="1.0" fill="#2a4fa0"/>
<line x1="465.0" y1="112.80" x2="484.5" y2="112.80" stroke="#666" stroke-width="1.6"/>
<circle cx="474.5" cy="112.80" r="1.0" fill="#2a4fa0"/>
<line x1="465.0" y1="125.30" x2="485.8" y2="125.30" stroke="#444" stroke-width="1.3"/>
<circle cx="475.8" cy="125.30" r="1.0" fill="#2a4fa0"/>
<line x1="291.0" y1="134.0" x2="382.9" y2="134.0" stroke="#1a1a1a" stroke-width="1.15"/>
<line x1="293.90" y1="133.5" x2="293.90" y2="136.8" stroke="#1a1a1a" stroke-width="1.1"/>
<text x="293.90" y="146.30" font-size="6.3" fill="#111" text-anchor="middle" stroke="#111" stroke-width="0.12">0</text>
<line x1="315.42" y1="133.5" x2="315.42" y2="136.8" stroke="#1a1a1a" stroke-width="1.1"/>
<text x="315.42" y="146.30" font-size="6.3" fill="#111" text-anchor="middle" stroke="#111" stroke-width="0.12">0.25</text>
<line x1="336.95" y1="133.5" x2="336.95" y2="136.8" stroke="#1a1a1a" stroke-width="1.1"/>
<text x="336.95" y="146.30" font-size="6.3" fill="#111" text-anchor="middle" stroke="#111" stroke-width="0.12">0.50</text>
<line x1="358.48" y1="133.5" x2="358.48" y2="136.8" stroke="#1a1a1a" stroke-width="1.1"/>
<text x="358.48" y="146.30" font-size="6.3" fill="#111" text-anchor="middle" stroke="#111" stroke-width="0.12">0.75</text>
<line x1="380.00" y1="133.5" x2="380.00" y2="136.8" stroke="#1a1a1a" stroke-width="1.1"/>
<text x="380.00" y="146.30" font-size="6.3" fill="#111" text-anchor="middle" stroke="#111" stroke-width="0.12">1.0</text>
<text x="337.20" y="156.70" font-size="8.6" fill="#111" text-anchor="middle" textLength="55.6" lengthAdjust="spacingAndGlyphs" stroke="#111" stroke-width="0.35">Variant allele fraction</text>
<line x1="399.5" y1="146.1" x2="480.5" y2="146.1" stroke="#000" stroke-width="1"/>
<path d="M484.3,146.1 L478.3,143.6 L478.3,148.6 Z" fill="#000"/>
<text x="442.20" y="155.20" font-size="6.3" fill="#111" text-anchor="middle" textLength="57.0" lengthAdjust="spacingAndGlyphs" stroke="#111" stroke-width="0.1">Relative order in time</text>
<line x1="388.1" y1="202.8" x2="388.1" y2="205.8" stroke="#3d4560" stroke-width="1.8"/>
<line x1="388.1" y1="223.2" x2="388.1" y2="236.5" stroke="#3d4560" stroke-width="1.8"/>
<line x1="388.1" y1="254.5" x2="388.1" y2="267.2" stroke="#3d4560" stroke-width="1.8"/>
<line x1="388.1" y1="285.0" x2="388.1" y2="298.0" stroke="#3d4560" stroke-width="1.8"/>
<line x1="388.1" y1="315.4" x2="388.1" y2="325" stroke="#3d4560" stroke-width="1.7"/>
<path d="M388.1,329.6 L384.0,320.2 L388.1,323.8 L392.20000000000005,320.2 Z" fill="#3d4560"/>
<line x1="364.2" y1="214.95" x2="380.0" y2="214.95" stroke="#777" stroke-width="1.3"/>
<circle cx="364.2" cy="214.95" r="1.85" fill="#000"/>
<line x1="396.7" y1="245.4" x2="411.8" y2="245.4" stroke="#333" stroke-width="0.85"/>
<circle cx="411.8" cy="245.4" r="1.85" fill="#000"/>
<line x1="364.3" y1="276.3" x2="380.5" y2="276.3" stroke="#333" stroke-width="0.85"/>
<circle cx="364.3" cy="276.3" r="1.85" fill="#000"/>
<line x1="396.0" y1="276.3" x2="411.8" y2="276.3" stroke="#333" stroke-width="0.85"/>
<circle cx="411.8" cy="276.3" r="1.85" fill="#000"/>
<line x1="396.7" y1="307.4" x2="411.8" y2="307.4" stroke="#333" stroke-width="0.85"/>
<circle cx="411.8" cy="307.4" r="1.85" fill="#000"/>
<defs><pattern id="st" patternUnits="userSpaceOnUse" x="382.9" y="0" width="2.6" height="10"><rect width="2.6" height="10" fill="#7db8e8"/><rect x="0" width="0.9" height="10" fill="#cfe5a6"/></pattern></defs>
<circle cx="388.1" cy="214.3" r="5.9" fill="#8b85c5" stroke="#1e1e1e" stroke-width="1.0"/>
<circle cx="388.1" cy="245.4" r="5.9" fill="#ebbf1f" stroke="#1e1e1e" stroke-width="1.0"/>
<circle cx="388.1" cy="276.1" r="5.9" fill="url(#st)" stroke="#1e1e1e" stroke-width="1.0"/>
<circle cx="388.1" cy="307.0" r="5.9" fill="#bd5650" stroke="#1e1e1e" stroke-width="1.0"/>
<text x="388.30" y="197.80" font-size="6.2" fill="#151515" text-anchor="middle" textLength="13.2" lengthAdjust="spacingAndGlyphs">early</text>
<text x="332.40" y="217.50" font-size="6.3" fill="#151515" text-anchor="middle" textLength="31.2" lengthAdjust="spacingAndGlyphs">Methylation</text>
<text x="440.50" y="248.00" font-size="6.3" fill="#151515" text-anchor="middle" textLength="35.0" lengthAdjust="spacingAndGlyphs">Transcription</text>
<text x="332.70" y="274.30" font-size="6.3" fill="#151515" text-anchor="middle">Chromatin</text>
<text x="332.70" y="281.80" font-size="6.3" fill="#151515" text-anchor="middle">modification</text>
<text x="440.20" y="274.30" font-size="6.3" fill="#151515" text-anchor="middle">Cohesin</text>
<text x="440.20" y="282.00" font-size="6.3" fill="#151515" text-anchor="middle">complex</text>
<text x="440.30" y="310.30" font-size="6.3" fill="#151515" text-anchor="middle">Signaling</text>
<text x="388.30" y="339.80" font-size="6.2" fill="#151515" text-anchor="middle">late</text>
</svg>
</body></html>
